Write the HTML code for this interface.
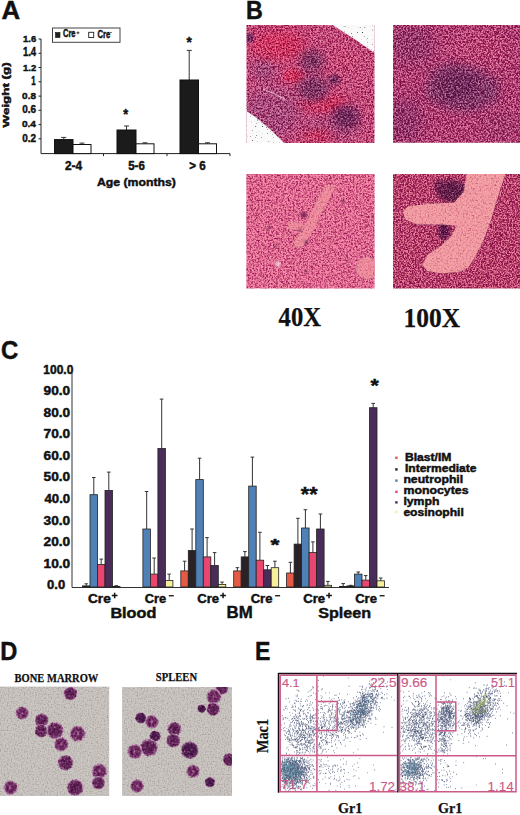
<!DOCTYPE html>
<html><head><meta charset="utf-8"><style>
html,body{margin:0;padding:0;background:#fff}
body{width:520px;height:815px;overflow:hidden;position:relative}
svg{position:absolute;left:0;top:0;display:block}

</style></head><body>
<svg width="520" height="815" viewBox="0 0 520 815" font-family="Liberation Sans">
<defs>
<filter id="b1" x="-60%" y="-60%" width="220%" height="220%"><feGaussianBlur stdDeviation="1"/></filter>
<filter id="b2" x="-60%" y="-60%" width="220%" height="220%"><feGaussianBlur stdDeviation="2"/></filter>
<filter id="b4" x="-60%" y="-60%" width="220%" height="220%"><feGaussianBlur stdDeviation="4"/></filter>
<filter id="b6" x="-60%" y="-60%" width="220%" height="220%"><feGaussianBlur stdDeviation="6"/></filter>
<filter id="tx" color-interpolation-filters="sRGB" x="0" y="0" width="1" height="1">
 <feTurbulence type="fractalNoise" baseFrequency="0.55" numOctaves="3" seed="5" result="n1"/>
 <feTurbulence type="fractalNoise" baseFrequency="0.55" numOctaves="3" seed="23" result="n2"/>
 <feBlend in="n1" in2="n2" mode="lighten" result="n"/>
 <feColorMatrix in="n" type="matrix" values="1.9 0 0 0 -0.6399999999999999  1.9 0 0 0 -0.6399999999999999  1.9 0 0 0 -0.6399999999999999  0 0 0 0 1" result="g"/>
 <feComponentTransfer in="g" result="m">
  <feFuncR type="table" tableValues="0.3 0.32 0.35 0.4 0.45 0.5 0.57 0.64 0.7 0.75 0.8"/>
  <feFuncG type="table" tableValues="0.08 0.1 0.16 0.27 0.39 0.5 0.55 0.59 0.62 0.64 0.66"/>
  <feFuncB type="table" tableValues="0.24 0.26 0.3 0.36 0.43 0.5 0.56 0.6 0.63 0.65 0.67"/>
 </feComponentTransfer>
 <feBlend in="m" in2="SourceGraphic" mode="hard-light" result="b"/>
 <feComposite in="b" in2="SourceGraphic" operator="in"/>
</filter>
<filter id="tx2" color-interpolation-filters="sRGB" x="0" y="0" width="1" height="1">
 <feTurbulence type="fractalNoise" baseFrequency="0.6" numOctaves="3" seed="7" result="n1"/>
 <feTurbulence type="fractalNoise" baseFrequency="0.6" numOctaves="3" seed="31" result="n2"/>
 <feBlend in="n1" in2="n2" mode="lighten" result="n"/>
 <feColorMatrix in="n" type="matrix" values="1.9 0 0 0 -0.6399999999999999  1.9 0 0 0 -0.6399999999999999  1.9 0 0 0 -0.6399999999999999  0 0 0 0 1" result="g"/>
 <feComponentTransfer in="g" result="m">
  <feFuncR type="table" tableValues="0.3 0.32 0.35 0.4 0.45 0.5 0.57 0.64 0.7 0.75 0.8"/>
  <feFuncG type="table" tableValues="0.08 0.1 0.16 0.27 0.39 0.5 0.55 0.59 0.62 0.64 0.66"/>
  <feFuncB type="table" tableValues="0.24 0.26 0.3 0.36 0.43 0.5 0.56 0.6 0.63 0.65 0.67"/>
 </feComponentTransfer>
 <feBlend in="m" in2="SourceGraphic" mode="hard-light" result="b"/>
 <feComposite in="b" in2="SourceGraphic" operator="in"/>
</filter>
<filter id="tx3" color-interpolation-filters="sRGB" x="0" y="0" width="1" height="1">
 <feTurbulence type="fractalNoise" baseFrequency="0.6" numOctaves="3" seed="8" result="n1"/>
 <feTurbulence type="fractalNoise" baseFrequency="0.6" numOctaves="3" seed="33" result="n2"/>
 <feBlend in="n1" in2="n2" mode="lighten" result="n"/>
 <feColorMatrix in="n" type="matrix" values="1.4 0 0 0 -0.31199999999999994  1.4 0 0 0 -0.31199999999999994  1.4 0 0 0 -0.31199999999999994  0 0 0 0 1" result="g"/>
 <feComponentTransfer in="g" result="m">
  <feFuncR type="table" tableValues="0.3 0.32 0.35 0.4 0.45 0.5 0.57 0.64 0.7 0.75 0.8"/>
  <feFuncG type="table" tableValues="0.08 0.1 0.16 0.27 0.39 0.5 0.55 0.59 0.62 0.64 0.66"/>
  <feFuncB type="table" tableValues="0.24 0.26 0.3 0.36 0.43 0.5 0.56 0.6 0.63 0.65 0.67"/>
 </feComponentTransfer>
 <feBlend in="m" in2="SourceGraphic" mode="hard-light" result="b"/>
 <feComposite in="b" in2="SourceGraphic" operator="in"/>
</filter>
<filter id="tx4" color-interpolation-filters="sRGB" x="0" y="0" width="1" height="1">
 <feTurbulence type="fractalNoise" baseFrequency="0.6" numOctaves="3" seed="9" result="n1"/>
 <feTurbulence type="fractalNoise" baseFrequency="0.6" numOctaves="3" seed="37" result="n2"/>
 <feBlend in="n1" in2="n2" mode="lighten" result="n"/>
 <feColorMatrix in="n" type="matrix" values="2.3 0 0 0 -0.8339999999999999  2.3 0 0 0 -0.8339999999999999  2.3 0 0 0 -0.8339999999999999  0 0 0 0 1" result="g"/>
 <feComponentTransfer in="g" result="m">
  <feFuncR type="table" tableValues="0.3 0.32 0.35 0.4 0.45 0.5 0.57 0.64 0.7 0.75 0.8"/>
  <feFuncG type="table" tableValues="0.08 0.1 0.16 0.27 0.39 0.5 0.55 0.59 0.62 0.64 0.66"/>
  <feFuncB type="table" tableValues="0.24 0.26 0.3 0.36 0.43 0.5 0.56 0.6 0.63 0.65 0.67"/>
 </feComponentTransfer>
 <feBlend in="m" in2="SourceGraphic" mode="hard-light" result="b"/>
 <feComposite in="b" in2="SourceGraphic" operator="in"/>
</filter>
<filter id="tx5" color-interpolation-filters="sRGB" x="0" y="0" width="1" height="1">
 <feTurbulence type="fractalNoise" baseFrequency="0.65" numOctaves="3" seed="10" result="n1"/>
 <feTurbulence type="fractalNoise" baseFrequency="0.65" numOctaves="3" seed="41" result="n2"/>
 <feBlend in="n1" in2="n2" mode="lighten" result="n"/>
 <feColorMatrix in="n" type="matrix" values="2.1 0 0 0 -0.76  2.1 0 0 0 -0.76  2.1 0 0 0 -0.76  0 0 0 0 1" result="g"/>
 <feComponentTransfer in="g" result="m">
  <feFuncR type="table" tableValues="0.3 0.32 0.35 0.4 0.45 0.5 0.57 0.64 0.7 0.75 0.8"/>
  <feFuncG type="table" tableValues="0.08 0.1 0.16 0.27 0.39 0.5 0.55 0.59 0.62 0.64 0.66"/>
  <feFuncB type="table" tableValues="0.24 0.26 0.3 0.36 0.43 0.5 0.56 0.6 0.63 0.65 0.67"/>
 </feComponentTransfer>
 <feBlend in="m" in2="SourceGraphic" mode="hard-light" result="b"/>
 <feComposite in="b" in2="SourceGraphic" operator="in"/>
</filter>
<filter id="txv" color-interpolation-filters="sRGB" x="0" y="0" width="1" height="1">
 <feTurbulence type="fractalNoise" baseFrequency="0.6" numOctaves="3" seed="12" result="n1"/>
 <feTurbulence type="fractalNoise" baseFrequency="0.6" numOctaves="3" seed="43" result="n2"/>
 <feBlend in="n1" in2="n2" mode="lighten" result="n"/>
 <feColorMatrix in="n" type="matrix" values="0.7 0 0 0 0.15000000000000002  0.7 0 0 0 0.15000000000000002  0.7 0 0 0 0.15000000000000002  0 0 0 0 1" result="g"/>
 <feComponentTransfer in="g" result="m">
  <feFuncR type="table" tableValues="0.3 0.32 0.35 0.4 0.45 0.5 0.57 0.64 0.7 0.75 0.8"/>
  <feFuncG type="table" tableValues="0.08 0.1 0.16 0.27 0.39 0.5 0.55 0.59 0.62 0.64 0.66"/>
  <feFuncB type="table" tableValues="0.24 0.26 0.3 0.36 0.43 0.5 0.56 0.6 0.63 0.65 0.67"/>
 </feComponentTransfer>
 <feBlend in="m" in2="SourceGraphic" mode="hard-light" result="b"/>
 <feComposite in="b" in2="SourceGraphic" operator="in"/>
</filter>
<filter id="tx6" color-interpolation-filters="sRGB" x="0" y="0" width="1" height="1">
 <feTurbulence type="fractalNoise" baseFrequency="0.6" numOctaves="3" seed="14" result="n1"/>
 <feTurbulence type="fractalNoise" baseFrequency="0.6" numOctaves="3" seed="47" result="n2"/>
 <feBlend in="n1" in2="n2" mode="lighten" result="n"/>
 <feColorMatrix in="n" type="matrix" values="2.1 0 0 0 -0.6760000000000002  2.1 0 0 0 -0.6760000000000002  2.1 0 0 0 -0.6760000000000002  0 0 0 0 1" result="g"/>
 <feComponentTransfer in="g" result="m">
  <feFuncR type="table" tableValues="0.3 0.32 0.35 0.4 0.45 0.5 0.57 0.64 0.7 0.75 0.8"/>
  <feFuncG type="table" tableValues="0.08 0.1 0.16 0.27 0.39 0.5 0.55 0.59 0.62 0.64 0.66"/>
  <feFuncB type="table" tableValues="0.24 0.26 0.3 0.36 0.43 0.5 0.56 0.6 0.63 0.65 0.67"/>
 </feComponentTransfer>
 <feBlend in="m" in2="SourceGraphic" mode="hard-light" result="b"/>
 <feComposite in="b" in2="SourceGraphic" operator="in"/>
</filter>
<filter id="dots" color-interpolation-filters="sRGB" x="0" y="0" width="1" height="1">
 <feTurbulence type="fractalNoise" baseFrequency="0.8" numOctaves="1" seed="9" result="n"/>
 <feColorMatrix in="n" type="matrix" values="5 0 0 0 -0.7  5 0 0 0 -0.7  5 0 0 0 -0.7  0 0 0 0 1" result="m"/>
 <feBlend in="m" in2="SourceGraphic" mode="multiply" result="b"/>
 <feComposite in="b" in2="SourceGraphic" operator="in"/>
</filter>
<clipPath id="cB1"><rect x="246.5" y="25" width="128" height="118"/></clipPath>
<clipPath id="cB2"><rect x="393" y="25" width="127" height="117.7"/></clipPath>
<clipPath id="cB3"><rect x="246.3" y="174" width="128.3" height="114.5"/></clipPath>
<clipPath id="cB4"><rect x="393" y="174" width="127" height="114.5"/></clipPath>
<filter id="cellT" color-interpolation-filters="sRGB" x="-0.1" y="-0.1" width="1.2" height="1.2">
 <feTurbulence type="fractalNoise" baseFrequency="0.45" numOctaves="2" seed="13" result="n1"/>
 <feTurbulence type="fractalNoise" baseFrequency="0.45" numOctaves="2" seed="17" result="n2"/>
 <feBlend in="n1" in2="n2" mode="lighten" result="n"/>
 <feColorMatrix in="n" type="matrix" values="1.2 0 0 0 -0.17200000000000004  1.2 0 0 0 -0.17200000000000004  1.2 0 0 0 -0.17200000000000004  0 0 0 0 1" result="g"/>
 <feComponentTransfer in="g" result="m">
  <feFuncR type="table" tableValues="0.3 0.32 0.35 0.4 0.45 0.5 0.57 0.64 0.7 0.75 0.8"/>
  <feFuncG type="table" tableValues="0.08 0.1 0.16 0.27 0.39 0.5 0.55 0.59 0.62 0.64 0.66"/>
  <feFuncB type="table" tableValues="0.24 0.26 0.3 0.36 0.43 0.5 0.56 0.6 0.63 0.65 0.67"/>
 </feComponentTransfer>
 <feBlend in="m" in2="SourceGraphic" mode="hard-light" result="b"/>
 <feComposite in="b" in2="SourceGraphic" operator="in"/>
</filter>
<filter id="gn" color-interpolation-filters="sRGB" x="0" y="0" width="1" height="1">
 <feTurbulence type="fractalNoise" baseFrequency="0.7" numOctaves="2" seed="41" result="n"/>
 <feColorMatrix in="n" type="matrix" values="1 0 0 0 0  1 0 0 0 0  1 0 0 0 0  0 0 0 0 1" result="g"/>
 <feComponentTransfer in="g" result="m"><feFuncR type="linear" slope="0.24" intercept="0.38"/><feFuncG type="linear" slope="0.24" intercept="0.38"/><feFuncB type="linear" slope="0.24" intercept="0.38"/></feComponentTransfer>
 <feBlend in="m" in2="SourceGraphic" mode="hard-light" result="b"/>
 <feComposite in="b" in2="SourceGraphic" operator="in"/>
</filter>
<radialGradient id="cellA"><stop offset="0" stop-color="#5e2458"/><stop offset="0.55" stop-color="#662a60"/><stop offset="0.74" stop-color="#74366c"/><stop offset="0.84" stop-color="#9a6a94"/><stop offset="0.93" stop-color="#c8a8c0"/><stop offset="1" stop-color="#c3bdb9" stop-opacity="0"/></radialGradient>
<radialGradient id="cellB"><stop offset="0" stop-color="#c890b4"/><stop offset="0.13" stop-color="#9a5088"/><stop offset="0.28" stop-color="#6e2e64"/><stop offset="0.64" stop-color="#72326a"/><stop offset="0.78" stop-color="#96588a"/><stop offset="0.9" stop-color="#caa8c0"/><stop offset="1" stop-color="#c3bdb9" stop-opacity="0"/></radialGradient>
<radialGradient id="cellC"><stop offset="0" stop-color="#4c1c4e"/><stop offset="0.72" stop-color="#542258"/><stop offset="0.85" stop-color="#8a6088"/><stop offset="0.94" stop-color="#c0a4bc"/><stop offset="1" stop-color="#c3bdb9" stop-opacity="0"/></radialGradient>
<clipPath id="cD1"><rect x="0" y="686.8" width="109.1" height="109"/></clipPath>
<clipPath id="cD2"><rect x="122.3" y="687" width="109.7" height="108.7"/></clipPath>
</defs>
<g stroke="#222" stroke-width="1" fill="none">
<path d="M41 39.0V153.6H230"/>
<path d="M38.5 138.8H41"/>
<path d="M38.5 124.6H41"/>
<path d="M38.5 110.3H41"/>
<path d="M38.5 96.1H41"/>
<path d="M38.5 81.8H41"/>
<path d="M38.5 67.5H41"/>
<path d="M38.5 53.3H41"/>
<path d="M38.5 39.0H41"/>
<path d="M103.5 153.6v2.5"/>
<path d="M167 153.6v2.5"/>
<path d="M230 153.6v2.5"/>
</g>
<path d="M63.8 139.6V137.4M61.2 137.4h5" stroke="#333" stroke-width="1"/>
<rect x="54.5" y="139.6" width="18.5" height="14.0" fill="#1b1b1b" stroke="#111" stroke-width="1"/>
<path d="M82.0 144.5V143.1M79.5 143.1h5" stroke="#333" stroke-width="1"/>
<rect x="73" y="144.5" width="18" height="9.1" fill="#fff" stroke="#111" stroke-width="1"/>
<path d="M126.5 130.0V126.0M124.0 126.0h5" stroke="#333" stroke-width="1"/>
<rect x="117" y="130.0" width="19" height="23.6" fill="#1b1b1b" stroke="#111" stroke-width="1"/>
<path d="M145.0 143.8V142.8M142.5 142.8h5" stroke="#333" stroke-width="1"/>
<rect x="136" y="143.8" width="18" height="9.8" fill="#fff" stroke="#111" stroke-width="1"/>
<path d="M189.2 80.0V50.4M186.8 50.4h5" stroke="#333" stroke-width="1"/>
<rect x="180" y="80.0" width="18.5" height="73.6" fill="#1b1b1b" stroke="#111" stroke-width="1"/>
<path d="M207.5 143.8V142.8M205.0 142.8h5" stroke="#333" stroke-width="1"/>
<rect x="198.5" y="143.8" width="18.0" height="9.8" fill="#fff" stroke="#111" stroke-width="1"/>
<rect x="52.5" y="28" width="67.5" height="14.3" fill="#fff" stroke="#444" stroke-width="1"/>
<rect x="55.5" y="32.5" width="4.5" height="5" fill="#222" stroke="#111" stroke-width=".6"/>
<rect x="88.7" y="32.3" width="5" height="5.2" fill="#fff" stroke="#222" stroke-width=".9"/>
<path d="M76.6 32.8h2.8M78 31.5v2.7" stroke="#222" stroke-width=".9" fill="none"/>
<rect x="110.2" y="32" width="1.4" height="1" fill="#333"/>
<g clip-path="url(#cB1)"><g filter="url(#tx6)">
<rect x="246" y="24" width="130" height="120" fill="#d65e8a"/>
<ellipse cx="272" cy="112" rx="30" ry="26" fill="#b85c8c" filter="url(#b6)"/>
<ellipse cx="264" cy="70" rx="12" ry="12" fill="#b05a8a" filter="url(#b4)"/>
<ellipse cx="330" cy="128" rx="30" ry="12" fill="#bc5c8a" filter="url(#b6)"/>
<ellipse cx="278" cy="45" rx="28" ry="15" fill="#e4406c" filter="url(#b6)"/>
<ellipse cx="324" cy="103" rx="24" ry="8" fill="#e43c68" filter="url(#b4)"/>
<ellipse cx="294" cy="76" rx="11" ry="7" fill="#e43c68" filter="url(#b2)"/>
<ellipse cx="318" cy="136" rx="16" ry="6" fill="#e0426c" filter="url(#b4)"/>
<ellipse cx="345" cy="60" rx="14" ry="12" fill="#dc5c84" filter="url(#b6)"/>
<ellipse cx="312" cy="61" rx="12" ry="11" fill="#88406f" filter="url(#b4)"/>
<ellipse cx="313" cy="89" rx="16" ry="13" fill="#8a4272" filter="url(#b4)"/>
<ellipse cx="346" cy="117" rx="14" ry="12" fill="#7a366a" filter="url(#b4)"/>
<ellipse cx="334" cy="80" rx="6" ry="5" fill="#7a3468" filter="url(#b2)"/>
<ellipse cx="250" cy="38" rx="4" ry="5" fill="#80306a" filter="url(#b1)"/>
</g>
<path d="M263 89L275 94L286 100" stroke="#f4d4e0" stroke-width="1" fill="none" opacity=".8"/>
<g filter="url(#dots)"><path d="M331 24L342 31L356 40L376 54V24Z M245 110L258 119L272 131L285 144H245Z" fill="#fafafa"/></g>
</g>
<g clip-path="url(#cB2)"><g filter="url(#tx4)">
<rect x="392" y="24" width="129" height="120" fill="#cc5c8c"/>
<ellipse cx="412" cy="45" rx="22" ry="20" fill="#b05486" filter="url(#b6)"/>
<ellipse cx="480" cy="50" rx="30" ry="20" fill="#d6648e" filter="url(#b6)"/>
<path d="M430 70L452 62L478 68L500 82L498 100L475 112L450 110L425 98Z" fill="#9a5282" filter="url(#b4)"/>
<ellipse cx="458" cy="86" rx="20" ry="14" fill="#844072" filter="url(#b4)"/>
<ellipse cx="405" cy="120" rx="18" ry="22" fill="#ac5084" filter="url(#b6)"/>
<ellipse cx="500" cy="125" rx="20" ry="14" fill="#c05a8a" filter="url(#b6)"/>
</g></g>
<g clip-path="url(#cB3)"><g filter="url(#tx3)">
<rect x="246" y="173" width="130" height="117" fill="#f282a2"/>
<circle cx="303.6" cy="215" r="3" fill="#8a3060" filter="url(#b1)"/>
<circle cx="300" cy="229.8" r="2" fill="#8a3060" filter="url(#b1)"/>
<circle cx="306" cy="242" r="2" fill="#8a3060" filter="url(#b1)"/>
<circle cx="276.5" cy="245.8" r="1.6" fill="#8a3060" filter="url(#b1)"/>
<circle cx="269" cy="227" r="1.5" fill="#8a3060" filter="url(#b1)"/>
<circle cx="306" cy="271.7" r="1.6" fill="#8a3060" filter="url(#b1)"/>
<circle cx="343" cy="201.5" r="1.5" fill="#8a3060" filter="url(#b1)"/>
</g>
<g filter="url(#txv)"><g fill="#ee8a9a" stroke="#ee8a9a" stroke-linecap="round">
<path d="M331 185L318.4 208.9L308.5 228.6L299 243" stroke-width="10" fill="none"/>
<path d="M288 225L308 229" stroke-width="7" fill="none"/>
<ellipse cx="367" cy="268" rx="11" ry="11" stroke="none"/>
</g></g>
<circle cx="303.6" cy="215" r="2.2" fill="#8a3060" filter="url(#b1)"/>
<circle cx="300" cy="229.8" r="1.6" fill="#8a3060" filter="url(#b1)"/>
<circle cx="306" cy="242" r="1.6" fill="#8a3060" filter="url(#b1)"/>
<circle cx="278" cy="264" r="2.5" fill="#f6d0dc" filter="url(#b1)"/>
</g>
<g clip-path="url(#cB4)"><g filter="url(#tx5)">
<rect x="392" y="173" width="129" height="117" fill="#dc6a8c"/>
<ellipse cx="452" cy="191" rx="15" ry="11" fill="#74305e" filter="url(#b2)"/>
<ellipse cx="440" cy="186" rx="6" ry="6" fill="#8a3a6a" filter="url(#b2)"/>
<ellipse cx="444" cy="231" rx="6" ry="9" fill="#70285e" filter="url(#b2)"/>
<ellipse cx="459" cy="259" rx="4" ry="8" fill="#70285e" filter="url(#b2)"/>
</g>
<g filter="url(#txv)">
<path d="M505.4 170L505.4 174.4L498 196.4L490.7 220.9L483.4 240.4L476 255L468.7 267.3L459 272L441.9 273.4L427.2 271L422.3 264.8L427.2 255L441.9 245.3L451.6 235.5L456.5 225.7L441.9 224.5L417.4 224.5L405.2 219.6L402.8 212.3L407.7 206.2L429.6 203.8L454 202.5L463.8 191.5L466.3 174.4L466.3 170Z" fill="#f29aa0"/>
</g>
</g>
<g stroke="#333" stroke-width="1" fill="none">
<path d="M72 372.8V587.5H389"/>
</g>
<path d="M86.2 585.9V583.8M84.5 583.8h3.6" stroke="#333" stroke-width="1"/>
<rect x="82.5" y="585.9" width="7.5" height="1.1" fill="#2a2226" stroke="#222" stroke-width=".8"/>
<path d="M93.8 494.7V477.5M92.0 477.5h3.6" stroke="#333" stroke-width="1"/>
<rect x="90.0" y="494.7" width="7.5" height="92.3" fill="#4f80b6" stroke="#222" stroke-width=".8"/>
<path d="M101.2 564.5V559.1M99.5 559.1h3.6" stroke="#333" stroke-width="1"/>
<rect x="97.5" y="564.5" width="7.5" height="22.5" fill="#e8466e" stroke="#222" stroke-width=".8"/>
<path d="M108.8 490.4V472.1M107.0 472.1h3.6" stroke="#333" stroke-width="1"/>
<rect x="105.0" y="490.4" width="7.5" height="96.6" fill="#4a2c58" stroke="#222" stroke-width=".8"/>
<path d="M116.2 586.4V585.7M114.5 585.7h3.6" stroke="#333" stroke-width="1"/>
<rect x="112.5" y="586.4" width="7.5" height="0.6" fill="#f6f09c" stroke="#222" stroke-width=".8"/>
<path d="M146.7 529.0V491.5M144.8 491.5h3.6" stroke="#333" stroke-width="1"/>
<rect x="142.9" y="529.0" width="7.5" height="58.0" fill="#4f80b6" stroke="#222" stroke-width=".8"/>
<path d="M154.2 574.1V558.0M152.3 558.0h3.6" stroke="#333" stroke-width="1"/>
<rect x="150.4" y="574.1" width="7.5" height="12.9" fill="#e8466e" stroke="#222" stroke-width=".8"/>
<path d="M161.7 448.5V399.1M159.8 399.1h3.6" stroke="#333" stroke-width="1"/>
<rect x="157.9" y="448.5" width="7.5" height="138.5" fill="#4a2c58" stroke="#222" stroke-width=".8"/>
<path d="M169.2 580.6V574.1M167.3 574.1h3.6" stroke="#333" stroke-width="1"/>
<rect x="165.4" y="580.6" width="7.5" height="6.4" fill="#f6f09c" stroke="#222" stroke-width=".8"/>
<path d="M184.6 570.9V561.2M182.8 561.2h3.6" stroke="#333" stroke-width="1"/>
<rect x="180.8" y="570.9" width="7.5" height="16.1" fill="#e45a44" stroke="#222" stroke-width=".8"/>
<path d="M192.1 550.5V529.0M190.2 529.0h3.6" stroke="#333" stroke-width="1"/>
<rect x="188.3" y="550.5" width="7.5" height="36.5" fill="#2a2226" stroke="#222" stroke-width=".8"/>
<path d="M199.6 479.6V458.2M197.8 458.2h3.6" stroke="#333" stroke-width="1"/>
<rect x="195.8" y="479.6" width="7.5" height="107.4" fill="#4f80b6" stroke="#222" stroke-width=".8"/>
<path d="M207.1 556.9V537.6M205.2 537.6h3.6" stroke="#333" stroke-width="1"/>
<rect x="203.3" y="556.9" width="7.5" height="30.1" fill="#e8466e" stroke="#222" stroke-width=".8"/>
<path d="M214.6 565.5V552.6M212.8 552.6h3.6" stroke="#333" stroke-width="1"/>
<rect x="210.8" y="565.5" width="7.5" height="21.5" fill="#4a2c58" stroke="#222" stroke-width=".8"/>
<path d="M222.1 584.4V582.1M220.2 582.1h3.6" stroke="#333" stroke-width="1"/>
<rect x="218.3" y="584.4" width="7.5" height="2.6" fill="#f6f09c" stroke="#222" stroke-width=".8"/>
<path d="M237.4 570.9V567.7M235.6 567.7h3.6" stroke="#333" stroke-width="1"/>
<rect x="233.7" y="570.9" width="7.5" height="16.1" fill="#e45a44" stroke="#222" stroke-width=".8"/>
<path d="M244.9 556.9V551.6M243.1 551.6h3.6" stroke="#333" stroke-width="1"/>
<rect x="241.2" y="556.9" width="7.5" height="30.1" fill="#2a2226" stroke="#222" stroke-width=".8"/>
<path d="M252.4 486.1V457.1M250.6 457.1h3.6" stroke="#333" stroke-width="1"/>
<rect x="248.7" y="486.1" width="7.5" height="100.9" fill="#4f80b6" stroke="#222" stroke-width=".8"/>
<path d="M259.9 560.2V532.3M258.1 532.3h3.6" stroke="#333" stroke-width="1"/>
<rect x="256.2" y="560.2" width="7.5" height="26.8" fill="#e8466e" stroke="#222" stroke-width=".8"/>
<path d="M267.4 569.8V565.5M265.6 565.5h3.6" stroke="#333" stroke-width="1"/>
<rect x="263.7" y="569.8" width="7.5" height="17.2" fill="#4a2c58" stroke="#222" stroke-width=".8"/>
<path d="M274.9 567.7V561.2M273.1 561.2h3.6" stroke="#333" stroke-width="1"/>
<rect x="271.2" y="567.7" width="7.5" height="19.3" fill="#f6f09c" stroke="#222" stroke-width=".8"/>
<path d="M290.4 573.0V562.3M288.6 562.3h3.6" stroke="#333" stroke-width="1"/>
<rect x="286.6" y="573.0" width="7.5" height="14.0" fill="#e45a44" stroke="#222" stroke-width=".8"/>
<path d="M297.9 544.1V518.3M296.1 518.3h3.6" stroke="#333" stroke-width="1"/>
<rect x="294.1" y="544.1" width="7.5" height="42.9" fill="#2a2226" stroke="#222" stroke-width=".8"/>
<path d="M305.4 528.0V509.7M303.6 509.7h3.6" stroke="#333" stroke-width="1"/>
<rect x="301.6" y="528.0" width="7.5" height="59.0" fill="#4f80b6" stroke="#222" stroke-width=".8"/>
<path d="M312.9 552.6V541.9M311.1 541.9h3.6" stroke="#333" stroke-width="1"/>
<rect x="309.1" y="552.6" width="7.5" height="34.4" fill="#e8466e" stroke="#222" stroke-width=".8"/>
<path d="M320.4 529.0V514.0M318.6 514.0h3.6" stroke="#333" stroke-width="1"/>
<rect x="316.6" y="529.0" width="7.5" height="58.0" fill="#4a2c58" stroke="#222" stroke-width=".8"/>
<path d="M327.9 585.3V581.4M326.1 581.4h3.6" stroke="#333" stroke-width="1"/>
<rect x="324.1" y="585.3" width="7.5" height="1.7" fill="#f6f09c" stroke="#222" stroke-width=".8"/>
<path d="M343.2 586.4V583.6M341.4 583.6h3.6" stroke="#333" stroke-width="1"/>
<rect x="339.5" y="586.4" width="7.5" height="0.6" fill="#e45a44" stroke="#222" stroke-width=".8"/>
<path d="M350.8 585.9V585.3M348.9 585.3h3.6" stroke="#333" stroke-width="1"/>
<rect x="347.0" y="585.9" width="7.5" height="1.1" fill="#2a2226" stroke="#222" stroke-width=".8"/>
<path d="M358.2 574.1V572.0M356.4 572.0h3.6" stroke="#333" stroke-width="1"/>
<rect x="354.5" y="574.1" width="7.5" height="12.9" fill="#4f80b6" stroke="#222" stroke-width=".8"/>
<path d="M365.8 580.1V575.6M363.9 575.6h3.6" stroke="#333" stroke-width="1"/>
<rect x="362.0" y="580.1" width="7.5" height="6.9" fill="#e8466e" stroke="#222" stroke-width=".8"/>
<path d="M373.2 407.7V403.4M371.4 403.4h3.6" stroke="#333" stroke-width="1"/>
<rect x="369.5" y="407.7" width="7.5" height="179.3" fill="#4a2c58" stroke="#222" stroke-width=".8"/>
<path d="M380.8 580.8V578.0M378.9 578.0h3.6" stroke="#333" stroke-width="1"/>
<rect x="377.0" y="580.8" width="7.5" height="6.2" fill="#f6f09c" stroke="#222" stroke-width=".8"/>
<path d="M111.8 595.5h5.7M114.65 592.7v5.6" stroke="#111" stroke-width="1.5" fill="none"/>
<rect x="168.8" y="595.1" width="5" height="1.3" fill="#111"/>
<path d="M220.2 595.5h5.7M223.05 592.7v5.6" stroke="#111" stroke-width="1.5" fill="none"/>
<rect x="275.1" y="595.1" width="5" height="1.3" fill="#111"/>
<path d="M326.2 595.5h5.7M329.05 592.7v5.6" stroke="#111" stroke-width="1.5" fill="none"/>
<rect x="379.6" y="595.1" width="5" height="1.3" fill="#111"/>
<rect x="395.2" y="456.6" width="2.4" height="2.4" fill="#e45a44"/>
<rect x="395.2" y="468.2" width="2.4" height="2.4" fill="#2a2226"/>
<rect x="395.2" y="479.4" width="2.4" height="2.4" fill="#4f80b6"/>
<rect x="395.2" y="490.6" width="2.4" height="2.4" fill="#e8466e"/>
<rect x="395.2" y="501.2" width="2.4" height="2.4" fill="#4a2c58"/>
<rect x="395.2" y="510.7" width="2.4" height="2.4" fill="#f6f09c"/>
<g filter="url(#gn)"><rect x="0" y="686.8" width="109.1" height="109" fill="#c8c2be"/><rect x="122.3" y="687" width="109.7" height="108.7" fill="#c8c2be"/></g>
<g clip-path="url(#cD1)"><g filter="url(#cellT)">
<circle cx="70.4" cy="693.5" r="7.18" fill="url(#cellA)"/>
<circle cx="22.2" cy="713.1" r="6.95" fill="url(#cellB)"/>
<circle cx="41.7" cy="720.3" r="7.18" fill="url(#cellA)"/>
<circle cx="41.3" cy="730.9" r="6.95" fill="url(#cellA)"/>
<circle cx="55" cy="730.5" r="8.89" fill="url(#cellA)"/>
<circle cx="77.6" cy="733.7" r="8.44" fill="url(#cellB)"/>
<circle cx="61.3" cy="744.2" r="7.64" fill="url(#cellB)"/>
<circle cx="65.6" cy="762.8" r="8.21" fill="url(#cellA)"/>
<circle cx="99.4" cy="771.3" r="8.21" fill="url(#cellB)"/>
<circle cx="98.4" cy="783" r="6.95" fill="url(#cellA)"/>
<circle cx="75.1" cy="787.6" r="8.89" fill="url(#cellA)"/>
<circle cx="10.6" cy="787.6" r="7.64" fill="url(#cellB)"/>
</g></g><g clip-path="url(#cD2)"><g filter="url(#cellT)">
<circle cx="222" cy="688.4" r="6.73" fill="url(#cellA)"/>
<circle cx="213.8" cy="696.7" r="7.98" fill="url(#cellB)"/>
<circle cx="213.2" cy="709.2" r="7.18" fill="url(#cellA)"/>
<circle cx="201.6" cy="708.6" r="4.56" fill="url(#cellC)"/>
<circle cx="140.8" cy="718" r="5.93" fill="url(#cellC)"/>
<circle cx="151.8" cy="721.7" r="7.18" fill="url(#cellB)"/>
<circle cx="174.4" cy="729" r="7.41" fill="url(#cellA)"/>
<circle cx="155.1" cy="736.2" r="5.93" fill="url(#cellC)"/>
<circle cx="173.3" cy="740.6" r="7.41" fill="url(#cellA)"/>
<circle cx="148.9" cy="747.6" r="9.23" fill="url(#cellA)"/>
<circle cx="134.9" cy="751.5" r="7.98" fill="url(#cellB)"/>
<circle cx="189.7" cy="750.2" r="9.23" fill="url(#cellC)"/>
<circle cx="229" cy="759.6" r="6.73" fill="url(#cellA)"/>
<circle cx="193" cy="771.3" r="7.18" fill="url(#cellB)"/>
<circle cx="209.9" cy="782.2" r="5.47" fill="url(#cellC)"/>
<circle cx="137.1" cy="786" r="7.18" fill="url(#cellB)"/>
</g></g>
<path d="M282.0 774.0h.6M302.0 766.9h.6M281.0 770.5h.6M297.3 779.8h.6M282.1 760.7h.6M299.4 774.8h.6M306.8 778.9h.6M292.1 768.8h.6M285.9 761.9h.6M293.9 772.2h.6M289.9 770.5h.6M295.5 776.5h.6M302.9 772.7h.6M286.0 772.7h.6M300.6 760.4h.6M290.4 776.3h.6M292.2 774.0h.6M293.9 763.0h.6M298.1 764.5h.6M309.8 767.0h.6M299.2 771.0h.6M301.6 766.2h.6M302.0 770.0h.6M304.4 776.0h.6M294.3 764.8h.6M299.9 774.7h.6M307.8 768.0h.6M298.0 775.1h.6M295.5 772.7h.6M294.6 766.2h.6M283.9 767.8h.6M298.3 783.1h.6M301.8 779.4h.6M300.0 776.6h.6M294.7 777.2h.6M309.0 768.4h.6M286.8 786.7h.6M295.2 778.8h.6M300.9 761.9h.6M314.9 785.2h.6M294.6 777.0h.6M294.1 763.9h.6M292.0 774.0h.6M303.0 776.7h.6M293.5 781.8h.6M286.2 777.3h.6M303.0 768.7h.6M295.1 775.2h.6M306.9 763.0h.6M293.0 776.2h.6M300.3 789.5h.6M302.0 763.7h.6M289.3 772.8h.6M294.0 783.5h.6M292.3 785.9h.6M286.8 767.2h.6M299.5 782.4h.6M298.9 773.4h.6M287.5 766.7h.6M298.3 768.3h.6M300.1 771.7h.6M290.0 771.9h.6M296.9 777.9h.6M288.7 769.1h.6M306.1 769.6h.6M288.7 761.1h.6M294.5 772.7h.6M312.6 773.0h.6M305.7 772.5h.6M303.1 775.6h.6M291.9 758.6h.6M284.8 780.8h.6M307.8 761.6h.6M300.7 763.1h.6M286.8 765.4h.6M282.3 765.6h.6M304.3 776.5h.6M311.5 770.3h.6M291.8 763.1h.6M291.9 760.5h.6M306.0 777.7h.6M305.0 773.0h.6M286.5 771.7h.6M289.6 762.1h.6M293.0 772.2h.6M288.7 782.4h.6M294.6 775.7h.6M304.0 764.4h.6M286.8 781.5h.6M296.0 779.1h.6M299.5 765.6h.6M286.2 767.5h.6M299.9 778.1h.6M302.1 757.7h.6M292.1 775.8h.6M286.1 773.0h.6M295.1 779.1h.6M285.6 764.4h.6M286.1 785.0h.6M302.8 770.0h.6M295.0 771.9h.6M294.8 769.3h.6M290.0 760.9h.6M287.2 784.2h.6M297.8 771.5h.6M291.1 771.5h.6M296.2 765.8h.6M294.8 772.9h.6M286.3 764.7h.6M284.0 762.5h.6M290.6 766.1h.6M287.4 771.8h.6M303.2 771.6h.6M291.7 766.1h.6M291.8 778.3h.6M289.5 761.8h.6M281.6 762.1h.6M296.2 769.1h.6M306.1 765.7h.6M299.8 777.4h.6M284.7 778.3h.6M304.7 761.2h.6M302.4 767.9h.6M289.5 766.6h.6M284.0 761.1h.6M297.4 787.7h.6M284.5 786.9h.6M298.1 765.2h.6M301.4 775.3h.6M290.8 771.2h.6M294.2 768.3h.6M294.7 766.3h.6M284.9 783.1h.6M296.2 774.5h.6M300.4 760.7h.6M302.9 767.9h.6M296.6 769.9h.6M295.0 780.6h.6M289.4 783.5h.6M286.0 763.5h.6M299.4 762.5h.6M289.7 778.3h.6M297.6 786.1h.6M303.8 769.1h.6M287.6 768.6h.6M282.6 768.9h.6M291.3 769.8h.6M303.6 769.2h.6M283.3 767.4h.6M291.8 768.2h.6M284.0 769.0h.6M312.7 766.1h.6M291.8 780.0h.6M299.7 777.1h.6M285.2 772.0h.6M297.5 781.4h.6M297.2 769.1h.6M293.4 769.3h.6M295.2 776.4h.6M289.9 764.5h.6M285.3 779.8h.6M304.5 778.9h.6M300.7 777.7h.6M293.0 776.3h.6M283.5 769.4h.6M286.4 776.8h.6M287.8 770.1h.6M296.6 781.8h.6M285.9 763.5h.6M300.4 762.1h.6M297.1 766.4h.6M299.4 767.0h.6M284.9 787.6h.6M296.7 768.2h.6M294.0 783.9h.6M292.8 774.6h.6M297.6 763.7h.6M294.2 767.0h.6M281.8 778.0h.6M299.0 771.6h.6M297.4 770.2h.6M294.3 773.8h.6M295.0 772.4h.6M282.7 767.9h.6M288.4 769.1h.6M295.4 776.0h.6M296.6 769.4h.6M313.5 778.5h.6M288.3 778.9h.6M283.5 770.2h.6M291.8 770.2h.6M297.1 779.0h.6M292.4 762.9h.6M294.8 775.5h.6M291.4 770.9h.6M305.7 762.1h.6M286.7 765.1h.6M284.4 765.4h.6M309.2 769.4h.6M292.0 788.6h.6M292.5 757.1h.6M296.6 763.5h.6M307.7 761.0h.6M287.8 758.2h.6M293.9 762.9h.6M292.4 768.0h.6M287.5 778.5h.6M301.4 771.5h.6M284.9 762.4h.6M295.4 790.1h.6M288.9 764.7h.6M286.7 762.2h.6M284.2 769.4h.6M305.9 771.0h.6M288.4 758.1h.6M294.9 770.8h.6M282.0 762.3h.6M292.6 779.1h.6M298.6 772.6h.6M290.1 773.6h.6M292.9 788.4h.6M282.8 768.1h.6M304.4 768.9h.6M305.8 770.6h.6M294.3 768.0h.6M312.9 776.2h.6M298.5 778.6h.6M298.1 779.2h.6M290.6 769.2h.6M301.9 768.2h.6M281.0 769.2h.6M288.1 775.9h.6M286.5 762.5h.6M290.0 783.4h.6M292.6 772.3h.6M293.1 773.4h.6M301.4 782.2h.6M293.0 768.4h.6M314.6 769.6h.6M310.5 778.7h.6M283.7 774.9h.6M299.6 770.0h.6M291.3 762.1h.6M309.4 769.0h.6M289.5 768.6h.6M285.9 764.8h.6M293.8 773.5h.6M288.4 770.3h.6M286.3 772.7h.6M284.8 766.9h.6M294.9 761.3h.6M292.3 765.1h.6M307.4 782.1h.6M295.7 760.1h.6M288.5 775.9h.6M288.4 761.5h.6M282.3 764.8h.6M293.1 765.8h.6M309.0 762.7h.6M296.1 771.7h.6M291.8 779.3h.6M290.0 768.4h.6M289.6 770.2h.6M304.6 777.2h.6M285.8 777.5h.6M295.0 778.1h.6M297.1 772.8h.6M297.6 760.6h.6M293.7 765.5h.6M286.8 773.8h.6M296.2 763.9h.6M287.8 780.0h.6M285.2 774.4h.6M308.1 780.3h.6M296.3 772.6h.6M283.5 767.4h.6M290.0 764.8h.6M293.6 767.9h.6M296.0 782.5h.6M299.7 774.3h.6M290.8 758.8h.6M292.0 775.3h.6M283.9 781.0h.6M290.0 774.0h.6M290.0 761.0h.6M311.6 761.7h.6M301.3 766.6h.6M295.5 764.6h.6M289.3 778.4h.6M310.5 764.2h.6M293.1 778.6h.6M287.3 776.7h.6M285.9 775.8h.6M296.9 780.7h.6M296.3 761.5h.6M299.0 762.2h.6M299.8 783.1h.6M298.4 766.6h.6M303.7 772.3h.6M281.8 768.2h.6M305.8 768.6h.6M294.1 768.3h.6M296.2 772.7h.6M304.0 776.8h.6M302.2 781.4h.6M289.0 766.2h.6M295.8 784.4h.6M286.6 775.5h.6M306.2 768.6h.6M281.8 771.4h.6M290.4 758.7h.6M301.0 766.8h.6M299.1 760.5h.6M302.9 759.5h.6M305.4 768.0h.6M296.0 763.1h.6M288.6 773.2h.6M289.1 774.4h.6M295.7 779.1h.6M300.2 773.5h.6M302.8 778.6h.6M293.9 766.0h.6M302.2 774.4h.6M297.2 771.9h.6M295.5 776.1h.6M294.3 783.7h.6M287.7 767.8h.6M295.9 777.0h.6M300.1 782.9h.6M288.7 780.3h.6M297.2 762.7h.6M291.8 787.7h.6M300.1 767.2h.6M286.7 771.6h.6M313.8 777.0h.6M295.8 763.5h.6M282.3 769.3h.6M289.4 766.1h.6M303.2 771.6h.6M281.9 781.3h.6M290.2 760.4h.6M295.9 774.9h.6M290.0 776.6h.6M300.4 763.9h.6M291.8 780.8h.6M302.0 782.1h.6M309.7 771.1h.6M302.5 758.8h.6M299.2 774.1h.6M292.2 767.5h.6M283.0 772.1h.6M304.5 768.1h.6M297.8 765.7h.6M295.3 762.9h.6M296.4 769.3h.6M295.8 766.1h.6M282.4 768.4h.6M302.3 783.6h.6M290.1 777.4h.6M299.8 774.1h.6M284.3 780.4h.6M300.1 775.9h.6M299.3 760.8h.6M301.7 771.6h.6M291.4 765.3h.6M283.8 767.5h.6M294.9 765.8h.6M287.4 766.6h.6M285.0 778.0h.6M290.6 777.9h.6M282.6 778.4h.6M292.8 776.3h.6M292.1 763.9h.6M303.9 767.5h.6M291.7 763.9h.6M294.8 767.9h.6M295.5 773.8h.6M286.8 759.7h.6M296.9 778.3h.6M299.3 761.8h.6M298.4 774.1h.6M295.6 774.4h.6M290.1 772.7h.6M301.3 767.0h.6M286.9 775.7h.6M291.6 771.7h.6M281.7 778.3h.6M308.8 769.4h.6M286.4 761.7h.6M301.0 771.8h.6M285.9 780.7h.6M299.9 775.8h.6M298.6 761.2h.6M301.4 782.4h.6M302.3 765.2h.6M286.6 778.5h.6M301.9 780.8h.6M303.8 770.2h.6M300.1 789.2h.6M288.8 767.2h.6M298.8 774.0h.6M283.1 787.2h.6M286.5 777.8h.6M310.3 786.2h.6M305.8 784.0h.6M281.9 768.2h.6M286.4 768.7h.6M298.0 761.1h.6M305.0 781.4h.6M288.4 787.6h.6M293.7 781.4h.6M295.8 766.5h.6M289.6 770.1h.6M298.6 772.0h.6M314.2 769.5h.6M288.8 765.2h.6M286.0 759.5h.6M284.1 778.3h.6M293.5 769.6h.6M296.2 779.5h.6M298.5 777.2h.6M288.0 768.9h.6M286.0 770.2h.6M285.6 768.0h.6M291.4 769.3h.6M290.6 767.1h.6M304.8 768.3h.6M283.9 772.5h.6M283.2 762.4h.6M293.8 757.7h.6M302.3 757.6h.6M284.9 775.6h.6M282.2 769.4h.6M291.7 773.4h.6M291.6 760.3h.6M293.1 764.2h.6M290.1 769.3h.6M300.0 777.1h.6M284.0 770.9h.6M306.1 775.0h.6M286.4 770.0h.6M289.9 778.5h.6M293.3 774.0h.6M312.9 760.0h.6M283.9 757.1h.6M295.6 784.0h.6M306.0 779.2h.6M301.0 778.0h.6M293.3 770.9h.6M293.3 777.7h.6M291.5 773.6h.6M306.1 762.0h.6M286.2 775.5h.6M290.6 769.7h.6M311.9 774.3h.6M289.2 779.8h.6M287.0 771.9h.6M287.3 788.4h.6M297.7 767.8h.6M297.4 764.6h.6M287.6 771.8h.6M296.8 781.8h.6M299.7 786.4h.6M297.1 772.2h.6M291.8 764.1h.6M307.7 761.5h.6M291.9 766.8h.6M289.6 772.1h.6M294.3 777.8h.6M291.5 765.9h.6M295.8 776.3h.6M284.9 758.8h.6M283.8 779.5h.6M302.0 763.9h.6M294.0 777.7h.6M305.0 765.7h.6M290.8 782.3h.6M314.7 783.2h.6M282.7 774.6h.6M290.3 770.5h.6M287.0 767.2h.6M292.9 785.4h.6M299.3 774.4h.6M293.2 765.0h.6M290.9 780.9h.6M300.5 786.7h.6M295.3 770.8h.6M287.3 771.0h.6M284.6 780.1h.6M295.2 761.6h.6M288.6 762.1h.6M298.3 769.5h.6M294.0 766.3h.6M287.9 767.3h.6M296.6 757.2h.6M293.9 780.2h.6M295.1 781.4h.6M290.6 771.0h.6M281.3 763.8h.6M295.2 775.2h.6M303.5 772.0h.6M284.1 774.4h.6M291.7 785.3h.6M310.6 778.7h.6M282.8 766.8h.6M294.7 765.3h.6M297.7 776.5h.6M300.5 772.8h.6M285.0 764.3h.6M291.9 781.6h.6M307.2 778.8h.6M296.3 776.4h.6M300.4 781.3h.6M300.7 758.7h.6M301.6 774.1h.6M288.9 775.2h.6M295.6 770.6h.6M298.0 770.6h.6M299.5 772.4h.6M296.8 768.2h.6M287.1 775.2h.6M289.8 772.5h.6M294.2 758.0h.6M293.9 777.1h.6M286.7 769.1h.6M287.6 776.5h.6M305.3 769.7h.6M301.9 773.0h.6M291.2 768.8h.6M285.3 781.3h.6M300.9 763.0h.6M300.6 765.2h.6M281.5 780.5h.6M294.8 778.2h.6M297.6 780.2h.6M296.1 775.6h.6M295.2 779.8h.6M289.5 779.1h.6M306.6 770.5h.6M297.0 766.9h.6M290.4 773.1h.6M289.9 763.9h.6M292.7 772.5h.6M295.9 776.7h.6M291.5 764.8h.6M289.7 774.5h.6M300.8 768.1h.6M294.4 758.2h.6M294.5 770.1h.6M289.1 778.1h.6M309.1 779.3h.6M286.0 783.2h.6M290.0 770.7h.6M287.8 774.6h.6M298.0 772.2h.6M291.1 769.9h.6M289.4 778.8h.6M288.3 769.8h.6M291.1 765.0h.6M291.0 759.3h.6M296.7 775.3h.6M290.3 783.4h.6M285.6 775.4h.6M297.3 766.7h.6M290.8 778.1h.6M293.6 773.3h.6M305.5 772.7h.6M300.5 770.0h.6M295.9 783.0h.6M297.5 766.7h.6M290.4 768.4h.6M284.9 774.5h.6M301.2 773.9h.6M288.0 779.3h.6M292.0 775.6h.6M284.6 776.2h.6M299.7 781.3h.6M293.3 774.5h.6M287.9 778.0h.6M299.9 779.6h.6M289.6 761.3h.6M292.4 769.4h.6M286.4 775.8h.6M301.5 774.1h.6M302.9 774.1h.6M284.3 766.4h.6M289.9 776.4h.6M301.2 772.1h.6M302.0 764.5h.6M292.0 782.8h.6M297.0 779.3h.6M285.3 779.0h.6M307.5 766.1h.6M284.3 763.0h.6M285.1 775.4h.6M290.2 785.8h.6M299.4 765.6h.6M295.1 769.8h.6M300.0 778.2h.6M289.9 778.1h.6M298.1 770.3h.6M295.3 776.4h.6M290.2 765.7h.6M304.3 771.1h.6M287.8 774.7h.6M301.0 769.6h.6M282.3 784.7h.6M287.5 782.7h.6M288.4 759.5h.6M309.4 767.6h.6M299.8 780.4h.6M281.4 771.6h.6M288.0 775.8h.6M292.9 761.1h.6M293.6 777.0h.6M290.4 775.5h.6M288.3 770.6h.6M296.1 772.2h.6M304.3 778.5h.6M300.5 776.7h.6M294.4 761.9h.6M302.4 784.7h.6M295.0 769.1h.6M292.7 780.5h.6M295.6 763.4h.6M291.5 765.0h.6M291.3 764.0h.6M285.4 782.7h.6M302.3 758.5h.6M284.4 767.6h.6M289.6 760.2h.6M300.9 758.4h.6M299.2 776.5h.6M289.8 765.9h.6M293.6 772.2h.6M297.7 770.2h.6M289.4 763.3h.6M286.9 765.1h.6M306.6 774.8h.6M294.9 772.6h.6M289.7 783.6h.6M297.6 770.8h.6M292.0 772.6h.6M283.0 768.6h.6M287.6 775.9h.6M291.1 778.8h.6M281.7 761.8h.6M301.9 770.1h.6M289.1 761.6h.6M294.6 766.7h.6M294.9 774.4h.6M299.3 768.5h.6M288.5 771.3h.6M292.2 772.4h.6M288.4 769.2h.6M287.9 766.5h.6M294.5 780.1h.6M288.4 775.6h.6M296.1 771.9h.6M299.0 766.7h.6M298.0 773.4h.6M298.4 786.4h.6M283.7 771.8h.6M296.2 763.5h.6M303.6 774.6h.6M286.1 761.7h.6M289.4 789.6h.6M292.1 766.1h.6M298.4 771.8h.6M295.6 773.1h.6M283.5 781.4h.6M289.0 779.9h.6M299.2 771.4h.6M294.3 770.7h.6M296.9 758.4h.6M300.2 758.9h.6M297.1 770.7h.6M301.7 768.5h.6M291.1 765.2h.6M294.7 770.1h.6M287.3 768.3h.6M286.4 776.0h.6M283.9 758.8h.6M284.5 779.6h.6M288.6 776.1h.6M299.6 767.0h.6M299.7 775.0h.6M292.7 765.5h.6M292.5 761.0h.6M290.6 766.5h.6M296.9 773.7h.6M287.4 777.9h.6M303.6 771.6h.6M286.5 775.0h.6M298.2 786.8h.6M286.5 783.1h.6M313.7 785.9h.6M294.7 779.0h.6M291.5 766.2h.6M291.0 782.9h.6M300.5 768.7h.6M296.4 777.9h.6M298.1 770.7h.6M287.2 765.2h.6M289.2 766.7h.6M300.8 762.2h.6M281.3 770.7h.6M305.9 781.0h.6M289.4 762.8h.6M288.2 763.8h.6M288.1 774.8h.6M283.5 764.8h.6M290.7 770.8h.6M286.2 764.8h.6M282.9 765.0h.6M297.7 769.1h.6M292.4 764.1h.6M312.1 788.4h.6M286.4 771.3h.6M300.0 761.2h.6M308.6 765.3h.6M296.2 761.8h.6M296.3 770.9h.6M302.7 761.8h.6M292.9 785.5h.6M282.3 773.8h.6M296.9 767.0h.6M290.6 782.3h.6M303.3 775.5h.6M295.4 762.0h.6M293.8 785.3h.6M302.5 760.2h.6M294.5 766.6h.6M290.2 773.7h.6M301.1 772.7h.6M304.3 759.6h.6M297.2 774.4h.6M296.4 781.9h.6M303.4 762.0h.6M297.4 782.2h.6M291.6 771.6h.6M288.8 776.9h.6M288.0 766.3h.6M281.9 763.6h.6M295.0 774.8h.6M289.5 762.6h.6M296.1 773.9h.6M304.5 767.0h.6M289.3 775.1h.6M306.8 770.6h.6M292.3 763.5h.6M289.6 778.6h.6M300.7 780.0h.6M284.6 775.8h.6M285.0 781.3h.6M294.1 781.5h.6M289.0 786.9h.6M289.0 786.3h.6M288.6 763.1h.6M301.2 767.8h.6M292.5 760.2h.6M289.9 771.9h.6M286.6 774.2h.6M289.3 782.9h.6M289.8 765.7h.6M288.9 773.2h.6M298.4 767.3h.6M285.8 774.5h.6M283.5 765.6h.6M308.5 781.0h.6M300.3 775.0h.6M282.8 780.1h.6M289.0 764.6h.6M310.6 759.3h.6M305.6 772.6h.6M284.6 772.5h.6M285.3 772.5h.6M287.1 761.4h.6M302.0 770.6h.6M299.2 760.8h.6M302.2 774.6h.6M282.3 777.8h.6M295.2 778.4h.6M298.6 777.3h.6M292.8 767.7h.6M299.5 781.0h.6M282.4 761.8h.6M292.6 785.6h.6M291.1 757.3h.6M300.4 777.1h.6M310.7 772.6h.6M311.0 765.2h.6M301.3 772.1h.6M282.2 768.8h.6M305.2 780.1h.6M289.6 780.0h.6M301.3 778.3h.6M295.7 773.5h.6M285.5 770.5h.6M294.2 765.1h.6M290.4 772.4h.6M295.0 779.6h.6M283.7 767.8h.6M295.5 768.0h.6M296.1 767.2h.6M303.8 769.2h.6M282.7 777.1h.6M291.9 771.6h.6M302.5 783.2h.6M291.6 758.4h.6M299.1 779.2h.6M297.3 771.7h.6M285.7 790.8h.6M282.1 758.9h.6M301.9 773.4h.6M299.2 773.9h.6M308.4 782.6h.6M288.0 779.2h.6M282.3 757.2h.6M304.0 767.6h.6M287.0 775.2h.6M292.5 764.8h.6M286.6 777.3h.6M284.6 772.1h.6M284.1 774.7h.6M309.3 775.7h.6M303.2 774.7h.6M284.3 768.6h.6M293.7 774.6h.6M287.6 776.0h.6M286.5 771.6h.6M293.0 761.8h.6M302.2 771.5h.6M294.0 770.8h.6M284.9 779.1h.6M287.8 776.0h.6M283.7 764.2h.6M288.8 779.6h.6M296.8 772.2h.6M292.9 777.3h.6M295.7 762.9h.6M298.8 764.7h.6M290.0 782.8h.6M296.9 764.8h.6M286.2 784.5h.6M296.1 759.9h.6M307.3 775.7h.6M305.0 774.3h.6M291.8 769.7h.6M306.8 765.6h.6M292.2 770.6h.6M292.2 762.7h.6M296.1 769.4h.6M294.9 762.5h.6M293.1 763.2h.6M283.9 773.8h.6M298.8 775.7h.6M292.7 767.9h.6M305.7 781.1h.6M287.3 762.3h.6M296.4 773.6h.6M284.8 789.4h.6M295.3 779.0h.6M306.1 782.4h.6M290.8 771.3h.6M285.0 774.2h.6M281.1 780.0h.6M304.7 779.1h.6M299.0 780.2h.6M295.5 778.0h.6M297.3 777.4h.6M283.8 765.7h.6M284.0 777.7h.6M297.6 764.7h.6M284.1 766.4h.6M301.0 770.1h.6M290.9 765.5h.6M292.0 783.9h.6M286.8 768.2h.6M308.5 776.9h.6M282.7 779.8h.6M281.6 775.6h.6M301.4 766.3h.6M286.5 771.5h.6M293.1 767.3h.6M286.9 785.5h.6M306.6 773.7h.6M282.6 766.8h.6M290.4 775.0h.6M307.6 766.9h.6M294.4 767.6h.6M294.3 765.5h.6M296.5 780.4h.6M289.5 768.4h.6M294.1 760.5h.6M309.5 760.3h.6M289.8 763.9h.6M306.7 767.1h.6M288.5 786.3h.6M292.0 764.8h.6M293.0 772.6h.6M286.3 769.6h.6M291.2 776.9h.6M300.0 777.8h.6M292.0 777.5h.6M291.1 780.4h.6M296.7 767.6h.6M304.2 758.9h.6M284.3 764.6h.6M291.9 761.2h.6M294.1 764.9h.6M312.9 777.3h.6M282.7 781.7h.6M294.0 779.7h.6M283.0 780.4h.6M303.0 767.7h.6M285.4 768.0h.6M295.5 790.5h.6M309.5 783.1h.6M291.1 768.4h.6M296.4 768.9h.6M288.8 769.4h.6M300.7 770.5h.6M295.2 768.9h.6M291.3 768.4h.6M304.5 772.9h.6M306.6 769.7h.6M302.7 759.9h.6M289.4 770.6h.6M287.3 770.1h.6M284.7 769.8h.6M287.0 771.0h.6M290.4 763.0h.6M289.4 771.3h.6M281.5 771.8h.6M304.4 769.2h.6M298.0 776.1h.6M285.8 781.7h.6M312.5 765.4h.6M303.4 772.2h.6M281.5 764.4h.6M283.6 763.8h.6M296.5 769.6h.6M297.3 771.8h.6M295.3 771.3h.6M299.6 760.3h.6M281.2 769.7h.6M296.4 771.0h.6M297.6 763.9h.6M288.7 777.3h.6M308.4 772.3h.6M292.1 781.6h.6M285.0 769.8h.6M288.5 763.2h.6M294.8 787.5h.6M295.3 775.1h.6M292.8 780.1h.6M294.7 764.0h.6M294.0 782.6h.6M292.3 780.7h.6M292.4 787.4h.6M295.6 776.3h.6M290.4 777.8h.6M291.0 759.2h.6M295.8 761.3h.6M306.5 777.4h.6M293.2 776.6h.6M287.2 776.5h.6M289.3 773.8h.6M296.9 757.5h.6M284.6 783.0h.6M287.6 775.5h.6M303.5 771.8h.6M290.6 773.0h.6M297.3 768.7h.6M298.1 786.8h.6M313.2 766.4h.6M281.6 786.5h.6M302.0 780.8h.6M298.5 769.2h.6M301.9 780.1h.6M303.7 762.3h.6M302.4 768.2h.6M289.8 773.9h.6M289.9 789.7h.6M298.2 773.2h.6M291.4 773.1h.6M291.0 775.8h.6M300.9 777.8h.6M281.7 768.4h.6M293.8 761.2h.6M296.5 769.9h.6M293.6 774.1h.6M287.4 783.6h.6M302.5 766.7h.6M297.3 777.1h.6M286.2 768.2h.6M281.2 773.7h.6M298.7 763.6h.6M300.9 788.9h.6M295.0 770.8h.6M293.7 762.9h.6M298.1 772.5h.6M299.8 782.6h.6M293.4 772.5h.6M296.0 785.1h.6M287.4 772.1h.6M300.6 771.6h.6M299.8 772.6h.6M286.7 765.8h.6M289.5 777.9h.6M301.8 764.0h.6M283.3 776.0h.6M285.2 772.8h.6M298.6 768.0h.6M309.2 764.9h.6M297.0 767.8h.6M291.7 775.8h.6M291.9 765.2h.6M288.4 768.6h.6M300.0 768.9h.6M304.3 778.0h.6M286.4 779.4h.6M284.3 770.3h.6M303.5 771.1h.6M291.6 781.4h.6M286.2 764.4h.6M301.9 776.0h.6M300.2 769.8h.6M289.5 772.2h.6M295.0 765.4h.6M300.7 758.4h.6M292.4 788.3h.6M283.5 770.8h.6M282.7 771.6h.6M288.6 785.8h.6M284.8 770.9h.6M295.1 776.3h.6M301.2 758.5h.6M312.9 768.6h.6M286.6 757.9h.6M294.8 766.3h.6M296.0 764.8h.6M293.8 788.9h.6M303.7 772.4h.6M284.2 782.8h.6M304.8 766.3h.6M305.3 775.7h.6M312.7 785.4h.6M298.4 766.0h.6M298.4 782.3h.6M289.7 768.1h.6M292.5 768.3h.6M303.4 760.9h.6M286.3 763.9h.6M286.7 776.0h.6M298.3 771.7h.6M294.8 765.5h.6M284.1 759.6h.6M289.3 761.9h.6M290.1 776.8h.6M298.0 781.7h.6M283.0 787.0h.6M299.3 767.5h.6M304.9 767.7h.6M308.1 767.8h.6M289.4 776.6h.6M282.7 769.7h.6M310.5 774.5h.6M283.1 769.0h.6M292.8 764.9h.6M296.7 781.0h.6M293.4 778.1h.6M295.7 772.1h.6M286.2 778.7h.6M305.2 767.4h.6M285.1 775.2h.6M293.9 780.0h.6M297.4 770.0h.6M293.9 760.8h.6M298.6 767.5h.6M287.3 770.1h.6M293.3 768.3h.6M299.7 779.2h.6M291.0 783.6h.6M291.9 764.1h.6M294.4 759.5h.6M290.3 762.5h.6M289.1 772.6h.6M295.3 769.2h.6M299.4 773.7h.6M289.7 762.9h.6M299.6 777.1h.6M282.3 777.6h.6M287.8 761.0h.6M306.6 774.6h.6M295.1 772.9h.6M291.4 771.2h.6M301.0 774.5h.6M288.8 771.7h.6M309.9 766.5h.6M281.1 771.9h.6M298.6 775.7h.6M296.3 786.8h.6M283.8 770.5h.6M292.3 785.1h.6M290.4 762.6h.6M286.6 777.4h.6M285.5 773.0h.6M286.4 765.2h.6M287.9 784.0h.6M283.2 773.5h.6M300.2 765.0h.6M308.6 768.9h.6M282.1 777.9h.6M292.6 764.3h.6M285.5 761.1h.6M295.3 784.6h.6M285.3 781.6h.6M302.3 771.9h.6M293.7 764.8h.6M288.2 767.3h.6M299.5 787.7h.6M304.1 774.9h.6M300.4 757.3h.6M283.7 777.7h.6M289.4 757.8h.6M292.8 760.5h.6M292.9 783.5h.6M282.5 767.2h.6M297.9 770.6h.6M294.5 764.0h.6M291.2 781.2h.6M282.6 769.3h.6M299.3 780.7h.6M303.4 763.7h.6M289.0 785.1h.6M288.6 773.2h.6M285.1 765.5h.6M283.9 781.8h.6M299.8 774.1h.6M288.1 759.6h.6M297.2 764.1h.6M291.7 778.5h.6M291.1 770.6h.6M283.7 779.3h.6M297.6 776.6h.6M307.6 757.6h.6M293.0 776.0h.6M295.8 773.3h.6M297.0 758.4h.6M292.1 780.2h.6M292.3 769.2h.6M296.4 783.1h.6M290.4 764.1h.6M297.6 767.1h.6M285.3 772.1h.6M281.8 766.3h.6M299.4 770.5h.6M295.1 782.0h.6M306.6 787.7h.6M287.7 778.2h.6M304.7 764.9h.6M297.0 777.6h.6M291.3 765.6h.6M306.5 760.1h.6M294.3 778.5h.6M294.9 783.6h.6M306.3 774.6h.6M308.9 776.9h.6M281.5 768.2h.6M295.2 772.4h.6M296.9 772.4h.6M306.8 772.6h.6M296.2 776.7h.6M286.1 760.3h.6M288.6 779.1h.6M290.2 781.0h.6M287.8 776.9h.6M293.1 777.7h.6M292.9 772.4h.6M288.5 781.0h.6M292.5 774.9h.6M298.7 763.6h.6M285.2 770.5h.6M304.4 762.3h.6M283.5 762.8h.6M289.2 762.2h.6M285.4 775.1h.6M282.9 770.8h.6M282.1 769.2h.6M293.3 772.7h.6M292.3 772.9h.6M296.6 760.3h.6M291.7 776.1h.6M304.6 759.8h.6M287.4 759.8h.6M292.7 762.2h.6M283.9 777.1h.6M307.8 763.4h.6M363.1 714.9h.6M369.8 710.4h.6M358.2 705.4h.6M372.3 701.3h.6M364.2 710.0h.6M362.9 709.4h.6M359.5 719.7h.6M363.0 703.9h.6M357.1 692.1h.6M349.5 711.4h.6M361.3 697.5h.6M357.8 721.6h.6M374.2 703.2h.6M355.8 721.5h.6M359.2 703.5h.6M360.2 697.7h.6M365.0 712.1h.6M364.0 701.4h.6M364.6 722.1h.6M340.6 729.0h.6M361.0 705.8h.6M363.5 700.9h.6M375.4 694.7h.6M364.5 705.3h.6M368.3 718.8h.6M360.6 716.1h.6M364.2 712.1h.6M346.5 705.7h.6M355.5 715.6h.6M367.4 703.7h.6M364.5 694.7h.6M364.2 708.6h.6M360.0 701.9h.6M368.4 702.6h.6M365.6 701.7h.6M348.1 701.5h.6M356.7 718.1h.6M373.7 705.0h.6M363.2 713.7h.6M356.7 718.3h.6M375.3 697.6h.6M370.8 711.6h.6M363.4 699.0h.6M368.7 695.7h.6M364.6 717.1h.6M351.7 715.1h.6M362.7 710.5h.6M367.6 710.9h.6M357.2 713.6h.6M361.0 689.7h.6M357.2 722.3h.6M353.3 703.6h.6M360.6 703.6h.6M354.7 727.3h.6M364.5 725.0h.6M364.3 712.5h.6M349.7 707.3h.6M363.6 692.7h.6M373.6 691.7h.6M366.9 721.2h.6M360.5 715.4h.6M362.8 710.4h.6M370.3 703.7h.6M362.2 711.6h.6M373.6 699.2h.6M364.2 708.2h.6M361.5 716.9h.6M359.8 714.6h.6M354.8 725.4h.6M359.9 715.8h.6M358.7 703.6h.6M358.7 723.0h.6M357.3 705.3h.6M360.3 708.6h.6M362.5 702.7h.6M360.8 710.1h.6M373.1 702.7h.6M351.7 714.5h.6M365.9 708.4h.6M348.8 716.9h.6M348.7 718.0h.6M364.3 708.0h.6M355.5 717.4h.6M374.1 689.7h.6M373.3 682.9h.6M357.7 720.4h.6M376.6 697.3h.6M360.3 735.8h.6M375.2 686.6h.6M350.3 717.6h.6M376.3 709.5h.6M359.3 692.3h.6M371.8 714.9h.6M369.3 681.2h.6M359.7 719.8h.6M360.9 705.2h.6M364.8 705.3h.6M363.2 700.8h.6M350.5 720.6h.6M357.0 721.5h.6M387.2 689.5h.6M355.1 719.2h.6M365.1 701.6h.6M367.7 704.3h.6M359.8 702.8h.6M362.2 709.1h.6M366.5 712.0h.6M338.6 741.0h.6M362.7 705.2h.6M366.1 700.7h.6M352.6 706.0h.6M382.0 693.4h.6M355.2 711.1h.6M354.9 712.5h.6M369.4 696.5h.6M364.5 702.5h.6M382.3 682.5h.6M354.9 724.9h.6M361.1 712.0h.6M357.0 710.9h.6M370.1 694.2h.6M372.0 679.5h.6M363.0 712.1h.6M365.8 715.2h.6M374.8 696.2h.6M356.4 696.6h.6M357.8 711.8h.6M362.5 706.6h.6M360.5 711.8h.6M360.8 713.0h.6M360.1 706.2h.6M362.2 691.8h.6M357.7 712.7h.6M367.9 690.9h.6M372.7 702.7h.6M359.9 692.6h.6M372.7 678.3h.6M348.4 726.2h.6M363.9 697.4h.6M367.2 713.5h.6M352.1 723.5h.6M356.4 704.4h.6M363.2 712.7h.6M362.5 694.8h.6M371.7 713.5h.6M353.2 719.9h.6M353.3 702.5h.6M343.4 718.6h.6M356.2 706.9h.6M356.4 707.3h.6M363.6 710.0h.6M358.7 710.6h.6M364.3 702.5h.6M359.3 720.3h.6M362.1 693.5h.6M356.0 709.7h.6M344.2 721.5h.6M361.2 710.7h.6M371.6 703.4h.6M361.1 714.6h.6M375.8 701.4h.6M364.9 719.9h.6M356.0 721.5h.6M362.1 706.0h.6M368.7 707.7h.6M358.1 727.5h.6M361.9 711.6h.6M365.0 696.8h.6M376.4 702.2h.6M360.4 712.5h.6M362.1 698.6h.6M343.8 730.1h.6M354.3 725.5h.6M365.4 726.6h.6M371.7 708.3h.6M348.5 722.8h.6M376.4 702.5h.6M365.8 715.9h.6M359.4 722.2h.6M375.9 708.2h.6M353.3 723.0h.6M356.9 714.3h.6M373.3 690.2h.6M353.1 717.1h.6M369.8 690.5h.6M358.7 708.7h.6M362.2 714.4h.6M371.9 699.3h.6M364.2 698.9h.6M356.7 712.7h.6M370.3 710.9h.6M359.7 724.8h.6M361.8 696.7h.6M372.2 694.6h.6M384.4 694.6h.6M350.4 714.0h.6M353.3 714.7h.6M349.7 717.8h.6M354.0 715.4h.6M377.4 696.0h.6M369.5 687.3h.6M350.0 715.9h.6M356.0 718.6h.6M362.1 725.3h.6M368.6 706.9h.6M357.8 711.7h.6M358.9 724.1h.6M365.5 707.1h.6M350.1 727.4h.6M349.6 732.3h.6M352.3 716.8h.6M357.8 718.5h.6M355.8 710.8h.6M363.5 706.2h.6M365.6 690.1h.6M356.5 714.4h.6M361.6 713.0h.6M372.8 695.7h.6M366.8 713.6h.6M361.9 701.1h.6M365.6 714.7h.6M339.1 727.3h.6M342.7 723.7h.6M373.1 701.2h.6M359.6 727.3h.6M362.8 720.0h.6M362.1 712.9h.6M357.3 710.9h.6M369.1 712.4h.6M382.6 698.7h.6M372.3 693.4h.6M351.3 706.8h.6M364.1 702.4h.6M358.2 703.6h.6M355.1 702.3h.6M367.8 694.2h.6M376.8 690.5h.6M362.3 713.9h.6M363.7 712.7h.6M367.7 709.2h.6M353.8 710.3h.6M360.4 703.1h.6M368.9 699.8h.6M377.4 695.8h.6M368.3 713.1h.6M362.9 727.1h.6M363.3 714.9h.6M371.9 694.9h.6M365.5 697.5h.6M359.2 705.9h.6M356.9 708.6h.6M363.8 703.6h.6M360.7 715.9h.6M357.3 701.9h.6M376.6 719.0h.6M370.3 701.3h.6M356.3 729.5h.6M365.8 710.0h.6M375.1 688.9h.6M367.0 708.1h.6M361.4 714.9h.6M348.6 733.3h.6M371.1 705.3h.6M360.7 718.4h.6M352.5 725.2h.6M372.1 689.2h.6M353.9 710.5h.6M355.9 708.1h.6M351.7 709.0h.6M366.9 698.8h.6M361.0 704.9h.6M364.9 715.1h.6M359.8 710.7h.6M363.2 717.5h.6M375.7 707.2h.6M365.2 713.5h.6M354.7 714.1h.6M359.4 722.9h.6M370.4 701.5h.6M360.2 714.3h.6M369.5 716.2h.6M352.0 727.2h.6M365.3 704.9h.6M358.1 718.9h.6M374.2 691.7h.6M353.0 719.3h.6M352.3 716.6h.6M368.2 701.4h.6M380.6 688.6h.6M362.0 686.0h.6M366.5 708.2h.6M365.6 710.7h.6M366.2 704.3h.6M353.2 719.1h.6M374.9 697.4h.6M351.0 733.5h.6M372.2 701.7h.6M364.2 714.3h.6M353.7 719.2h.6M371.7 707.8h.6M365.2 705.7h.6M351.1 727.0h.6M355.9 714.4h.6M362.7 711.3h.6M352.0 712.8h.6M351.5 714.1h.6M360.5 710.8h.6M365.4 698.8h.6M356.7 706.5h.6M359.6 712.4h.6M355.2 717.1h.6M361.8 711.4h.6M360.8 708.6h.6M370.0 704.0h.6M353.3 710.0h.6M363.8 711.2h.6M372.0 696.2h.6M357.1 706.5h.6M370.2 696.0h.6M377.2 690.4h.6M375.3 702.0h.6M366.2 696.5h.6M357.3 701.9h.6M354.7 700.0h.6M364.8 706.8h.6M371.6 693.8h.6M361.7 689.4h.6M365.1 716.3h.6M341.4 722.4h.6M357.7 723.3h.6M358.2 726.8h.6M353.0 705.1h.6M344.9 728.1h.6M365.4 711.6h.6M375.0 685.8h.6M368.1 700.7h.6M363.7 721.8h.6M364.2 705.0h.6M371.1 707.2h.6M366.0 715.2h.6M358.0 712.6h.6M381.5 697.6h.6M360.7 719.9h.6M350.7 724.6h.6M361.6 717.5h.6M353.0 712.6h.6M352.0 710.9h.6M378.8 706.5h.6M377.1 702.6h.6M357.4 717.5h.6M352.5 708.5h.6M362.3 700.4h.6M366.7 711.3h.6M363.8 711.0h.6M353.3 727.6h.6M364.5 706.8h.6M357.2 717.4h.6M378.8 687.6h.6M358.6 714.0h.6M379.1 711.2h.6M368.4 696.1h.6M373.6 690.1h.6M358.3 706.0h.6M356.2 701.8h.6M349.9 721.0h.6M355.6 737.5h.6M358.1 717.2h.6M378.2 709.9h.6M376.7 704.9h.6M377.9 695.8h.6M361.3 706.1h.6M373.9 687.5h.6M364.5 706.7h.6M365.4 720.5h.6M350.2 704.1h.6M368.0 711.8h.6M367.7 692.3h.6M366.5 698.0h.6M362.8 705.1h.6M375.1 702.7h.6M371.1 698.5h.6M356.3 721.6h.6M367.2 694.7h.6M362.0 709.8h.6M355.9 712.0h.6M357.7 717.0h.6M349.9 713.4h.6M373.9 704.5h.6M370.3 718.2h.6M362.7 693.7h.6M362.6 700.0h.6M358.7 711.9h.6M363.1 705.3h.6M371.1 684.0h.6M366.8 693.8h.6M382.9 685.8h.6M387.2 681.8h.6M360.9 708.9h.6M363.0 695.2h.6M373.8 700.3h.6M361.2 709.6h.6M373.9 697.7h.6M369.6 711.9h.6M376.7 697.1h.6M368.1 711.8h.6M370.3 704.9h.6M366.1 712.5h.6M335.3 730.8h.6M355.4 712.4h.6M364.1 703.8h.6M353.8 718.3h.6M360.3 722.5h.6M348.1 713.2h.6M338.5 730.0h.6M356.1 723.1h.6M361.0 710.9h.6M344.7 729.1h.6M352.8 720.4h.6M358.9 705.2h.6M360.7 707.0h.6M355.0 714.8h.6M376.3 693.9h.6M368.7 693.6h.6M376.0 699.0h.6M363.3 712.6h.6M375.1 687.8h.6M371.6 713.2h.6M358.1 723.2h.6M363.7 695.3h.6M357.3 736.2h.6M358.3 705.9h.6M367.8 710.8h.6M364.5 720.3h.6M357.0 716.6h.6M350.8 721.8h.6M349.6 721.8h.6M386.7 698.1h.6M380.8 698.5h.6M349.0 729.4h.6M362.8 720.3h.6M362.6 712.6h.6M365.6 708.8h.6M369.0 695.0h.6M370.9 714.8h.6M366.5 723.7h.6M371.8 698.8h.6M360.3 709.2h.6M363.4 705.8h.6M353.1 697.8h.6M364.0 703.4h.6M371.1 691.2h.6M347.4 723.0h.6M360.8 700.7h.6M358.9 705.1h.6M345.5 729.9h.6M347.3 721.2h.6M356.5 712.9h.6M374.9 717.4h.6M381.7 677.9h.6M361.8 705.9h.6M361.0 712.5h.6M362.8 695.7h.6M367.7 709.0h.6M357.5 717.0h.6M361.4 711.6h.6M356.4 706.1h.6M341.1 723.7h.6M346.4 725.7h.6M360.3 706.5h.6M367.1 716.1h.6M364.7 707.2h.6M365.7 700.7h.6M370.3 687.4h.6M366.6 700.5h.6M354.4 737.6h.6M379.8 702.6h.6M361.0 707.1h.6M343.3 722.0h.6M363.5 715.2h.6M368.4 721.3h.6M358.5 711.8h.6M356.2 713.5h.6M351.7 711.2h.6M363.3 704.1h.6M360.8 707.1h.6M348.9 710.8h.6M348.5 729.0h.6M355.3 720.1h.6M362.7 708.2h.6M358.9 700.7h.6M375.6 681.2h.6M365.4 700.9h.6M356.3 722.1h.6M352.2 721.9h.6M363.0 722.2h.6M359.5 709.9h.6M359.6 732.1h.6M379.7 694.3h.6M338.0 722.3h.6M356.2 727.0h.6M366.9 708.3h.6M364.5 710.8h.6M363.7 723.9h.6M362.3 698.4h.6M361.0 722.9h.6M361.0 714.6h.6M361.4 696.4h.6M377.2 691.3h.6M360.4 717.9h.6M359.4 721.4h.6M369.6 719.2h.6M369.5 688.4h.6M349.7 703.8h.6M378.0 694.2h.6M367.7 702.5h.6M359.1 711.5h.6M370.3 696.9h.6M366.7 710.8h.6M346.9 712.5h.6M372.6 710.6h.6M381.1 697.5h.6M351.6 723.5h.6M365.0 719.8h.6M370.2 708.8h.6M358.9 722.9h.6M364.1 717.1h.6M363.2 717.4h.6M375.7 694.7h.6M371.5 701.4h.6M359.6 709.3h.6M372.3 696.1h.6M357.5 710.9h.6M359.6 708.9h.6M361.6 713.0h.6M357.8 710.2h.6M373.6 697.7h.6M372.8 701.3h.6M359.5 717.9h.6M373.3 698.9h.6M365.4 693.9h.6M363.9 713.2h.6M347.5 712.3h.6M371.6 707.9h.6M359.8 712.3h.6M359.7 701.9h.6M367.1 707.8h.6M361.1 711.1h.6M368.8 718.3h.6M366.9 705.7h.6M367.8 714.5h.6M352.6 724.3h.6M375.2 703.9h.6M351.5 723.0h.6M348.6 725.7h.6M347.6 730.9h.6M370.4 685.1h.6M340.7 727.1h.6M361.2 702.7h.6M364.1 699.8h.6M361.8 711.7h.6M362.4 701.9h.6M362.1 724.7h.6M358.4 726.7h.6M354.8 718.9h.6M376.0 705.9h.6M385.9 686.9h.6M362.3 687.4h.6M363.5 695.8h.6M353.8 717.2h.6M360.7 703.3h.6M366.3 687.9h.6M366.2 700.8h.6M365.6 713.8h.6M347.6 712.0h.6M358.5 701.4h.6M362.3 697.2h.6M367.1 694.6h.6M360.1 704.2h.6M360.7 719.8h.6M382.2 697.4h.6M351.5 721.8h.6M357.3 704.1h.6M355.0 729.0h.6M362.6 715.0h.6M356.8 715.9h.6M360.1 713.7h.6M359.5 706.1h.6M365.0 694.7h.6M363.4 697.5h.6M362.5 701.0h.6M352.1 708.0h.6M352.9 727.6h.6M359.7 686.3h.6M363.0 696.7h.6M368.1 700.3h.6M353.0 715.1h.6M372.1 691.0h.6M351.3 737.2h.6M368.8 711.2h.6M369.4 713.0h.6M358.4 711.1h.6M367.8 714.8h.6M370.0 693.2h.6M370.3 698.1h.6M371.0 693.8h.6M364.2 696.0h.6M366.4 694.7h.6M362.9 721.9h.6M367.4 696.9h.6M369.2 710.2h.6M357.9 722.3h.6M356.9 713.0h.6M367.2 706.1h.6M365.4 702.0h.6M347.4 694.3h.6M363.3 725.9h.6M375.3 718.9h.6M370.7 705.4h.6M364.2 697.4h.6M358.9 719.4h.6M347.4 711.1h.6M361.1 721.0h.6M354.1 707.5h.6M372.8 695.7h.6M341.0 730.0h.6M361.9 701.8h.6M356.3 696.4h.6M366.2 718.0h.6M357.4 707.1h.6M359.8 717.0h.6M354.3 710.3h.6M362.0 701.8h.6M363.1 697.8h.6M376.5 691.5h.6M344.3 739.9h.6M359.4 703.4h.6M350.9 726.3h.6M350.8 711.0h.6M348.0 730.6h.6M347.2 730.6h.6M354.6 710.2h.6M360.5 699.3h.6M358.4 700.9h.6M373.5 708.4h.6M363.4 734.9h.6M363.4 710.4h.6M368.7 702.0h.6M364.3 712.2h.6M351.8 703.5h.6M364.5 711.7h.6M363.5 710.3h.6M352.3 719.3h.6M371.2 710.4h.6M373.4 699.9h.6M373.9 704.2h.6M355.7 719.8h.6M359.1 708.2h.6M370.8 706.4h.6M356.2 722.3h.6M368.6 701.6h.6M361.7 705.3h.6M357.7 716.2h.6M354.6 703.6h.6M352.7 726.4h.6M360.6 695.0h.6M366.8 711.6h.6M367.8 712.2h.6M359.1 706.6h.6M363.3 721.0h.6M362.0 711.4h.6M363.1 719.4h.6M358.2 718.0h.6M370.0 697.5h.6M358.3 725.2h.6M369.4 712.9h.6M353.1 709.9h.6M371.7 687.1h.6M367.9 701.4h.6M365.6 704.2h.6M360.3 721.1h.6M356.5 723.6h.6M343.3 733.2h.6M348.3 711.9h.6M369.8 708.2h.6M370.7 696.7h.6M357.8 711.0h.6M368.8 684.2h.6M365.9 699.0h.6M358.3 704.4h.6M347.7 716.7h.6M367.5 713.2h.6M359.4 706.7h.6M366.8 700.3h.6M355.9 711.8h.6M361.8 699.5h.6M366.5 697.0h.6M371.9 696.2h.6M361.8 719.8h.6M356.1 718.2h.6M370.0 708.4h.6M365.8 702.5h.6M362.8 703.9h.6M358.9 715.0h.6M370.6 719.6h.6M368.2 709.6h.6M369.4 715.6h.6M363.0 705.6h.6M364.8 705.0h.6M351.0 728.6h.6M367.4 701.2h.6M353.5 702.3h.6M362.2 697.8h.6M360.4 713.3h.6M356.6 722.9h.6M361.7 699.1h.6M364.4 695.6h.6M364.4 698.0h.6M372.5 699.8h.6M386.6 693.8h.6M376.6 694.8h.6M367.7 694.5h.6M358.8 714.1h.6M364.4 700.7h.6M362.8 696.9h.6M362.3 699.1h.6M356.4 718.5h.6M372.1 685.1h.6M354.7 716.5h.6M354.5 709.6h.6M364.8 691.7h.6M375.5 689.7h.6M378.1 678.6h.6M354.4 709.5h.6M364.3 699.6h.6M370.8 700.5h.6M359.1 700.7h.6M360.8 709.9h.6M353.3 720.7h.6M365.8 708.8h.6M383.8 699.0h.6M368.4 701.0h.6M370.7 718.2h.6M363.5 715.3h.6M372.9 707.2h.6M378.0 693.0h.6M357.3 722.4h.6M362.4 717.6h.6M352.3 703.7h.6M350.3 723.7h.6M360.4 717.1h.6M365.0 718.1h.6M360.7 695.7h.6M343.7 715.0h.6M369.7 694.2h.6M367.3 705.4h.6M351.9 721.4h.6M361.7 686.5h.6M363.2 705.5h.6M370.0 708.1h.6M353.2 728.4h.6M364.8 689.1h.6M360.0 704.0h.6M355.0 707.8h.6M350.7 718.1h.6M360.1 717.2h.6M361.8 711.3h.6M355.6 701.0h.6M344.5 717.0h.6M362.6 695.2h.6M345.2 730.5h.6M345.5 722.8h.6M345.5 736.4h.6M364.6 701.9h.6M365.6 702.4h.6M353.8 713.8h.6M353.9 716.5h.6M358.8 720.1h.6M362.7 724.6h.6M348.5 719.8h.6M341.4 714.3h.6M375.2 700.8h.6M380.9 692.3h.6M369.8 707.1h.6M361.8 705.7h.6M354.4 714.5h.6M362.1 707.8h.6M364.8 704.7h.6M353.1 711.7h.6M374.1 698.4h.6M358.4 724.9h.6M353.2 724.6h.6M342.2 716.5h.6M356.4 709.4h.6M341.2 731.8h.6M355.6 714.3h.6M356.8 700.8h.6M365.0 708.6h.6M348.4 722.1h.6M353.9 704.6h.6M363.7 704.0h.6M363.7 713.0h.6M356.8 714.9h.6M358.1 713.9h.6M366.7 715.0h.6M366.2 702.6h.6M362.6 723.2h.6M362.6 713.4h.6M357.4 706.9h.6M371.3 697.0h.6M358.1 704.4h.6M369.1 718.3h.6M346.4 717.6h.6M361.7 718.9h.6M360.1 705.6h.6M365.4 727.3h.6M357.1 699.1h.6M362.0 698.6h.6M356.7 725.1h.6M351.2 710.3h.6M364.6 714.0h.6M360.9 725.3h.6M357.1 707.6h.6M371.4 696.6h.6M354.1 718.9h.6M363.8 710.2h.6M370.6 723.4h.6M372.6 702.3h.6M371.0 707.7h.6M363.9 703.7h.6M351.9 710.9h.6M350.4 713.8h.6M349.5 719.8h.6M355.8 722.3h.6M352.7 711.4h.6M363.8 714.0h.6M365.4 702.1h.6M342.5 704.1h.6M362.7 693.6h.6M381.7 681.4h.6M353.6 713.8h.6M363.6 706.5h.6M357.0 708.2h.6M358.2 697.9h.6M372.2 701.4h.6M363.9 704.4h.6M369.1 683.6h.6M362.9 697.8h.6M357.3 705.0h.6M359.3 716.5h.6M371.7 697.3h.6M286.3 733.3h.6M324.0 712.8h.6M306.2 747.2h.6M321.4 727.9h.6M321.8 735.2h.6M307.0 747.7h.6M334.1 727.5h.6M312.8 748.4h.6M317.6 728.6h.6M343.9 708.4h.6M331.7 712.6h.6M335.7 720.1h.6M337.9 725.0h.6M334.6 717.3h.6M335.0 718.4h.6M304.9 745.6h.6M322.7 712.5h.6M290.4 735.2h.6M284.8 730.8h.6M335.5 734.9h.6M347.8 726.5h.6M336.6 727.0h.6M296.3 731.7h.6M300.7 740.6h.6M298.5 722.4h.6M334.6 695.4h.6M334.0 741.0h.6M335.7 732.5h.6M342.3 718.7h.6M343.9 701.7h.6M312.1 718.7h.6M342.0 724.1h.6M331.5 733.8h.6M344.2 713.0h.6M343.9 715.1h.6M329.2 728.2h.6M336.2 737.4h.6M333.6 718.9h.6M341.7 727.5h.6M325.6 744.4h.6M304.1 738.8h.6M341.4 730.4h.6M324.3 726.8h.6M341.0 722.5h.6M342.4 729.4h.6M287.3 731.5h.6M304.2 730.2h.6M342.5 720.2h.6M310.4 750.9h.6M295.6 747.1h.6M287.7 736.9h.6M319.8 720.5h.6M289.8 734.8h.6M307.7 732.8h.6M309.0 746.0h.6M319.4 743.8h.6M325.0 723.4h.6M324.4 719.4h.6M307.4 738.5h.6M323.8 720.2h.6M338.3 725.0h.6M340.1 704.1h.6M352.6 714.8h.6M302.8 729.8h.6M332.0 729.5h.6M300.2 748.8h.6M321.4 708.4h.6M348.7 732.8h.6M321.2 724.4h.6M299.3 753.1h.6M302.0 749.5h.6M289.1 742.0h.6M343.7 700.8h.6M325.9 742.8h.6M355.7 722.5h.6M333.9 729.9h.6M297.9 754.6h.6M330.1 719.3h.6M298.9 748.7h.6M340.5 721.5h.6M354.5 724.1h.6M294.0 738.9h.6M328.8 703.6h.6M329.6 724.4h.6M327.5 730.1h.6M299.7 749.7h.6M314.5 726.8h.6M339.5 723.9h.6M349.2 717.8h.6M299.0 729.7h.6M311.7 726.6h.6M318.5 744.6h.6M321.1 745.8h.6M329.0 727.9h.6M315.4 729.4h.6M320.4 747.3h.6M300.6 735.5h.6M326.3 742.8h.6M296.8 746.5h.6M293.3 731.3h.6M304.4 739.7h.6M323.7 721.5h.6M339.2 712.2h.6M310.6 739.4h.6M340.0 742.6h.6M312.3 751.7h.6M322.2 742.6h.6M352.4 718.0h.6M306.3 746.4h.6M336.8 735.6h.6M302.1 745.3h.6M313.9 752.0h.6M289.8 740.5h.6M329.7 701.1h.6M344.4 719.1h.6M332.7 734.3h.6M323.9 717.4h.6M300.9 731.1h.6M308.0 742.2h.6M327.9 728.7h.6M290.8 726.0h.6M349.5 712.5h.6M314.6 733.5h.6M312.9 733.7h.6M308.6 742.5h.6M286.9 737.1h.6M308.0 743.1h.6M352.5 723.1h.6M335.7 711.8h.6M313.4 735.6h.6M303.3 719.0h.6M334.3 717.9h.6M320.0 737.6h.6M298.0 742.5h.6M317.6 723.0h.6M330.4 702.1h.6M328.4 709.9h.6M333.1 722.2h.6M338.5 700.5h.6M323.9 720.3h.6M318.0 718.7h.6M347.3 712.2h.6M325.6 735.8h.6M308.9 733.8h.6M284.3 734.9h.6M300.4 733.5h.6M328.9 717.1h.6M326.8 742.1h.6M356.0 722.2h.6M291.7 735.0h.6M323.6 717.3h.6M305.3 701.4h.6M343.6 715.4h.6M321.3 737.8h.6M332.6 706.1h.6M355.4 717.9h.6M307.6 742.5h.6M344.7 724.5h.6M319.3 727.4h.6M344.1 713.8h.6M338.2 703.5h.6M359.8 735.4h.6M317.4 750.8h.6M329.0 726.0h.6M305.7 729.1h.6M350.3 722.0h.6M282.6 719.7h.6M328.7 723.9h.6M321.4 698.3h.6M311.6 742.6h.6M309.6 742.1h.6M324.8 725.1h.6M300.1 749.7h.6M334.3 725.2h.6M320.2 725.1h.6M346.3 705.2h.6M346.0 727.8h.6M329.2 709.8h.6M299.2 713.3h.6M296.4 747.0h.6M288.0 730.2h.6M290.2 724.7h.6M293.6 725.1h.6M328.3 731.8h.6M335.2 730.2h.6M328.3 728.9h.6M337.5 725.4h.6M312.2 738.9h.6M315.1 730.2h.6M299.4 750.3h.6M338.4 737.6h.6M344.8 711.1h.6M295.6 736.7h.6M339.2 711.5h.6M318.4 710.7h.6M341.1 699.9h.6M298.0 739.4h.6M326.5 729.4h.6M303.8 737.1h.6M287.4 739.3h.6M348.4 721.3h.6M326.4 734.6h.6M296.7 748.0h.6M290.1 728.9h.6M334.1 733.7h.6M302.6 753.0h.6M302.2 726.6h.6M333.4 728.1h.6M344.9 710.2h.6M309.1 748.0h.6M333.6 717.1h.6M306.4 745.9h.6M320.4 738.1h.6M335.6 710.0h.6M316.5 724.7h.6M314.4 729.7h.6M340.8 730.9h.6M310.3 744.1h.6M307.5 734.2h.6M329.8 732.6h.6M294.8 747.1h.6M307.3 748.8h.6M337.5 710.3h.6M289.1 725.0h.6M300.7 736.9h.6M348.3 728.3h.6M342.7 719.1h.6M292.8 745.7h.6M311.6 734.9h.6M313.3 735.8h.6M302.4 747.9h.6M308.3 731.9h.6M304.1 744.4h.6M316.1 728.4h.6M305.7 740.8h.6M353.1 752.7h.6M326.6 705.5h.6M362.2 733.8h.6M330.4 725.5h.6M326.4 731.3h.6M334.4 752.5h.6M325.6 693.0h.6M314.3 752.2h.6M293.5 745.4h.6M333.8 717.0h.6M344.9 746.1h.6M311.8 740.5h.6M331.9 709.6h.6M322.0 726.4h.6M350.0 719.7h.6M338.3 709.2h.6M299.6 736.9h.6M298.9 753.0h.6M341.3 718.9h.6M324.9 737.6h.6M340.0 723.0h.6M314.6 745.7h.6M330.0 732.8h.6M294.4 734.8h.6M341.7 729.6h.6M320.8 740.6h.6M336.8 720.6h.6M298.8 735.8h.6M343.1 722.4h.6M342.9 712.9h.6M343.4 703.2h.6M343.1 735.2h.6M322.3 721.4h.6M344.1 723.9h.6M341.0 723.2h.6M325.5 726.3h.6M334.6 723.0h.6M346.8 717.7h.6M337.7 717.9h.6M313.3 724.0h.6M348.3 731.3h.6M339.5 730.9h.6M327.4 744.1h.6M342.7 712.3h.6M299.7 734.4h.6M324.5 734.3h.6M349.7 741.5h.6M342.5 716.2h.6M349.6 711.3h.6M288.3 729.4h.6M313.8 728.9h.6M346.3 715.8h.6M314.5 734.7h.6M326.6 732.6h.6M319.8 748.6h.6M315.2 728.2h.6M331.3 730.3h.6M315.9 720.5h.6M346.2 715.0h.6M296.5 748.0h.6M320.9 753.3h.6M307.6 728.9h.6M339.5 723.9h.6M289.3 730.5h.6M309.5 730.5h.6M330.9 713.7h.6M304.4 754.7h.6M303.8 724.5h.6M316.9 726.5h.6M283.2 728.3h.6M305.5 733.6h.6M301.5 735.5h.6M295.3 739.6h.6M288.2 731.5h.6M330.0 706.5h.6M335.1 739.7h.6M300.3 725.4h.6M328.2 721.2h.6M328.4 723.1h.6M313.8 739.6h.6M300.3 730.4h.6M323.7 715.2h.6M350.5 721.6h.6M298.0 744.4h.6M319.6 743.8h.6M336.7 713.8h.6M296.8 731.1h.6M317.6 750.8h.6M329.1 710.5h.6M288.9 738.9h.6M319.1 744.1h.6M308.2 737.1h.6M344.6 699.7h.6M316.4 722.8h.6M325.9 719.7h.6M312.4 742.3h.6M304.8 738.4h.6M296.7 740.0h.6M332.3 746.2h.6M331.5 722.9h.6M338.3 724.3h.6M326.0 733.9h.6M299.8 744.6h.6M308.8 729.0h.6M297.3 746.2h.6M341.8 706.7h.6M303.7 748.9h.6M292.3 728.2h.6M335.8 695.1h.6M338.9 711.3h.6M356.6 728.3h.6M355.4 731.3h.6M337.4 716.7h.6M327.6 711.8h.6M351.2 720.3h.6M332.4 737.6h.6M345.2 718.3h.6M321.4 700.6h.6M338.8 723.2h.6M302.0 734.2h.6M281.5 729.6h.6M338.2 697.6h.6M309.9 734.3h.6M335.2 730.6h.6M332.4 707.2h.6M288.8 727.2h.6M301.0 724.1h.6M342.1 731.2h.6M356.3 720.4h.6M331.4 713.1h.6M332.6 704.4h.6M342.1 715.5h.6M342.7 719.3h.6M335.6 724.5h.6M345.0 725.5h.6M347.7 737.8h.6M306.5 749.9h.6M336.2 737.0h.6M304.9 747.7h.6M339.8 714.4h.6M355.1 724.6h.6M331.0 738.3h.6M341.4 705.9h.6M308.0 743.0h.6M337.5 708.7h.6M354.3 731.0h.6M350.1 715.6h.6M306.4 728.2h.6M292.7 740.4h.6M332.2 700.8h.6M294.5 747.4h.6M303.1 744.3h.6M289.3 740.5h.6M346.7 724.0h.6M344.1 718.1h.6M322.7 750.6h.6M336.8 718.5h.6M318.4 728.1h.6M310.4 721.1h.6M335.3 726.2h.6M305.6 716.0h.6M331.5 721.3h.6M306.5 745.9h.6M352.5 719.5h.6M325.9 751.8h.6M323.9 706.1h.6M313.9 734.4h.6M342.5 702.6h.6M316.5 720.6h.6M323.3 714.5h.6M297.2 732.5h.6M330.3 719.4h.6M339.9 722.6h.6M312.6 747.5h.6M343.5 703.1h.6M350.3 713.9h.6M343.2 726.9h.6M294.4 734.8h.6M319.3 742.8h.6M321.9 736.6h.6M327.7 742.3h.6M301.0 740.4h.6M299.8 736.7h.6M310.4 723.0h.6M314.4 718.3h.6M332.1 734.3h.6M290.6 739.1h.6M327.1 727.2h.6M320.8 733.0h.6M321.9 697.0h.6M326.3 721.1h.6M335.7 721.5h.6M298.4 731.8h.6M313.0 747.0h.6M329.2 692.7h.6M289.0 739.9h.6M316.6 725.8h.6M337.5 735.7h.6M333.1 736.2h.6M312.0 730.9h.6M332.8 714.0h.6M345.8 712.3h.6M311.8 750.3h.6M349.8 720.5h.6M346.4 722.5h.6M315.6 717.8h.6M312.6 742.7h.6M347.3 726.8h.6M335.3 744.9h.6M323.4 726.5h.6M316.7 708.9h.6M348.1 728.2h.6M309.6 753.1h.6M308.7 726.8h.6M329.0 708.4h.6M326.4 736.7h.6M340.3 742.7h.6M315.1 721.3h.6M313.4 731.0h.6M289.5 730.9h.6M321.1 727.2h.6M309.8 737.2h.6M330.5 735.3h.6M338.6 708.3h.6M331.4 710.0h.6M308.1 721.6h.6M308.0 746.5h.6M347.5 738.0h.6M290.4 736.4h.6M347.4 715.8h.6M332.0 730.7h.6M316.1 741.1h.6M331.2 740.3h.6M316.4 715.7h.6M338.1 719.1h.6M332.3 717.2h.6M310.0 714.1h.6M332.2 727.9h.6M320.7 734.2h.6M334.2 725.8h.6M306.7 705.7h.6M304.2 747.4h.6M303.5 733.0h.6M308.6 729.0h.6M305.2 752.1h.6M323.7 722.1h.6M309.2 743.3h.6M332.8 721.1h.6M291.0 737.4h.6M348.1 712.1h.6M319.1 733.4h.6M305.0 737.6h.6M350.1 710.7h.6M308.7 740.6h.6M308.3 725.8h.6M309.3 735.4h.6M316.9 725.0h.6M323.8 730.5h.6M318.3 713.4h.6M315.0 724.8h.6M307.4 744.8h.6M309.2 735.4h.6M313.7 727.5h.6M345.7 720.4h.6M302.7 724.7h.6M297.6 739.5h.6M322.6 740.4h.6M341.1 730.4h.6M345.8 721.5h.6M318.5 729.8h.6M322.4 708.1h.6M331.3 746.3h.6M349.3 725.2h.6M336.1 726.8h.6M331.1 699.2h.6M337.9 721.2h.6M315.0 730.2h.6M292.2 733.0h.6M352.6 726.7h.6M296.2 723.0h.6M345.1 730.8h.6M311.7 739.8h.6M317.0 721.0h.6M322.8 740.4h.6M335.0 716.5h.6M300.1 734.5h.6M303.5 734.9h.6M327.5 738.6h.6M342.3 727.8h.6M309.2 736.6h.6M331.1 742.7h.6M294.6 747.2h.6M322.9 718.7h.6M348.5 707.5h.6M313.4 741.2h.6M306.7 739.8h.6M335.9 720.9h.6M339.7 707.4h.6M302.8 743.8h.6M331.3 741.0h.6M335.0 712.2h.6M341.3 744.2h.6M329.9 717.4h.6M324.0 724.8h.6M353.6 722.5h.6M311.0 737.7h.6M308.4 740.7h.6M292.0 729.6h.6M335.8 725.1h.6M291.7 744.9h.6M333.3 735.1h.6M317.5 721.7h.6M305.0 714.3h.6M322.8 718.0h.6M325.3 702.0h.6M340.7 724.5h.6M321.0 727.1h.6M355.3 720.3h.6M336.6 735.3h.6M320.6 737.6h.6M325.4 722.2h.6M333.0 750.6h.6M341.0 717.0h.6M336.6 748.0h.6M312.3 707.7h.6M331.2 736.7h.6M320.0 721.9h.6M312.9 746.2h.6M318.5 731.7h.6M316.2 738.6h.6M292.3 744.9h.6M344.1 711.8h.6M310.1 735.0h.6M316.6 749.3h.6M331.2 714.9h.6M302.0 728.8h.6M326.3 717.7h.6M313.7 746.7h.6M317.9 717.7h.6M298.6 724.1h.6M315.7 710.0h.6M316.1 722.9h.6M349.0 725.5h.6M313.7 729.0h.6M344.0 702.9h.6M335.3 714.4h.6M320.0 712.5h.6M306.8 737.0h.6M323.7 749.4h.6M341.9 719.2h.6M345.5 737.1h.6M296.7 741.3h.6M313.7 740.4h.6M343.4 714.3h.6M342.1 723.2h.6M339.0 726.8h.6M338.0 735.9h.6M304.6 743.4h.6M342.6 715.6h.6M315.5 733.4h.6M328.5 711.2h.6M296.2 754.7h.6M329.4 721.8h.6M335.2 716.1h.6M305.7 737.5h.6M339.8 728.2h.6M351.8 720.9h.6M321.3 741.1h.6M319.7 746.6h.6M332.3 707.8h.6M349.5 731.6h.6M296.8 731.8h.6M297.6 740.6h.6M342.5 708.1h.6M357.6 728.0h.6M298.8 741.5h.6M325.5 713.7h.6M306.4 742.2h.6M305.4 749.7h.6M330.4 710.5h.6M330.5 711.7h.6M314.3 744.0h.6M322.3 709.4h.6M313.7 744.5h.6M316.3 736.6h.6M305.7 741.6h.6M288.1 739.2h.6M347.5 720.5h.6M297.1 750.7h.6M341.6 717.7h.6M313.7 735.5h.6M321.1 748.1h.6M341.4 732.5h.6M351.4 711.9h.6M322.3 751.8h.6M321.9 727.7h.6M352.6 724.7h.6M296.1 720.6h.6M324.8 741.2h.6M335.6 710.2h.6M334.1 720.2h.6M316.6 700.2h.6M341.4 714.7h.6M311.7 716.4h.6M345.0 734.6h.6M346.2 720.7h.6M316.0 732.4h.6M313.4 715.4h.6M335.4 715.5h.6M323.7 729.6h.6M340.4 726.3h.6M347.5 727.0h.6M296.2 753.2h.6M309.8 728.3h.6M329.8 715.9h.6M299.3 738.9h.6M323.3 702.6h.6M328.9 714.9h.6M290.1 722.9h.6M301.3 743.8h.6M322.4 727.6h.6M323.1 745.0h.6M301.6 733.4h.6M288.8 733.9h.6M321.3 733.2h.6M331.8 735.3h.6M343.8 721.5h.6M310.7 739.8h.6M351.6 719.7h.6M340.0 709.7h.6M316.9 739.5h.6M356.7 735.8h.6M335.8 704.5h.6M342.8 740.2h.6M335.4 719.8h.6M332.7 726.3h.6M310.0 743.4h.6M329.7 720.1h.6M322.6 739.6h.6M311.9 739.1h.6M340.3 723.1h.6M288.8 720.2h.6M301.2 734.6h.6M307.9 746.5h.6M344.2 732.6h.6M300.2 743.6h.6M309.2 734.0h.6M354.4 724.3h.6M320.7 695.7h.6M314.5 751.1h.6M296.9 730.6h.6M328.1 709.7h.6M321.6 728.3h.6M343.9 705.5h.6M338.6 725.0h.6M340.4 703.8h.6M326.0 740.8h.6M347.2 710.7h.6M303.8 724.5h.6M324.3 727.0h.6M344.7 721.1h.6M331.4 717.7h.6M321.2 725.2h.6M348.2 717.9h.6M350.1 710.4h.6M289.7 732.9h.6M310.1 734.5h.6M316.6 738.0h.6M312.2 731.8h.6M301.0 745.1h.6M345.2 707.3h.6M317.6 729.5h.6M310.3 729.1h.6M337.0 721.7h.6M338.0 697.9h.6M330.5 701.4h.6M315.6 714.3h.6M312.8 732.8h.6M286.6 728.7h.6M335.6 728.9h.6M295.2 747.9h.6M321.6 726.7h.6M301.4 739.5h.6M332.8 732.4h.6M339.7 730.8h.6M291.1 738.4h.6M296.8 750.9h.6M304.1 744.2h.6M316.2 748.1h.6M322.5 750.0h.6M321.5 732.0h.6M318.6 724.1h.6M281.5 725.0h.6M327.2 729.7h.6M305.7 729.7h.6M316.9 721.8h.6M327.3 720.3h.6M339.1 693.6h.6M352.9 718.7h.6M332.0 705.9h.6M307.2 746.9h.6M328.4 749.5h.6M293.1 747.1h.6M305.3 733.1h.6M351.2 721.4h.6M317.8 754.8h.6M334.3 710.5h.6M338.0 731.6h.6M337.3 725.9h.6M307.3 740.1h.6M313.6 727.7h.6M295.8 738.8h.6M311.9 732.1h.6M344.4 702.3h.6M296.2 750.6h.6M314.0 748.9h.6M306.1 750.6h.6M308.4 751.3h.6M338.4 736.7h.6M307.7 734.5h.6M329.0 735.3h.6M328.4 731.2h.6M332.0 729.5h.6M307.0 735.0h.6M294.9 739.4h.6M300.6 752.8h.6M287.7 738.2h.6M310.7 730.7h.6M339.0 713.2h.6M285.0 735.6h.6M302.1 739.2h.6M348.4 707.7h.6M336.4 719.4h.6M289.2 739.6h.6M320.5 708.7h.6M347.0 724.5h.6M317.5 753.9h.6M293.9 736.6h.6M350.1 724.5h.6M305.0 741.2h.6M302.9 737.5h.6M349.9 713.2h.6M302.4 736.8h.6M342.2 707.0h.6M316.1 711.9h.6M326.0 728.2h.6M323.7 739.6h.6M338.7 740.4h.6M326.1 741.8h.6M336.0 720.5h.6M296.7 733.7h.6M313.7 749.0h.6M359.9 725.7h.6M334.7 721.3h.6M309.8 740.8h.6M308.4 712.9h.6M323.5 723.6h.6M291.2 740.5h.6M295.0 728.2h.6M342.1 715.1h.6M311.0 743.2h.6M306.9 750.7h.6M299.0 724.4h.6M298.9 745.2h.6M295.7 730.5h.6M304.6 731.9h.6M317.8 686.6h.6M289.8 742.2h.6M297.2 737.5h.6M309.7 720.4h.6M311.6 742.4h.6M310.4 715.3h.6M294.0 727.7h.6M339.2 700.1h.6M296.0 722.9h.6M330.7 718.5h.6M288.0 734.3h.6M310.3 732.2h.6M303.3 723.4h.6M296.3 725.8h.6M312.5 730.8h.6M300.5 706.0h.6M309.4 740.5h.6M306.4 733.9h.6M306.5 699.5h.6M338.8 710.3h.6M305.8 715.9h.6M310.9 728.9h.6M310.9 717.0h.6M291.6 722.5h.6M305.3 725.0h.6M292.2 718.2h.6M325.1 740.6h.6M299.1 747.9h.6M311.6 722.2h.6M299.8 715.3h.6M324.1 712.8h.6M303.1 732.3h.6M301.2 731.8h.6M318.7 745.4h.6M300.4 725.0h.6M302.3 726.9h.6M319.3 729.2h.6M300.5 711.0h.6M286.3 753.8h.6M306.8 716.4h.6M312.7 726.9h.6M287.5 718.4h.6M299.1 715.9h.6M297.3 733.6h.6M283.5 709.2h.6M288.1 749.9h.6M298.7 719.0h.6M306.2 726.1h.6M304.8 730.8h.6M302.9 713.0h.6M310.5 718.3h.6M301.9 729.7h.6M319.5 730.6h.6M313.5 708.9h.6M302.0 724.2h.6M293.7 730.3h.6M282.7 717.9h.6M298.5 741.6h.6M317.0 732.7h.6M299.7 709.3h.6M284.5 727.5h.6M297.2 723.5h.6M306.1 717.1h.6M291.4 719.1h.6M295.2 714.3h.6M294.7 703.4h.6M308.0 731.3h.6M299.6 723.0h.6M298.2 732.3h.6M318.6 746.9h.6M313.5 730.1h.6M296.6 716.2h.6M285.3 739.4h.6M300.0 701.2h.6M320.2 718.5h.6M328.4 712.0h.6M311.3 734.9h.6M284.7 730.8h.6M318.1 737.1h.6M301.1 701.5h.6M295.8 719.2h.6M290.3 715.2h.6M307.1 712.6h.6M294.4 723.0h.6M298.5 722.5h.6M294.9 740.9h.6M285.6 717.8h.6M306.3 724.5h.6M309.9 748.9h.6M299.1 724.0h.6M302.2 706.6h.6M297.2 694.8h.6M294.6 726.2h.6M296.5 738.3h.6M299.4 713.6h.6M303.3 722.7h.6M309.7 718.4h.6M316.8 721.4h.6M311.5 726.4h.6M304.9 735.7h.6M295.2 714.4h.6M303.9 724.4h.6M301.8 723.0h.6M298.5 717.9h.6M315.4 699.5h.6M307.2 700.9h.6M294.0 733.4h.6M306.1 719.4h.6M315.6 715.7h.6M304.8 725.7h.6M305.1 742.4h.6M307.9 741.6h.6M298.4 728.7h.6M317.6 709.8h.6M302.3 725.9h.6M293.2 720.4h.6M305.4 723.7h.6M329.1 698.0h.6M304.5 710.2h.6M302.6 711.1h.6M313.3 715.5h.6M315.5 736.7h.6M303.9 734.8h.6M311.1 689.6h.6M297.0 744.1h.6M283.8 710.2h.6M305.4 726.3h.6M297.1 718.1h.6M304.9 731.5h.6M283.7 730.6h.6M298.6 734.0h.6M286.1 706.4h.6M298.4 727.8h.6M289.2 754.2h.6M292.9 709.5h.6M313.0 692.8h.6M313.1 731.2h.6M292.4 713.2h.6M309.7 710.6h.6M286.8 708.8h.6M292.0 721.2h.6M300.8 699.1h.6M304.5 718.5h.6M329.1 742.5h.6M298.8 726.3h.6M294.8 726.0h.6M309.8 691.0h.6M296.7 701.5h.6M324.6 724.2h.6M309.8 695.9h.6M302.0 730.2h.6M294.2 752.0h.6M304.3 735.8h.6M296.9 720.8h.6M300.4 741.1h.6M295.9 744.7h.6M299.4 716.0h.6M307.8 692.1h.6M299.8 703.8h.6M298.8 723.6h.6M308.6 722.9h.6M312.2 686.8h.6M307.0 720.5h.6M310.6 720.0h.6M312.1 717.4h.6M304.2 737.9h.6M310.4 722.3h.6M310.7 727.9h.6M289.1 701.8h.6M295.1 720.4h.6M300.9 721.8h.6M299.3 730.4h.6M308.3 727.9h.6M307.0 724.9h.6M323.8 726.0h.6M288.2 698.3h.6M295.9 716.9h.6M299.4 712.2h.6M308.0 726.3h.6M312.0 702.8h.6M293.3 716.9h.6M313.3 687.4h.6M302.2 752.0h.6M309.7 690.7h.6M292.6 705.2h.6M313.1 732.5h.6M303.2 714.0h.6M298.2 701.3h.6M295.4 711.5h.6M298.4 736.6h.6M301.0 737.6h.6M303.9 713.2h.6M306.2 716.8h.6M304.0 739.0h.6M296.7 717.7h.6M316.7 709.5h.6M295.5 728.0h.6M289.7 744.6h.6M292.5 718.9h.6M295.3 710.1h.6M298.7 721.8h.6M302.7 706.1h.6M285.7 698.6h.6M296.9 696.3h.6M295.8 731.4h.6M313.2 718.1h.6M298.7 691.2h.6M291.8 742.8h.6M312.2 715.9h.6M298.4 708.1h.6M294.2 703.1h.6M308.0 707.9h.6M320.3 706.7h.6M298.3 698.5h.6M300.2 736.2h.6M283.1 719.1h.6M293.3 729.6h.6M302.0 737.4h.6M309.2 737.0h.6M308.3 722.6h.6M289.1 731.9h.6M293.9 710.3h.6M302.9 735.4h.6M313.5 728.0h.6M306.8 716.0h.6M320.8 732.4h.6M300.9 724.3h.6M333.7 698.6h.6M291.6 744.0h.6M301.9 722.7h.6M336.0 722.9h.6M301.4 743.2h.6M298.5 723.9h.6M315.5 713.8h.6M321.6 716.9h.6M305.0 732.3h.6M295.1 732.7h.6M318.5 736.0h.6M313.9 714.8h.6M304.1 744.1h.6M296.8 752.2h.6M310.8 704.9h.6M284.4 723.3h.6M294.7 718.4h.6M308.8 735.6h.6M294.1 740.0h.6M299.9 710.7h.6M305.5 729.6h.6M301.5 732.7h.6M323.8 731.8h.6M303.3 711.2h.6M300.4 719.5h.6M303.8 719.1h.6M297.9 720.3h.6M307.4 718.5h.6M294.1 718.3h.6M301.0 709.4h.6M297.6 730.2h.6M297.7 713.3h.6M325.2 738.2h.6M307.2 709.6h.6M302.9 730.7h.6M314.3 724.0h.6M302.3 718.7h.6M313.4 720.8h.6M320.9 704.3h.6M310.3 702.0h.6M291.9 739.5h.6M295.6 715.4h.6M287.6 747.2h.6M312.5 717.8h.6M301.4 721.2h.6M287.9 736.7h.6M297.9 690.6h.6M306.6 745.2h.6M293.0 707.0h.6M306.4 719.2h.6M306.9 704.4h.6M296.3 724.7h.6M311.5 720.6h.6M336.5 732.4h.6M303.4 730.0h.6M323.1 715.9h.6M292.9 739.6h.6M313.1 721.5h.6M284.8 717.6h.6M286.2 748.2h.6M306.0 728.3h.6M296.7 690.1h.6M325.1 749.3h.6M298.7 726.8h.6M296.1 741.7h.6M286.2 732.2h.6M327.2 735.0h.6M298.8 735.2h.6M321.0 728.4h.6M311.8 728.9h.6M309.3 705.5h.6M294.0 722.6h.6M309.7 703.7h.6M289.7 726.3h.6M321.5 706.5h.6M292.4 706.8h.6M300.0 740.6h.6M303.4 705.5h.6M299.1 737.8h.6M322.1 688.9h.6M317.9 728.1h.6M300.2 726.5h.6M303.2 714.1h.6M289.5 712.5h.6M294.5 716.4h.6M299.0 728.6h.6M320.8 723.0h.6M307.8 696.6h.6M292.2 721.6h.6M300.5 733.0h.6M315.2 694.0h.6M297.4 742.6h.6M305.2 744.6h.6M310.8 736.7h.6M309.4 728.0h.6M281.9 715.6h.6M318.3 705.1h.6M298.4 708.6h.6M294.7 703.6h.6M316.1 697.4h.6M292.4 735.7h.6M311.1 695.5h.6M302.4 730.4h.6M297.7 752.2h.6M303.6 735.5h.6M300.4 710.1h.6M295.0 706.1h.6M313.4 710.5h.6M312.7 688.7h.6M299.1 725.6h.6M301.4 723.0h.6M296.2 700.9h.6M302.3 739.4h.6M309.5 717.0h.6M291.6 707.4h.6M299.1 728.6h.6M309.5 741.9h.6M295.8 695.8h.6M296.5 735.0h.6M284.8 706.8h.6M310.7 719.6h.6M305.9 727.5h.6M346.3 761.9h.6M354.6 775.6h.6M334.0 775.7h.6M320.5 773.1h.6M327.8 760.9h.6M330.5 776.7h.6M374.1 769.8h.6M324.6 764.6h.6M322.7 767.2h.6M348.4 772.5h.6M339.7 778.8h.6M328.4 768.4h.6M334.0 778.4h.6M335.6 790.4h.6M343.0 769.5h.6M340.4 786.8h.6M337.3 771.5h.6M348.8 779.8h.6M320.8 766.6h.6M325.5 783.7h.6M352.9 776.2h.6M340.6 767.1h.6M344.4 769.9h.6M344.3 769.9h.6M330.3 783.3h.6M343.0 758.7h.6M333.1 765.9h.6M319.6 773.9h.6M340.3 770.2h.6M332.4 769.3h.6M359.6 758.5h.6M340.5 767.0h.6M343.4 776.3h.6M323.0 764.1h.6M341.4 769.8h.6M332.6 768.0h.6M319.0 782.3h.6M320.7 761.4h.6M325.8 773.2h.6M322.6 779.1h.6M327.2 757.3h.6M334.6 764.9h.6M344.5 789.0h.6M336.9 786.0h.6M344.2 781.1h.6M319.6 766.8h.6M326.1 769.5h.6M341.6 782.5h.6M338.4 768.9h.6M353.5 769.7h.6M330.3 784.5h.6M339.0 777.0h.6M352.1 766.2h.6M330.1 773.6h.6M328.8 766.4h.6M328.5 770.7h.6M328.5 778.0h.6M319.1 766.5h.6M324.8 777.1h.6M326.3 764.5h.6M320.0 764.8h.6M336.2 779.8h.6M327.6 765.9h.6M329.2 772.4h.6M323.5 773.5h.6M319.5 770.3h.6M353.8 764.2h.6M336.9 769.7h.6M318.6 771.2h.6M325.1 773.5h.6M340.2 759.9h.6M320.7 770.7h.6M319.8 760.0h.6M321.4 759.2h.6M335.5 766.1h.6M346.8 779.3h.6M329.0 778.3h.6M324.8 766.3h.6M333.7 779.5h.6M318.4 779.6h.6M318.6 759.6h.6M357.5 762.9h.6M337.9 780.9h.6M332.0 772.4h.6M340.6 771.3h.6M337.1 765.3h.6M330.5 769.8h.6M348.7 785.5h.6M343.0 764.1h.6M332.7 771.4h.6M323.2 676.1h.6M301.5 783.8h.6M337.8 726.0h.6M348.8 686.3h.6M298.4 775.2h.6M353.6 712.7h.6M380.2 709.5h.6M332.3 766.3h.6M379.0 708.3h.6M393.9 700.2h.6M311.6 735.1h.6M345.6 738.1h.6M334.8 765.6h.6M309.9 726.0h.6M358.7 778.4h.6M310.3 716.8h.6M335.0 706.8h.6M339.9 784.1h.6M307.9 771.6h.6M383.2 732.2h.6M321.4 689.6h.6M344.2 773.1h.6M324.9 705.3h.6M376.3 694.1h.6M345.8 764.1h.6M339.7 709.7h.6M349.8 714.7h.6M357.9 767.5h.6M373.2 765.0h.6M295.3 707.0h.6M357.8 749.2h.6M383.7 726.6h.6M287.9 684.5h.6M286.6 737.9h.6M318.2 680.3h.6M385.5 683.5h.6M321.0 765.1h.6M359.7 701.1h.6M391.7 727.4h.6M375.6 724.5h.6M355.4 785.9h.6M287.8 741.3h.6M348.9 787.2h.6M350.2 706.1h.6M296.9 739.7h.6M300.0 716.3h.6M391.3 697.0h.6M304.6 753.0h.6M338.9 780.5h.6M318.7 763.2h.6M328.7 790.3h.6M386.7 698.3h.6M323.7 730.5h.6M335.1 744.0h.6M360.4 693.2h.6M355.7 770.7h.6M328.3 707.0h.6M310.0 745.9h.6M294.8 700.3h.6M315.6 755.2h.6M366.4 738.5h.6M298.1 716.7h.6M288.0 790.6h.6M334.0 772.4h.6M309.3 707.7h.6M297.5 720.6h.6M359.8 739.4h.6M318.1 690.8h.6M312.3 764.5h.6M301.3 790.0h.6M377.3 695.4h.6M281.3 770.8h.6M285.9 753.0h.6M338.8 723.4h.6M347.9 678.0h.6M367.3 772.7h.6M285.3 708.4h.6M377.6 698.6h.6M297.6 768.5h.6M394.8 789.6h.6" stroke="#38446a" stroke-width="1.15" opacity="0.85" fill="none"/>
<path d="M283.2 771.1h.6M292.0 773.0h.6M289.2 762.8h.6M302.4 770.1h.6M285.2 764.0h.6M293.6 771.1h.6M290.7 771.8h.6M293.7 785.8h.6M292.8 776.7h.6M287.9 763.0h.6M292.1 773.1h.6M283.7 783.2h.6M281.8 768.7h.6M296.8 774.9h.6M287.6 777.1h.6M288.6 768.7h.6M286.6 763.1h.6M294.4 774.4h.6M304.3 763.8h.6M293.7 770.9h.6M283.9 767.1h.6M283.8 765.8h.6M295.7 763.6h.6M291.2 760.8h.6M284.9 772.6h.6M292.2 775.1h.6M294.2 773.8h.6M302.3 771.8h.6M295.3 770.5h.6M284.1 773.8h.6M291.1 768.4h.6M283.7 773.3h.6M287.8 767.7h.6M295.6 767.5h.6M293.3 775.7h.6M293.3 770.0h.6M283.2 778.3h.6M288.2 766.3h.6M293.4 769.5h.6M291.6 762.7h.6M290.3 770.7h.6M286.7 782.9h.6M291.5 763.8h.6M296.4 773.5h.6M285.6 774.6h.6M298.4 767.7h.6M295.7 777.9h.6M289.0 766.2h.6M290.5 774.8h.6M301.8 774.2h.6M285.9 767.8h.6M294.0 766.7h.6M293.9 771.1h.6M288.7 765.1h.6M294.7 765.9h.6M285.5 768.9h.6M282.8 777.7h.6M299.7 772.5h.6M298.0 773.3h.6M287.4 770.4h.6M300.0 774.7h.6M294.5 777.3h.6M288.0 774.3h.6M284.7 765.9h.6M283.5 767.6h.6M297.5 772.7h.6M295.8 785.9h.6M290.5 767.3h.6M285.4 765.8h.6M285.9 760.1h.6M285.3 780.7h.6M282.7 766.6h.6M288.7 782.3h.6M291.6 781.1h.6M287.2 773.2h.6M296.8 771.8h.6M294.0 773.5h.6M289.8 767.7h.6M293.5 769.9h.6M285.0 773.3h.6M295.0 772.3h.6M293.1 772.3h.6M292.5 775.0h.6M292.7 768.3h.6M291.8 772.7h.6M294.5 774.5h.6M291.2 779.5h.6M291.7 774.9h.6M293.7 775.9h.6M295.9 779.2h.6M287.5 773.4h.6M291.0 776.3h.6M299.8 778.8h.6M294.1 771.4h.6M291.8 764.8h.6M296.0 760.7h.6M290.0 759.3h.6M293.4 766.1h.6M286.2 766.2h.6M291.1 771.6h.6M288.1 764.8h.6M292.7 767.8h.6M287.3 768.5h.6M286.2 769.1h.6M294.1 789.7h.6M298.9 782.0h.6M293.8 764.6h.6M284.8 762.9h.6M291.5 768.2h.6M292.3 760.8h.6M283.6 783.0h.6M287.1 766.8h.6M286.5 766.7h.6M287.7 776.4h.6M281.2 766.2h.6M292.7 774.9h.6M284.9 777.9h.6M293.2 767.4h.6M290.4 772.5h.6M285.8 772.7h.6M295.9 770.0h.6M293.2 764.6h.6M285.6 776.7h.6M288.3 773.5h.6M285.6 779.7h.6M284.5 770.5h.6M296.4 771.7h.6M293.1 767.7h.6M286.7 778.3h.6M289.4 760.2h.6M289.9 779.7h.6M298.1 771.2h.6M285.8 761.0h.6M290.6 765.0h.6M284.3 766.0h.6M288.0 773.3h.6M290.3 766.7h.6M288.8 773.7h.6M285.7 778.6h.6M289.7 764.9h.6M293.4 763.8h.6M284.4 766.3h.6M290.7 766.0h.6M284.6 764.4h.6M290.4 773.6h.6M296.2 769.2h.6M283.5 775.7h.6M295.0 764.6h.6M283.7 776.8h.6M286.1 765.9h.6M288.6 767.5h.6M294.1 769.5h.6M293.8 771.1h.6M291.6 764.0h.6M286.8 773.2h.6M283.3 776.8h.6M294.6 772.2h.6M287.9 770.8h.6M289.9 776.3h.6M302.1 772.4h.6M286.7 772.9h.6M289.1 773.5h.6M285.0 764.9h.6M286.6 762.5h.6M293.1 772.0h.6M288.2 761.7h.6M293.6 771.9h.6M290.4 771.0h.6M296.6 776.3h.6M284.1 765.2h.6M285.6 770.0h.6M290.4 765.5h.6M288.1 772.0h.6M287.7 758.0h.6M295.5 764.6h.6M286.4 771.5h.6M294.6 769.9h.6M292.6 760.0h.6M287.9 767.1h.6M285.6 765.6h.6M285.3 767.6h.6M291.5 774.4h.6M286.3 769.4h.6M282.4 776.3h.6M302.5 771.0h.6M282.1 766.2h.6M287.4 770.2h.6M291.0 764.3h.6M292.9 765.5h.6M291.0 770.2h.6M284.5 769.6h.6M295.1 776.0h.6M281.7 772.5h.6M291.2 778.5h.6M291.8 767.9h.6M286.0 767.6h.6M300.5 779.3h.6M292.0 774.1h.6M281.3 765.9h.6M297.9 776.8h.6M285.4 764.1h.6M283.4 784.6h.6M282.0 766.4h.6M283.0 774.9h.6M293.9 762.0h.6M293.2 765.6h.6M289.4 773.1h.6M298.5 760.7h.6M284.6 772.3h.6M295.1 772.8h.6M291.5 767.2h.6M292.9 772.7h.6M288.2 767.4h.6M288.8 772.1h.6M287.2 773.2h.6M284.9 768.3h.6M291.1 768.4h.6M287.3 766.4h.6M282.6 768.6h.6M297.6 769.4h.6M286.9 780.5h.6M282.6 774.1h.6M291.6 757.8h.6M294.6 768.8h.6M286.4 770.0h.6M291.1 774.4h.6M284.4 771.9h.6M281.4 772.6h.6M292.1 765.3h.6M286.1 770.0h.6M296.3 766.5h.6M291.3 764.3h.6M294.8 773.6h.6M289.6 764.4h.6M288.1 768.9h.6M286.0 782.2h.6M294.1 770.0h.6M286.6 773.9h.6M294.2 767.3h.6M282.9 767.6h.6M289.0 774.2h.6M287.6 761.7h.6M296.0 775.4h.6M287.1 759.1h.6M292.5 767.0h.6M289.2 771.1h.6M294.3 772.2h.6M289.0 778.9h.6M282.0 772.4h.6M284.5 761.8h.6M300.5 776.1h.6M291.1 763.5h.6M296.5 762.4h.6M287.3 777.0h.6M285.0 771.9h.6M295.9 768.5h.6M302.1 770.9h.6M286.4 764.9h.6M282.0 770.4h.6M285.7 767.5h.6M287.6 764.9h.6M291.5 766.2h.6M293.8 767.1h.6M288.7 767.7h.6M288.6 769.5h.6M287.5 769.5h.6M289.1 772.8h.6M282.4 760.2h.6M291.3 775.0h.6M291.6 766.3h.6M289.5 764.6h.6M290.5 775.1h.6M295.1 767.1h.6M290.2 765.8h.6M288.1 765.2h.6M286.8 768.4h.6M281.1 775.4h.6M289.1 770.3h.6M283.6 771.5h.6M284.5 763.9h.6M292.1 774.3h.6M291.6 769.2h.6M299.7 771.8h.6M282.7 766.4h.6M284.7 777.3h.6M289.6 775.0h.6M284.1 774.9h.6M285.6 769.9h.6M292.5 765.3h.6M291.2 774.0h.6M292.3 780.0h.6M286.0 766.1h.6M291.1 764.6h.6M289.1 766.4h.6M285.7 762.6h.6M281.9 769.2h.6M293.2 762.9h.6M285.8 778.1h.6M281.6 763.2h.6M290.7 771.8h.6" stroke="#4f8a9c" stroke-width="1.1" opacity="0.75" fill="none"/>
<path d="M354.7 710.1h.6M359.6 717.0h.6M364.2 711.9h.6M353.2 711.6h.6M356.8 719.0h.6M362.5 708.4h.6M360.0 706.1h.6M355.0 716.9h.6M366.8 713.9h.6M360.2 721.6h.6M364.0 699.7h.6M365.0 705.4h.6M362.0 710.5h.6M357.6 706.2h.6M357.9 706.0h.6M359.6 717.6h.6M369.8 703.6h.6M358.0 714.4h.6M363.4 704.7h.6M364.5 708.3h.6M368.9 702.5h.6M369.7 695.2h.6M366.6 703.3h.6M376.0 693.9h.6M369.5 694.7h.6M359.3 702.4h.6M361.6 712.4h.6M365.4 716.0h.6M363.0 710.6h.6M362.2 705.4h.6M357.0 708.8h.6M368.2 716.0h.6M356.5 712.7h.6M356.0 724.7h.6M367.4 707.5h.6M360.0 717.0h.6M365.4 705.6h.6M362.9 705.1h.6M354.0 712.1h.6M352.0 708.7h.6M362.8 700.8h.6M369.9 704.2h.6M364.0 709.4h.6M359.1 716.9h.6M354.7 726.2h.6M357.3 704.4h.6M362.6 712.2h.6M361.1 711.2h.6M361.1 703.2h.6M364.5 707.7h.6M359.0 708.1h.6M357.9 714.1h.6M365.1 699.5h.6M362.7 710.0h.6M374.8 704.3h.6M357.2 714.6h.6M357.3 707.6h.6M361.4 705.7h.6M367.5 704.1h.6M359.5 711.6h.6M363.9 701.8h.6M367.0 705.0h.6M374.4 699.0h.6M367.1 700.4h.6M365.0 714.7h.6M350.1 720.5h.6M358.2 707.5h.6M364.1 714.0h.6M357.8 710.8h.6M358.1 709.5h.6M350.9 719.2h.6M360.1 705.7h.6M366.4 701.8h.6M361.7 701.8h.6M373.8 705.3h.6M363.0 711.0h.6M369.8 707.7h.6M358.4 712.8h.6M356.6 714.5h.6M372.8 699.8h.6M369.8 702.1h.6M365.6 706.5h.6M354.2 705.5h.6M365.8 705.0h.6M361.2 709.9h.6M360.1 704.4h.6M363.7 707.8h.6M365.5 709.5h.6M365.7 707.3h.6M363.7 717.1h.6M365.3 708.9h.6M358.4 712.4h.6M356.8 704.8h.6M355.4 721.1h.6M359.4 718.9h.6M368.5 700.2h.6M363.9 699.4h.6M370.1 697.6h.6M360.6 713.1h.6M368.0 702.0h.6M365.4 702.9h.6M356.9 711.2h.6M360.8 708.8h.6M360.9 709.0h.6M361.6 705.4h.6M363.6 713.2h.6M368.5 695.4h.6M368.4 697.0h.6M354.8 720.5h.6M362.0 708.0h.6M371.7 699.1h.6M352.1 720.0h.6M360.1 709.3h.6M359.5 701.9h.6M354.5 705.1h.6M359.4 707.8h.6M361.8 715.9h.6M360.0 709.8h.6M361.6 702.8h.6M349.9 712.7h.6M363.8 704.4h.6M359.1 710.0h.6M354.2 716.3h.6M371.5 703.5h.6M358.0 713.2h.6M372.5 707.2h.6M359.5 698.1h.6M366.3 706.6h.6M356.2 717.0h.6M367.7 700.2h.6M366.5 712.0h.6M359.8 700.4h.6M366.3 698.5h.6M359.7 706.1h.6M360.0 719.6h.6M366.9 705.0h.6M364.9 705.6h.6M356.0 704.5h.6M371.4 693.8h.6M351.3 715.8h.6M370.4 701.7h.6M354.5 712.7h.6M352.4 724.0h.6M357.5 720.1h.6M367.7 698.0h.6M350.4 719.3h.6M372.6 707.1h.6M362.6 712.2h.6M359.6 712.1h.6M367.8 696.5h.6" stroke="#4f7a90" stroke-width="1.1" opacity="0.7" fill="none"/>
<path d="M412.7 768.1h.6M403.4 764.2h.6M421.5 759.5h.6M406.6 767.4h.6M412.1 769.3h.6M421.5 775.5h.6M403.7 767.8h.6M424.5 763.7h.6M416.0 770.1h.6M407.5 776.2h.6M400.7 775.0h.6M404.2 768.0h.6M411.3 768.3h.6M417.5 777.0h.6M417.3 776.6h.6M417.0 771.5h.6M417.8 775.5h.6M403.8 772.2h.6M421.5 771.1h.6M410.8 765.2h.6M417.6 769.7h.6M418.1 768.3h.6M404.9 775.1h.6M412.3 767.3h.6M404.7 769.3h.6M409.9 774.3h.6M412.3 768.6h.6M405.1 777.7h.6M414.2 777.6h.6M424.2 769.5h.6M415.8 760.0h.6M410.1 762.0h.6M401.9 783.4h.6M419.1 773.1h.6M413.3 773.0h.6M430.9 768.1h.6M422.0 771.9h.6M427.1 774.7h.6M419.9 769.2h.6M404.5 770.3h.6M423.7 773.2h.6M426.5 771.0h.6M406.9 775.4h.6M415.7 782.6h.6M414.2 778.0h.6M409.5 759.8h.6M411.3 763.4h.6M421.6 758.8h.6M401.5 767.9h.6M417.9 766.9h.6M414.0 765.8h.6M423.0 774.7h.6M403.5 781.2h.6M411.7 783.4h.6M411.2 766.9h.6M418.0 765.3h.6M422.2 761.1h.6M413.2 772.7h.6M408.5 771.9h.6M407.1 776.8h.6M409.5 772.0h.6M423.7 769.5h.6M421.8 783.9h.6M408.0 771.2h.6M417.7 770.6h.6M401.5 786.8h.6M414.3 770.2h.6M416.5 778.8h.6M401.9 776.4h.6M420.0 790.8h.6M402.5 780.2h.6M403.6 775.5h.6M409.5 765.6h.6M402.0 775.3h.6M400.2 782.5h.6M403.8 772.1h.6M408.9 764.6h.6M421.9 774.7h.6M413.2 782.2h.6M413.6 775.6h.6M420.2 774.5h.6M409.8 761.8h.6M415.7 768.0h.6M407.5 766.3h.6M418.5 773.8h.6M415.6 774.7h.6M415.5 763.3h.6M412.4 759.5h.6M400.1 765.0h.6M419.1 775.4h.6M405.4 771.3h.6M411.5 780.2h.6M411.9 772.9h.6M415.1 773.7h.6M420.3 775.5h.6M402.6 781.9h.6M404.9 770.3h.6M416.4 773.1h.6M408.8 781.5h.6M423.0 771.1h.6M423.4 776.0h.6M421.8 773.6h.6M420.4 788.1h.6M416.8 764.2h.6M407.6 770.9h.6M428.6 760.0h.6M413.7 775.4h.6M416.6 769.6h.6M415.7 764.2h.6M411.5 772.3h.6M414.0 761.7h.6M414.2 768.0h.6M427.0 774.6h.6M415.3 763.8h.6M413.2 775.2h.6M419.0 763.9h.6M417.1 772.0h.6M406.2 783.3h.6M422.1 768.1h.6M416.5 758.6h.6M420.4 760.3h.6M424.7 778.7h.6M407.9 775.9h.6M404.9 778.1h.6M419.9 768.6h.6M429.4 775.3h.6M406.9 768.4h.6M410.3 759.8h.6M407.0 771.3h.6M411.3 772.9h.6M427.4 763.2h.6M406.6 771.6h.6M412.4 771.3h.6M409.8 769.5h.6M426.2 780.3h.6M417.9 764.5h.6M428.0 764.7h.6M408.9 773.0h.6M409.1 766.6h.6M414.2 763.6h.6M409.7 768.6h.6M416.6 759.3h.6M420.3 769.6h.6M412.3 773.1h.6M406.9 778.5h.6M408.0 771.6h.6M403.4 771.7h.6M412.2 761.2h.6M400.9 774.8h.6M425.5 759.9h.6M404.6 767.1h.6M413.6 768.7h.6M425.0 772.5h.6M419.6 765.7h.6M415.7 767.5h.6M422.6 778.5h.6M405.5 774.6h.6M418.4 769.0h.6M413.0 766.1h.6M414.5 766.7h.6M420.5 767.6h.6M409.9 774.6h.6M425.4 778.1h.6M416.0 764.6h.6M418.9 763.6h.6M417.5 773.3h.6M407.2 770.9h.6M409.4 767.4h.6M413.4 769.5h.6M420.1 762.8h.6M405.3 775.8h.6M416.1 764.0h.6M423.4 771.2h.6M410.7 761.5h.6M410.5 765.5h.6M416.8 765.7h.6M414.4 766.3h.6M406.3 772.6h.6M408.2 770.1h.6M418.6 767.1h.6M405.0 764.7h.6M406.6 765.7h.6M412.0 774.1h.6M406.2 765.8h.6M413.5 764.4h.6M412.5 771.7h.6M412.6 767.3h.6M415.9 771.5h.6M423.1 778.0h.6M418.3 759.3h.6M404.0 763.6h.6M423.7 763.4h.6M424.7 773.4h.6M412.6 763.8h.6M415.9 760.7h.6M412.2 759.9h.6M403.2 762.6h.6M427.1 767.8h.6M406.4 769.9h.6M422.8 777.9h.6M410.8 757.4h.6M413.5 779.9h.6M415.0 760.0h.6M411.8 771.0h.6M411.4 769.3h.6M425.5 767.0h.6M428.2 766.5h.6M409.2 773.2h.6M419.4 757.2h.6M418.5 777.3h.6M409.0 775.5h.6M418.3 771.7h.6M411.8 763.9h.6M415.5 766.1h.6M408.1 773.3h.6M414.6 761.8h.6M411.5 771.7h.6M407.8 759.7h.6M414.7 770.8h.6M421.6 768.4h.6M428.1 768.1h.6M420.2 766.7h.6M409.5 772.0h.6M420.2 762.3h.6M403.1 766.7h.6M416.2 776.5h.6M415.4 784.8h.6M406.3 767.3h.6M406.8 765.5h.6M417.3 757.9h.6M418.8 777.3h.6M415.1 771.1h.6M425.2 771.9h.6M428.7 774.8h.6M413.7 775.4h.6M423.9 759.5h.6M414.3 772.1h.6M414.5 769.0h.6M408.4 762.9h.6M407.5 773.2h.6M413.8 763.8h.6M419.9 783.5h.6M426.4 761.1h.6M412.9 772.7h.6M421.0 766.3h.6M417.6 764.8h.6M419.4 767.3h.6M410.3 782.5h.6M412.2 776.7h.6M413.6 768.8h.6M410.4 783.2h.6M416.3 774.6h.6M411.5 768.0h.6M413.3 762.7h.6M427.7 778.2h.6M419.4 778.5h.6M416.2 782.0h.6M411.6 766.8h.6M404.7 762.8h.6M407.9 768.1h.6M408.7 760.8h.6M409.5 773.9h.6M408.2 760.4h.6M421.4 762.5h.6M406.6 764.9h.6M409.1 775.3h.6M418.2 757.9h.6M410.3 763.9h.6M417.9 783.8h.6M407.9 772.5h.6M430.1 767.8h.6M415.5 771.5h.6M402.5 775.8h.6M409.0 775.8h.6M415.3 767.3h.6M406.8 766.3h.6M407.6 768.5h.6M411.8 767.8h.6M428.4 771.2h.6M415.2 781.6h.6M409.8 761.2h.6M408.5 759.3h.6M416.2 770.5h.6M408.6 763.8h.6M421.3 770.8h.6M405.8 758.2h.6M402.1 772.2h.6M415.3 768.9h.6M404.4 766.8h.6M408.4 765.7h.6M403.1 771.8h.6M416.0 769.0h.6M407.6 770.7h.6M418.5 764.1h.6M411.8 777.3h.6M413.3 760.3h.6M419.9 766.3h.6M412.8 766.1h.6M414.5 781.3h.6M421.2 783.6h.6M400.5 768.0h.6M400.7 760.5h.6M412.7 763.1h.6M417.5 765.6h.6M418.2 761.9h.6M402.3 764.1h.6M413.5 777.5h.6M419.4 778.0h.6M426.0 758.1h.6M416.6 767.0h.6M432.5 770.2h.6M418.8 764.0h.6M433.3 760.0h.6M404.1 757.6h.6M408.6 767.6h.6M421.6 767.7h.6M410.3 767.9h.6M418.8 771.4h.6M419.1 777.8h.6M414.8 758.9h.6M420.1 778.2h.6M410.0 760.8h.6M410.7 773.8h.6M405.8 763.8h.6M414.7 768.8h.6M406.2 766.0h.6M421.9 781.9h.6M414.7 772.7h.6M413.0 778.6h.6M403.6 773.9h.6M413.9 767.8h.6M413.9 769.6h.6M421.2 771.3h.6M412.6 767.5h.6M407.1 768.2h.6M412.0 769.3h.6M422.2 772.8h.6M407.0 768.3h.6M413.1 770.0h.6M415.8 766.0h.6M418.7 771.3h.6M414.4 770.0h.6M415.9 777.8h.6M426.0 766.3h.6M414.7 771.9h.6M408.9 769.3h.6M415.7 773.0h.6M404.6 761.7h.6M407.8 778.1h.6M402.5 767.4h.6M407.1 774.5h.6M404.8 775.2h.6M414.3 774.5h.6M410.6 783.9h.6M430.9 760.8h.6M418.1 765.5h.6M418.3 761.9h.6M431.8 758.0h.6M414.0 765.0h.6M408.6 782.0h.6M401.8 770.4h.6M415.2 768.4h.6M407.9 774.4h.6M405.3 763.4h.6M412.3 763.3h.6M410.4 777.6h.6M414.1 776.2h.6M416.7 773.6h.6M414.9 768.0h.6M414.4 779.6h.6M421.6 759.0h.6M415.4 775.2h.6M431.1 774.6h.6M409.1 771.1h.6M420.9 767.5h.6M421.6 764.2h.6M405.7 773.4h.6M401.3 772.8h.6M415.7 769.3h.6M417.3 768.4h.6M426.4 768.7h.6M403.2 759.4h.6M409.3 766.0h.6M404.3 763.5h.6M421.3 765.7h.6M410.6 761.0h.6M415.7 769.4h.6M405.6 779.8h.6M409.3 763.1h.6M405.6 772.0h.6M420.2 766.1h.6M422.5 770.3h.6M413.8 769.9h.6M413.0 766.8h.6M421.7 775.4h.6M412.3 767.1h.6M423.1 759.1h.6M409.7 781.5h.6M401.7 779.3h.6M423.1 780.5h.6M404.1 774.4h.6M409.8 761.0h.6M401.2 773.7h.6M402.4 776.7h.6M427.6 766.2h.6M415.3 774.8h.6M408.5 773.0h.6M422.6 759.0h.6M423.1 766.1h.6M421.9 769.5h.6M408.6 771.1h.6M401.9 764.4h.6M400.8 769.6h.6M431.9 764.2h.6M407.2 772.7h.6M416.8 774.7h.6M414.6 770.1h.6M414.7 772.1h.6M414.4 769.6h.6M416.9 767.8h.6M417.0 774.1h.6M422.9 761.5h.6M422.6 770.2h.6M426.0 767.6h.6M422.3 768.9h.6M416.9 774.4h.6M412.9 778.7h.6M413.2 772.1h.6M414.4 769.7h.6M419.0 764.6h.6M418.8 764.6h.6M427.6 758.0h.6M426.1 764.7h.6M419.5 773.0h.6M402.8 786.6h.6M431.0 765.5h.6M413.7 763.3h.6M411.4 763.7h.6M430.7 776.4h.6M406.1 763.2h.6M401.9 757.6h.6M415.3 772.5h.6M419.3 781.6h.6M421.0 760.4h.6M416.2 774.6h.6M411.2 775.4h.6M416.9 769.1h.6M417.7 768.8h.6M401.7 769.0h.6M428.1 765.6h.6M417.0 779.9h.6M419.8 774.3h.6M400.6 786.5h.6M407.1 772.8h.6M413.2 760.6h.6M412.8 766.0h.6M418.0 767.1h.6M413.4 768.3h.6M419.3 757.5h.6M412.8 767.3h.6M432.5 772.7h.6M417.5 765.7h.6M416.7 773.1h.6M418.7 778.5h.6M413.6 765.3h.6M411.5 768.6h.6M407.5 765.6h.6M413.0 767.0h.6M417.5 772.9h.6M408.7 775.9h.6M417.3 762.7h.6M426.5 773.9h.6M413.9 767.7h.6M411.4 777.2h.6M407.4 778.9h.6M413.9 774.1h.6M410.2 779.0h.6M420.7 765.3h.6M419.2 758.9h.6M409.5 768.1h.6M412.1 774.3h.6M401.7 776.1h.6M403.2 765.9h.6M407.0 759.7h.6M430.2 762.9h.6M431.2 768.5h.6M422.9 778.8h.6M410.1 768.0h.6M412.8 766.1h.6M403.0 768.0h.6M433.7 772.8h.6M410.5 777.3h.6M403.7 770.9h.6M417.3 758.3h.6M401.1 765.2h.6M427.6 766.7h.6M409.4 767.4h.6M405.9 772.7h.6M421.7 782.9h.6M417.0 788.7h.6M418.8 783.7h.6M415.4 764.9h.6M413.9 764.0h.6M414.0 762.3h.6M428.5 775.9h.6M412.3 783.1h.6M414.6 768.4h.6M410.5 762.3h.6M413.0 778.1h.6M412.3 775.6h.6M409.0 764.1h.6M422.1 775.0h.6M417.9 767.3h.6M418.2 773.8h.6M403.0 767.2h.6M401.0 769.9h.6M420.2 772.9h.6M424.6 767.7h.6M417.5 770.6h.6M408.7 775.2h.6M411.8 759.7h.6M431.5 764.7h.6M422.7 760.6h.6M416.2 764.2h.6M422.5 774.9h.6M405.4 761.3h.6M414.9 772.9h.6M424.2 768.5h.6M421.7 774.2h.6M409.8 763.9h.6M424.4 758.2h.6M402.4 772.8h.6M418.0 770.7h.6M417.4 759.6h.6M422.5 771.3h.6M407.8 767.9h.6M407.4 765.5h.6M414.4 770.0h.6M429.5 767.4h.6M402.7 771.6h.6M410.2 766.0h.6M425.9 774.2h.6M420.1 765.1h.6M415.5 768.1h.6M419.9 762.9h.6M410.8 763.3h.6M409.6 766.4h.6M401.6 766.1h.6M413.8 772.7h.6M409.4 779.3h.6M419.7 775.9h.6M419.0 766.9h.6M414.3 765.7h.6M414.3 764.8h.6M418.6 761.6h.6M420.6 774.0h.6M411.7 768.0h.6M412.2 771.1h.6M411.5 763.0h.6M416.8 763.9h.6M411.0 772.6h.6M423.0 776.4h.6M416.5 767.5h.6M417.1 777.8h.6M401.4 778.9h.6M428.1 759.6h.6M413.2 761.1h.6M402.0 770.5h.6M421.2 759.6h.6M409.1 768.1h.6M406.7 772.5h.6M424.1 786.1h.6M406.8 783.5h.6M410.7 769.6h.6M410.2 772.9h.6M416.8 772.5h.6M409.8 775.3h.6M415.5 765.5h.6M419.2 772.0h.6M422.2 770.0h.6M415.8 769.6h.6M411.0 764.8h.6M410.5 777.0h.6M427.8 789.2h.6M413.2 765.4h.6M420.4 781.1h.6M418.6 776.5h.6M415.8 783.8h.6M427.7 771.8h.6M410.3 757.7h.6M432.2 763.1h.6M407.9 762.9h.6M406.6 770.7h.6M404.0 774.9h.6M414.4 760.8h.6M419.0 773.3h.6M403.2 783.9h.6M424.4 774.0h.6M428.0 771.5h.6M415.7 765.4h.6M473.0 708.7h.6M475.2 712.1h.6M484.3 705.3h.6M476.1 716.4h.6M481.9 716.5h.6M474.9 696.2h.6M482.5 711.1h.6M494.6 705.1h.6M481.3 719.4h.6M482.2 710.8h.6M468.3 724.9h.6M475.8 701.5h.6M484.5 704.2h.6M486.9 706.0h.6M482.0 715.3h.6M477.1 715.9h.6M478.0 714.3h.6M481.9 717.0h.6M489.1 700.6h.6M477.6 704.9h.6M491.8 709.2h.6M472.5 717.8h.6M468.6 713.6h.6M478.2 721.5h.6M475.1 718.4h.6M477.3 705.1h.6M492.0 691.4h.6M476.5 722.0h.6M457.0 734.7h.6M467.9 723.0h.6M485.2 714.7h.6M491.1 708.2h.6M472.8 720.0h.6M488.8 727.2h.6M470.6 713.4h.6M480.5 691.9h.6M482.5 719.7h.6M469.3 715.1h.6M473.5 712.5h.6M488.5 719.7h.6M479.4 701.8h.6M478.0 710.2h.6M461.6 729.5h.6M488.6 695.6h.6M496.9 703.4h.6M479.9 713.2h.6M472.4 718.1h.6M490.1 694.6h.6M476.1 709.7h.6M480.3 712.3h.6M474.5 716.4h.6M496.0 711.9h.6M478.0 715.7h.6M484.0 713.9h.6M489.5 702.8h.6M473.5 721.3h.6M475.8 712.7h.6M481.3 707.7h.6M487.1 684.9h.6M472.9 703.0h.6M496.7 691.5h.6M479.1 724.8h.6M474.9 706.7h.6M479.0 700.3h.6M489.7 696.7h.6M486.2 688.1h.6M474.3 708.4h.6M492.0 711.4h.6M474.3 694.8h.6M485.8 697.3h.6M489.4 707.1h.6M499.9 709.7h.6M468.9 687.6h.6M479.4 716.0h.6M453.5 716.6h.6M479.4 723.2h.6M479.1 705.6h.6M484.3 706.5h.6M477.2 701.9h.6M480.5 713.3h.6M474.4 713.9h.6M482.7 701.9h.6M478.1 714.5h.6M478.7 711.9h.6M479.5 710.8h.6M497.7 693.1h.6M488.6 687.6h.6M489.4 693.6h.6M483.9 714.6h.6M483.2 715.0h.6M503.9 685.4h.6M479.6 710.8h.6M475.9 702.9h.6M499.6 698.6h.6M466.0 705.9h.6M475.7 712.6h.6M480.0 705.6h.6M482.5 713.8h.6M482.4 716.3h.6M486.1 712.4h.6M483.2 717.7h.6M475.5 714.5h.6M476.8 717.1h.6M489.1 723.7h.6M471.4 709.1h.6M474.8 715.9h.6M475.7 716.5h.6M477.6 692.3h.6M496.0 706.0h.6M481.2 715.8h.6M475.9 695.6h.6M473.6 713.8h.6M462.8 743.3h.6M466.9 718.4h.6M465.1 717.1h.6M471.4 722.1h.6M484.1 701.4h.6M482.5 692.7h.6M483.2 697.7h.6M472.8 719.3h.6M489.7 691.3h.6M470.9 702.2h.6M478.4 716.6h.6M478.2 711.5h.6M470.4 735.3h.6M489.7 698.4h.6M470.2 715.8h.6M493.4 687.2h.6M475.4 729.1h.6M476.7 702.1h.6M486.8 722.7h.6M481.3 707.4h.6M464.5 729.8h.6M490.9 713.7h.6M478.5 715.6h.6M472.7 713.7h.6M475.8 705.5h.6M486.9 719.7h.6M490.4 722.6h.6M469.4 725.5h.6M489.7 716.3h.6M484.0 711.2h.6M485.8 702.3h.6M468.5 718.2h.6M479.8 690.6h.6M472.3 718.4h.6M469.4 720.1h.6M472.7 713.7h.6M478.8 713.4h.6M458.6 703.8h.6M477.2 713.4h.6M464.9 708.6h.6M490.7 702.3h.6M482.6 696.4h.6M469.2 732.1h.6M479.8 700.0h.6M494.9 718.3h.6M495.9 695.6h.6M468.3 733.6h.6M480.3 715.8h.6M483.7 690.7h.6M479.7 716.1h.6M464.9 715.4h.6M483.5 707.2h.6M481.1 718.8h.6M470.3 718.0h.6M479.6 706.0h.6M469.7 706.5h.6M469.7 704.5h.6M498.4 698.8h.6M487.2 720.2h.6M479.4 712.8h.6M474.5 718.6h.6M488.5 703.7h.6M472.3 712.3h.6M470.8 724.0h.6M482.3 708.3h.6M492.9 704.0h.6M492.8 709.5h.6M477.7 713.6h.6M484.9 688.9h.6M465.6 712.6h.6M484.5 706.8h.6M476.3 721.6h.6M481.0 710.0h.6M455.3 711.8h.6M469.8 705.3h.6M496.3 689.0h.6M463.9 715.2h.6M488.5 699.2h.6M482.5 719.6h.6M470.0 704.4h.6M481.6 704.2h.6M469.7 701.9h.6M473.1 721.2h.6M460.4 715.6h.6M483.1 705.7h.6M500.4 696.4h.6M477.6 713.4h.6M479.0 703.3h.6M469.1 720.1h.6M496.9 695.8h.6M473.7 729.8h.6M477.9 701.4h.6M479.9 709.7h.6M491.9 693.0h.6M461.6 733.6h.6M463.4 738.7h.6M481.2 707.3h.6M475.8 722.7h.6M491.8 686.0h.6M479.7 713.9h.6M480.4 707.6h.6M483.3 699.5h.6M475.7 709.8h.6M478.1 693.3h.6M476.5 696.3h.6M473.9 720.4h.6M481.3 711.4h.6M482.0 702.9h.6M506.7 705.6h.6M490.5 715.9h.6M476.1 706.7h.6M490.3 714.2h.6M485.5 691.9h.6M484.8 700.4h.6M483.8 684.8h.6M491.8 706.0h.6M464.9 719.2h.6M479.7 705.9h.6M465.2 729.2h.6M489.7 703.1h.6M476.4 712.7h.6M487.8 703.3h.6M485.0 709.6h.6M475.3 710.3h.6M475.8 725.3h.6M474.0 723.5h.6M472.7 698.4h.6M468.5 719.2h.6M473.5 709.8h.6M472.6 712.7h.6M471.6 722.7h.6M494.1 691.0h.6M483.3 701.9h.6M459.4 727.8h.6M481.9 708.2h.6M491.2 693.3h.6M462.4 718.7h.6M481.9 712.0h.6M479.1 709.8h.6M489.3 700.9h.6M483.6 705.8h.6M486.1 716.5h.6M481.9 703.9h.6M488.1 702.4h.6M479.7 707.4h.6M467.5 715.3h.6M487.8 713.8h.6M483.0 715.5h.6M469.5 712.7h.6M476.9 722.3h.6M479.3 719.2h.6M475.6 715.5h.6M486.4 685.7h.6M478.6 718.0h.6M482.9 710.4h.6M489.2 714.3h.6M481.0 709.1h.6M475.4 718.5h.6M477.5 719.9h.6M482.8 698.8h.6M488.4 689.1h.6M477.6 712.3h.6M480.7 713.3h.6M485.0 711.9h.6M479.7 716.8h.6M492.1 705.9h.6M482.1 717.9h.6M479.1 719.2h.6M489.2 715.4h.6M477.2 722.0h.6M485.4 711.3h.6M494.3 705.2h.6M499.0 691.1h.6M476.9 708.9h.6M486.1 722.0h.6M485.8 713.6h.6M480.5 705.7h.6M477.7 722.7h.6M480.9 723.0h.6M478.7 718.1h.6M490.9 709.5h.6M479.4 690.6h.6M471.9 717.6h.6M470.5 715.5h.6M489.8 691.5h.6M478.4 722.9h.6M483.8 709.8h.6M465.4 714.6h.6M476.4 715.5h.6M476.4 703.0h.6M482.6 712.5h.6M477.1 709.3h.6M487.6 688.5h.6M476.4 716.1h.6M468.6 706.4h.6M475.5 720.6h.6M475.6 704.3h.6M494.2 699.4h.6M485.1 715.5h.6M473.3 706.0h.6M470.1 702.3h.6M484.8 709.1h.6M479.7 708.6h.6M486.4 689.1h.6M484.2 714.6h.6M480.9 713.0h.6M470.7 720.7h.6M464.1 723.7h.6M482.6 711.1h.6M481.5 717.0h.6M486.4 696.8h.6M498.2 704.3h.6M458.6 740.6h.6M492.3 700.2h.6M468.0 708.6h.6M482.3 709.4h.6M473.2 737.9h.6M478.2 720.1h.6M483.2 696.9h.6M487.4 707.8h.6M480.6 704.7h.6M475.4 717.5h.6M473.5 717.3h.6M480.7 697.0h.6M474.6 717.4h.6M470.9 712.7h.6M478.2 720.3h.6M482.1 710.4h.6M503.5 703.3h.6M475.2 720.1h.6M476.9 714.3h.6M465.2 714.6h.6M474.8 713.2h.6M484.7 697.0h.6M491.8 688.1h.6M473.9 725.0h.6M471.2 715.9h.6M487.8 693.9h.6M499.3 707.1h.6M488.0 727.4h.6M490.4 697.6h.6M466.5 711.0h.6M475.1 716.5h.6M484.5 703.2h.6M470.9 720.6h.6M472.7 730.3h.6M480.7 730.9h.6M456.9 723.1h.6M469.5 711.6h.6M473.0 712.2h.6M472.7 719.3h.6M489.0 696.0h.6M484.8 709.1h.6M488.9 698.7h.6M484.7 711.4h.6M487.9 695.7h.6M480.1 717.1h.6M480.2 717.6h.6M469.6 702.2h.6M479.7 713.4h.6M488.1 716.3h.6M479.7 702.7h.6M490.1 704.3h.6M472.7 719.6h.6M495.2 689.9h.6M463.3 725.5h.6M483.1 704.4h.6M480.7 711.7h.6M476.5 712.3h.6M489.1 707.6h.6M479.0 727.4h.6M478.9 712.7h.6M479.0 711.5h.6M476.6 718.5h.6M463.1 740.3h.6M478.8 709.6h.6M486.5 707.7h.6M481.4 711.1h.6M478.3 698.1h.6M474.4 708.4h.6M478.2 717.2h.6M485.3 710.6h.6M483.5 703.8h.6M487.0 702.6h.6M469.6 698.6h.6M488.1 698.8h.6M483.5 696.9h.6M479.9 716.1h.6M483.1 697.0h.6M476.1 728.4h.6M479.7 716.0h.6M478.8 718.5h.6M480.1 690.1h.6M479.2 719.2h.6M500.3 693.4h.6M468.9 714.4h.6M473.8 706.9h.6M479.2 716.7h.6M479.5 707.7h.6M470.5 736.5h.6M487.7 705.7h.6M478.9 689.2h.6M468.5 730.0h.6M474.6 717.5h.6M476.7 702.8h.6M477.6 705.3h.6M482.7 715.7h.6M458.6 710.3h.6M492.5 715.6h.6M475.0 710.2h.6M467.8 716.8h.6M468.6 727.3h.6M484.2 717.5h.6M475.7 722.7h.6M486.8 704.8h.6M482.6 704.5h.6M464.2 705.9h.6M480.2 715.7h.6M490.1 705.4h.6M495.2 691.2h.6M478.3 702.8h.6M486.4 697.0h.6M484.2 702.4h.6M483.5 703.6h.6M500.0 686.9h.6M476.7 695.6h.6M477.3 716.1h.6M480.0 711.0h.6M490.3 708.3h.6M466.3 719.7h.6M473.5 688.3h.6M492.0 708.5h.6M473.4 717.0h.6M486.7 709.0h.6M480.0 698.7h.6M465.3 714.0h.6M488.4 699.5h.6M464.7 714.8h.6M492.4 702.7h.6M508.4 692.7h.6M472.6 710.9h.6M475.0 702.4h.6M483.1 712.2h.6M468.6 730.2h.6M480.5 706.6h.6M468.7 719.5h.6M480.4 703.5h.6M474.8 710.5h.6M484.4 700.7h.6M473.6 724.1h.6M483.8 698.5h.6M478.0 707.7h.6M467.7 724.0h.6M477.8 693.6h.6M489.2 698.2h.6M474.3 714.9h.6M473.1 699.9h.6M478.3 717.4h.6M477.7 709.3h.6M472.6 705.2h.6M477.3 721.0h.6M487.4 709.7h.6M481.7 704.8h.6M465.3 727.9h.6M475.0 708.9h.6M490.1 710.6h.6M492.4 693.5h.6M474.1 696.9h.6M475.8 688.4h.6M471.1 708.6h.6M473.0 721.5h.6M482.5 719.8h.6M490.0 690.0h.6M485.2 708.1h.6M462.9 722.5h.6M467.1 720.1h.6M490.5 698.6h.6M489.5 693.0h.6M475.1 708.4h.6M470.2 717.4h.6M474.8 708.5h.6M480.3 700.4h.6M466.6 736.7h.6M480.0 707.9h.6M478.7 700.9h.6M477.5 716.1h.6M471.5 705.7h.6M467.2 715.3h.6M480.8 708.7h.6M486.8 709.9h.6M482.2 714.9h.6M482.5 702.6h.6M487.8 709.7h.6M486.6 714.9h.6M476.0 703.7h.6M486.2 690.8h.6M476.3 722.6h.6M494.8 696.2h.6M477.6 712.1h.6M500.1 696.3h.6M467.0 720.9h.6M477.6 697.5h.6M474.8 713.6h.6M476.6 702.9h.6M480.5 717.2h.6M470.4 718.4h.6M471.8 707.3h.6M470.4 706.2h.6M488.6 693.7h.6M482.3 703.7h.6M485.0 725.5h.6M477.6 720.2h.6M484.3 716.4h.6M470.4 715.9h.6M469.0 715.8h.6M474.5 705.9h.6M480.1 698.7h.6M477.2 718.7h.6M476.9 709.1h.6M458.6 721.8h.6M476.2 705.2h.6M465.0 728.9h.6M479.3 703.3h.6M465.7 720.1h.6M476.3 717.1h.6M473.9 714.1h.6M472.6 726.4h.6M462.2 718.8h.6M483.9 697.2h.6M483.1 696.6h.6M475.3 712.8h.6M473.5 713.5h.6M470.6 710.5h.6M467.4 703.6h.6M480.2 712.0h.6M481.6 704.5h.6M486.0 697.2h.6M476.0 723.8h.6M483.1 689.6h.6M493.4 703.1h.6M472.6 703.4h.6M472.9 717.2h.6M485.6 690.6h.6M469.8 719.0h.6M486.1 696.3h.6M480.4 706.1h.6M478.5 714.7h.6M474.5 710.0h.6M480.1 710.4h.6M475.6 701.9h.6M477.4 697.9h.6M464.6 711.7h.6M479.6 709.3h.6M470.5 733.3h.6M487.3 707.5h.6M477.9 726.2h.6M483.7 711.0h.6M471.7 717.8h.6M482.0 712.3h.6M477.3 706.1h.6M495.5 686.4h.6M472.1 714.3h.6M487.2 710.0h.6M472.8 720.8h.6M490.6 704.2h.6M484.3 713.1h.6M478.9 720.4h.6M474.0 733.8h.6M474.2 704.1h.6M463.9 736.9h.6M485.7 695.4h.6M494.2 699.3h.6M469.5 701.3h.6M478.5 707.2h.6M473.4 718.8h.6M465.6 712.9h.6M481.2 715.1h.6M476.1 704.0h.6M480.2 707.5h.6M465.6 728.5h.6M493.6 679.6h.6M477.4 721.3h.6M499.9 715.6h.6M461.2 725.5h.6M475.5 707.3h.6M462.8 724.2h.6M493.1 700.7h.6M484.4 699.8h.6M485.3 713.0h.6M497.5 703.0h.6M481.0 693.3h.6M483.4 711.8h.6M481.5 709.2h.6M482.0 717.1h.6M486.7 711.1h.6M472.1 721.3h.6M482.0 706.9h.6M475.7 711.5h.6M486.5 708.8h.6M475.3 716.1h.6M475.8 710.1h.6M466.3 711.0h.6M480.9 694.0h.6M475.8 718.4h.6M481.7 727.7h.6M494.5 695.2h.6M490.4 700.6h.6M483.2 708.8h.6M462.4 725.3h.6M474.9 715.3h.6M485.7 716.1h.6M470.4 729.8h.6M473.5 708.0h.6M473.8 725.7h.6M486.8 696.0h.6M478.0 715.2h.6M479.7 722.9h.6M480.5 705.7h.6M490.3 709.3h.6M477.4 695.8h.6M467.1 718.4h.6M468.1 707.6h.6M475.4 719.9h.6M493.7 715.2h.6M489.4 717.5h.6M483.5 711.6h.6M478.1 714.2h.6M471.1 705.7h.6M494.7 699.1h.6M475.8 696.1h.6M466.6 716.6h.6M476.1 724.2h.6M471.3 702.7h.6M476.8 717.9h.6M497.2 709.1h.6M469.5 697.6h.6M485.2 693.8h.6M491.5 685.8h.6M475.8 708.2h.6M479.6 720.4h.6M485.4 693.3h.6M484.2 711.0h.6M499.0 700.4h.6M474.6 701.5h.6M467.8 718.5h.6M470.5 717.7h.6M477.5 714.4h.6M468.9 720.4h.6M485.1 705.4h.6M462.9 717.0h.6M478.4 721.4h.6M472.8 714.5h.6M481.2 704.3h.6M481.0 716.5h.6M466.2 713.6h.6M476.2 735.6h.6M491.7 694.7h.6M492.0 687.2h.6M475.5 714.8h.6M475.2 714.7h.6M466.8 713.4h.6M477.8 714.3h.6M480.3 711.7h.6M482.5 709.1h.6M493.9 700.0h.6M496.7 690.6h.6M470.7 718.3h.6M476.6 719.4h.6M471.4 719.7h.6M489.7 702.3h.6M470.3 715.5h.6M495.0 709.1h.6M465.7 716.3h.6M488.4 712.2h.6M469.6 700.4h.6M477.5 717.2h.6M470.1 707.0h.6M488.1 713.4h.6M474.8 722.8h.6M476.5 704.6h.6M463.9 725.3h.6M494.3 691.9h.6M477.9 697.5h.6M488.2 722.5h.6M483.7 714.0h.6M467.2 709.5h.6M487.1 711.3h.6M475.7 710.0h.6M469.8 699.4h.6M472.9 724.8h.6M478.8 713.4h.6M495.9 705.6h.6M494.3 700.8h.6M480.9 708.9h.6M479.4 715.8h.6M483.3 716.0h.6M478.3 732.8h.6M478.4 707.1h.6M480.2 704.9h.6M474.0 715.0h.6M477.1 722.2h.6M466.4 717.2h.6M485.3 705.6h.6M454.7 730.6h.6M469.6 709.3h.6M465.1 727.9h.6M476.5 709.9h.6M478.9 709.6h.6M471.6 711.1h.6M486.1 696.6h.6M497.4 682.7h.6M478.4 716.2h.6M477.9 723.6h.6M459.9 723.1h.6M475.4 721.7h.6M482.4 724.6h.6M478.4 704.5h.6M475.2 720.9h.6M473.9 697.3h.6M469.0 698.6h.6M479.9 712.5h.6M479.3 695.4h.6M494.9 703.0h.6M479.0 708.2h.6M476.3 707.0h.6M472.9 714.8h.6M487.0 705.0h.6M476.5 704.4h.6M474.1 711.3h.6M477.3 696.7h.6M485.9 696.6h.6M475.1 745.6h.6M491.6 712.7h.6M481.6 713.9h.6M468.4 713.9h.6M485.3 708.5h.6M488.9 705.6h.6M482.0 716.4h.6M463.9 732.2h.6M479.7 699.9h.6M482.6 710.4h.6M489.2 699.6h.6M481.9 722.2h.6M481.8 703.2h.6M485.6 701.6h.6M485.8 694.1h.6M481.1 712.7h.6M469.2 720.1h.6M467.7 703.0h.6M466.6 709.4h.6M498.4 708.0h.6M472.8 709.6h.6M489.3 711.4h.6M482.5 729.7h.6M476.6 703.6h.6M470.2 698.7h.6M477.0 707.1h.6M472.5 711.4h.6M462.4 725.5h.6M476.0 709.3h.6M465.2 704.5h.6M482.1 728.9h.6M467.4 709.2h.6M467.4 707.0h.6M466.8 715.3h.6M476.7 710.5h.6M468.2 706.0h.6M473.7 723.8h.6M477.1 703.0h.6M498.3 701.0h.6M493.6 689.7h.6M480.1 714.4h.6M475.3 710.7h.6M466.5 713.8h.6M477.4 715.8h.6M469.9 712.0h.6M481.8 717.5h.6M480.6 711.1h.6M491.4 693.3h.6M481.2 712.7h.6M458.1 721.9h.6M466.7 692.4h.6M487.7 710.5h.6M479.2 703.3h.6M472.1 709.6h.6M476.5 723.0h.6M484.9 699.7h.6M473.1 704.1h.6M481.2 713.5h.6M490.1 693.5h.6M497.4 700.3h.6M487.5 696.5h.6M470.2 720.4h.6M487.2 713.6h.6M484.6 719.9h.6M478.0 710.7h.6M470.9 718.2h.6M480.9 719.1h.6M467.5 711.3h.6M487.8 717.9h.6M478.1 723.6h.6M477.1 709.7h.6M481.3 716.1h.6M490.8 716.9h.6M469.1 727.1h.6M487.6 701.5h.6M472.6 711.7h.6M468.6 742.4h.6M468.1 701.6h.6M493.0 707.6h.6M483.9 712.5h.6M479.9 714.2h.6M470.5 714.1h.6M479.5 709.4h.6M485.9 705.5h.6M484.0 697.8h.6M479.4 718.1h.6M480.8 704.2h.6M492.4 700.1h.6M467.0 724.0h.6M468.8 729.6h.6M493.2 706.3h.6M487.4 700.7h.6M490.5 700.2h.6M481.9 706.5h.6M486.0 713.6h.6M471.5 707.8h.6M477.6 692.7h.6M482.1 713.7h.6M472.5 709.0h.6M470.3 699.6h.6M481.1 708.9h.6M479.1 726.1h.6M477.1 701.3h.6M482.0 691.5h.6M476.0 725.7h.6M461.1 710.6h.6M478.8 698.5h.6M480.3 701.6h.6M464.6 714.8h.6M483.9 700.9h.6M486.4 708.9h.6M481.2 706.5h.6M481.2 695.8h.6M458.0 726.0h.6M473.4 730.8h.6M473.7 702.3h.6M487.0 715.3h.6M465.7 724.7h.6M479.2 727.4h.6M474.0 694.0h.6M488.8 687.6h.6M474.0 702.0h.6M480.5 713.3h.6M480.1 706.9h.6M468.2 715.9h.6M464.8 711.2h.6M484.9 710.0h.6M474.5 715.2h.6M478.5 699.7h.6M474.8 723.8h.6M475.3 734.5h.6M465.6 722.6h.6M480.5 722.0h.6M481.3 712.9h.6M469.4 707.4h.6M494.2 692.4h.6M479.7 698.1h.6M477.7 709.1h.6M495.5 703.1h.6M485.4 695.6h.6M479.1 708.5h.6M480.8 697.1h.6M493.0 698.7h.6M487.8 701.5h.6M504.1 681.8h.6M476.3 715.2h.6M480.5 717.8h.6M461.3 716.0h.6M479.9 709.7h.6M475.9 712.2h.6M463.7 723.8h.6M478.6 689.4h.6M485.9 697.5h.6M471.4 709.2h.6M500.9 700.4h.6M485.4 712.0h.6M468.4 713.7h.6M476.1 704.8h.6M478.1 712.8h.6M490.3 697.7h.6M450.8 739.6h.6M481.8 706.1h.6M484.4 699.3h.6M483.0 705.3h.6M479.0 736.9h.6M469.6 722.2h.6M473.7 709.3h.6M473.5 720.4h.6M480.2 719.6h.6M469.9 706.1h.6M479.5 721.2h.6M482.6 706.9h.6M471.9 715.9h.6M482.1 711.5h.6M483.9 700.8h.6M477.1 714.6h.6M483.7 706.4h.6M485.1 692.2h.6M481.7 714.0h.6M487.5 707.5h.6M489.3 724.6h.6M466.3 716.6h.6M495.5 699.3h.6M473.0 702.0h.6M467.6 713.6h.6M480.7 710.9h.6M484.2 718.7h.6M460.1 711.4h.6M489.8 697.5h.6M473.5 706.0h.6M466.7 720.4h.6M494.9 704.8h.6M469.9 731.2h.6M487.0 702.6h.6M476.1 728.6h.6M484.1 711.2h.6M497.6 690.6h.6M489.7 716.1h.6M467.1 726.3h.6M489.2 702.6h.6M464.6 731.6h.6M470.3 708.2h.6M487.5 697.3h.6M487.6 716.7h.6M464.1 723.0h.6M459.0 720.2h.6M474.0 711.6h.6M446.5 721.6h.6M442.9 707.4h.6M452.6 709.1h.6M443.5 708.6h.6M449.1 719.3h.6M445.4 706.5h.6M447.5 723.1h.6M440.6 717.3h.6M440.8 713.3h.6M449.7 719.3h.6M445.4 716.0h.6M444.5 715.4h.6M449.7 727.1h.6M444.1 692.8h.6M444.7 725.5h.6M451.3 706.2h.6M443.2 713.7h.6M450.9 716.7h.6M446.9 706.6h.6M450.6 706.2h.6M439.7 716.7h.6M450.7 695.1h.6M451.1 722.7h.6M454.0 716.2h.6M442.2 708.6h.6M442.9 721.4h.6M448.3 725.0h.6M449.7 715.8h.6M444.1 701.8h.6M452.0 701.2h.6M439.8 725.3h.6M447.8 720.2h.6M445.1 715.7h.6M441.8 716.3h.6M440.9 702.6h.6M445.1 698.2h.6M444.7 710.3h.6M447.0 706.4h.6M450.5 706.9h.6M450.7 717.6h.6M446.1 719.5h.6M441.2 718.8h.6M452.2 718.3h.6M446.4 708.5h.6M447.5 714.2h.6M448.0 708.2h.6M446.8 712.1h.6M443.6 710.5h.6M446.2 709.9h.6M452.3 718.8h.6M446.8 722.3h.6M446.0 716.4h.6M445.8 715.0h.6M448.9 714.8h.6M442.6 728.1h.6M453.3 715.3h.6M440.6 707.4h.6M453.2 732.0h.6M446.5 726.9h.6M444.8 711.7h.6M443.1 723.9h.6M441.4 736.2h.6M445.8 718.6h.6M450.8 728.2h.6M446.3 723.5h.6M447.9 724.4h.6M449.5 715.9h.6M448.5 712.1h.6M448.0 712.5h.6M442.8 716.4h.6M444.4 719.9h.6M450.3 733.5h.6M441.6 722.9h.6M449.7 713.6h.6M440.0 699.5h.6M453.2 725.8h.6M448.0 733.2h.6M447.8 728.9h.6M441.7 708.9h.6M447.7 705.4h.6M445.9 708.8h.6M448.7 717.0h.6M443.1 713.7h.6M449.8 707.3h.6M448.3 709.0h.6M442.4 725.5h.6M444.2 714.7h.6M440.1 714.9h.6M450.3 704.8h.6M448.6 709.0h.6M456.6 717.9h.6M451.8 708.1h.6M441.1 717.3h.6M439.0 715.0h.6M446.7 721.6h.6M442.8 708.9h.6M444.8 731.6h.6M444.6 722.1h.6M450.3 720.8h.6M449.2 701.1h.6M451.5 721.1h.6M445.5 718.7h.6M449.0 713.7h.6M446.5 709.2h.6M448.8 703.9h.6M445.8 710.3h.6M450.0 725.0h.6M447.8 717.7h.6M449.1 703.6h.6M447.0 705.2h.6M446.8 710.8h.6M443.9 721.0h.6M452.7 708.1h.6M443.5 714.1h.6M443.3 714.0h.6M446.4 707.1h.6M451.7 701.1h.6M446.1 725.2h.6M447.6 707.1h.6M443.9 711.0h.6M443.3 703.4h.6M440.8 717.8h.6M446.4 713.5h.6M451.8 723.7h.6M441.7 719.4h.6M442.1 710.2h.6M443.2 710.9h.6M448.5 722.3h.6M439.7 720.9h.6M451.6 713.3h.6M437.8 724.5h.6M438.6 722.1h.6M441.3 709.8h.6M439.9 717.8h.6M449.7 717.1h.6M441.6 713.3h.6M450.4 718.4h.6M441.7 725.5h.6M447.7 709.1h.6M438.6 712.8h.6M444.6 722.1h.6M449.7 731.3h.6M445.4 710.0h.6M444.5 715.6h.6M438.7 717.1h.6M446.1 712.9h.6M441.8 718.2h.6M448.2 696.6h.6M449.9 707.8h.6M451.4 718.4h.6M447.7 707.0h.6M447.3 711.0h.6M453.0 716.5h.6M449.5 706.3h.6M451.4 711.9h.6M448.0 725.4h.6M445.6 710.6h.6M449.8 725.7h.6M446.1 728.1h.6M449.1 711.4h.6M442.2 714.2h.6M441.8 703.3h.6M447.0 718.9h.6M450.9 702.6h.6M442.6 721.9h.6M445.6 714.0h.6M443.8 706.6h.6M447.4 709.1h.6M450.8 713.6h.6M448.8 708.9h.6M442.6 726.4h.6M437.0 719.1h.6M443.2 710.9h.6M448.9 712.2h.6M449.2 715.2h.6M447.8 727.7h.6M445.6 715.0h.6M455.1 705.1h.6M448.0 707.3h.6M438.3 726.3h.6M451.1 713.4h.6M446.8 703.2h.6M449.2 708.1h.6M452.4 725.8h.6M450.3 714.0h.6M445.2 716.3h.6M448.0 721.4h.6M440.7 713.9h.6M443.8 724.7h.6M454.8 720.0h.6M446.4 707.8h.6M442.2 704.0h.6M444.2 717.4h.6M441.4 711.1h.6M444.9 727.9h.6M439.7 720.9h.6M447.5 723.0h.6M449.5 723.0h.6M450.3 712.3h.6M447.6 720.2h.6M446.1 711.7h.6M444.7 710.1h.6M449.6 693.3h.6M445.0 724.2h.6M442.1 718.6h.6M445.8 705.5h.6M439.1 734.3h.6M447.3 706.9h.6M449.0 712.9h.6M443.4 708.8h.6M443.9 718.0h.6M448.7 718.4h.6M444.1 721.7h.6M448.8 716.9h.6M452.0 713.5h.6M442.2 714.3h.6M451.3 712.5h.6M452.2 699.9h.6M449.6 716.9h.6M439.2 731.3h.6M443.1 712.6h.6M455.8 726.3h.6M441.1 717.2h.6M445.2 725.8h.6M443.2 720.1h.6M453.6 723.1h.6M441.7 726.5h.6M443.6 701.9h.6M441.1 729.7h.6M444.1 703.3h.6M443.7 715.1h.6M449.2 720.9h.6M449.1 717.2h.6M438.8 717.2h.6M442.1 708.4h.6M455.4 727.4h.6M453.3 718.1h.6M442.0 723.4h.6M441.9 727.8h.6M455.3 726.0h.6M447.8 715.4h.6M438.0 715.4h.6M452.8 716.8h.6M449.8 715.3h.6M454.7 707.0h.6M443.4 707.0h.6M451.0 711.4h.6M444.6 729.2h.6M441.6 708.8h.6M440.7 721.2h.6M440.5 712.1h.6M441.3 726.1h.6M455.3 727.0h.6M443.2 714.5h.6M443.9 717.0h.6M450.1 723.9h.6M447.9 728.3h.6M441.8 696.6h.6M447.4 710.9h.6M444.4 703.2h.6M451.7 711.3h.6M444.0 718.1h.6M453.3 709.3h.6M445.4 716.0h.6M448.5 724.4h.6M439.4 719.6h.6M438.5 717.9h.6M446.8 712.3h.6M439.1 721.5h.6M438.4 705.0h.6M449.1 717.3h.6M445.5 707.9h.6M441.8 703.3h.6M446.0 711.3h.6M447.5 713.5h.6M447.2 720.6h.6M440.7 719.9h.6M442.6 708.5h.6M450.2 710.7h.6M446.7 723.9h.6M450.0 717.3h.6M451.9 710.5h.6M450.3 703.7h.6M454.7 718.9h.6M446.6 719.5h.6M446.2 708.7h.6M442.7 719.6h.6M444.5 703.1h.6M455.2 707.3h.6M446.2 697.1h.6M440.6 719.0h.6M441.4 726.2h.6M449.8 721.6h.6M443.0 721.2h.6M448.0 714.0h.6M442.6 711.6h.6M445.1 704.1h.6M448.8 724.3h.6M449.0 715.8h.6M451.3 714.5h.6M445.3 705.5h.6M448.1 724.7h.6M445.4 727.1h.6M438.9 721.6h.6M441.6 718.9h.6M449.2 717.6h.6M447.0 703.2h.6M448.9 711.2h.6M437.7 716.3h.6M448.6 724.3h.6M447.2 711.5h.6M454.0 715.3h.6M441.6 714.4h.6M451.9 725.7h.6M437.9 713.8h.6M438.2 714.1h.6M445.0 714.6h.6M445.2 720.8h.6M446.4 711.0h.6M454.1 713.3h.6M442.6 716.7h.6M445.8 700.3h.6M444.4 723.6h.6M450.7 713.4h.6M452.2 728.0h.6M447.3 707.7h.6M443.3 717.3h.6M448.2 709.3h.6M449.4 711.5h.6M449.1 708.3h.6M447.1 711.3h.6M441.6 719.5h.6M446.4 723.1h.6M446.2 708.3h.6M446.9 702.9h.6M443.1 704.7h.6M447.6 715.5h.6M445.8 714.8h.6M448.3 700.9h.6M442.9 704.0h.6M440.9 699.5h.6M452.9 709.0h.6M437.1 718.4h.6M448.7 713.5h.6M442.6 712.9h.6M439.8 723.9h.6M445.1 707.8h.6M445.3 719.0h.6M443.9 730.8h.6M453.2 721.9h.6M445.0 719.1h.6M450.3 716.1h.6M451.5 709.8h.6M441.7 707.9h.6M444.1 712.5h.6M441.2 713.5h.6M451.2 703.3h.6M445.6 722.6h.6M446.0 710.3h.6M445.0 717.1h.6M437.5 709.1h.6M446.2 720.7h.6M449.6 716.0h.6M455.9 698.8h.6M450.9 720.2h.6M440.7 725.7h.6M450.5 695.2h.6M440.4 712.2h.6M446.6 721.1h.6M449.6 715.1h.6M446.2 719.6h.6M441.5 706.0h.6M441.1 711.6h.6M449.6 712.6h.6M447.5 720.8h.6M448.5 707.2h.6M453.6 723.7h.6M454.1 715.3h.6M446.9 709.3h.6M444.2 716.9h.6M452.6 715.6h.6M449.1 717.3h.6M437.1 719.3h.6M443.2 708.2h.6M449.5 713.6h.6M450.0 711.0h.6M446.0 707.1h.6M445.5 722.7h.6M445.6 725.4h.6M446.8 703.0h.6M438.7 711.5h.6M443.3 712.3h.6M449.7 713.1h.6M439.8 702.3h.6M450.2 715.1h.6M440.9 717.6h.6M448.8 710.0h.6M449.2 715.5h.6M447.4 707.0h.6M443.7 695.9h.6M441.9 722.4h.6M444.2 707.8h.6M452.5 713.1h.6M449.4 710.6h.6M443.9 701.8h.6M445.1 714.9h.6M446.3 711.7h.6M447.2 713.7h.6M444.4 725.8h.6M450.5 726.1h.6M443.8 721.3h.6M447.8 710.7h.6M453.2 706.1h.6M453.9 712.5h.6M445.3 711.7h.6M448.2 715.7h.6M444.3 713.0h.6M442.4 718.2h.6M444.3 726.3h.6M448.2 717.3h.6M448.2 722.0h.6M437.2 720.2h.6M437.3 714.7h.6M441.1 719.4h.6M443.7 726.2h.6M438.3 721.7h.6M443.7 724.4h.6M443.8 711.7h.6M448.4 702.2h.6M440.8 712.6h.6M443.9 734.3h.6M446.4 713.5h.6M443.6 718.0h.6M437.9 719.4h.6M446.5 724.9h.6M442.0 720.1h.6M443.7 721.3h.6M452.9 713.4h.6M441.2 708.7h.6M448.8 705.9h.6M447.7 721.0h.6M445.6 719.2h.6M447.8 717.1h.6M446.1 712.3h.6M442.3 707.8h.6M438.2 720.3h.6M445.9 718.1h.6M442.9 709.7h.6M444.4 721.2h.6M449.3 725.8h.6M445.0 742.7h.6M440.4 738.7h.6M442.8 722.8h.6M445.6 732.6h.6M442.2 737.9h.6M449.8 745.9h.6M440.9 748.3h.6M443.1 746.3h.6M444.1 735.6h.6M439.0 739.1h.6M440.8 750.6h.6M441.0 749.1h.6M438.8 741.2h.6M444.8 733.1h.6M443.8 735.4h.6M440.9 744.9h.6M439.0 740.7h.6M444.8 743.1h.6M441.7 731.8h.6M445.1 729.9h.6M438.7 752.0h.6M442.1 739.0h.6M442.3 739.3h.6M445.6 736.9h.6M438.5 750.1h.6M442.6 730.7h.6M447.5 753.8h.6M441.0 733.7h.6M443.6 749.7h.6M444.2 750.0h.6M445.8 745.0h.6M437.8 732.5h.6M449.2 736.3h.6M438.0 722.9h.6M438.9 741.1h.6M440.0 718.8h.6M441.1 716.2h.6M440.5 747.4h.6M446.5 742.8h.6M444.3 740.6h.6M450.7 743.9h.6M445.1 743.7h.6M439.8 724.8h.6M452.2 736.5h.6M446.6 745.9h.6M437.4 726.7h.6M443.7 733.8h.6M446.2 750.5h.6M446.6 734.9h.6M445.6 740.7h.6M451.2 735.1h.6M443.3 740.8h.6M449.5 745.3h.6M438.6 729.8h.6M441.6 732.7h.6M442.6 750.3h.6M452.9 724.9h.6M446.9 747.2h.6M443.2 752.2h.6M446.1 730.7h.6M443.5 746.3h.6M444.5 750.9h.6M444.1 744.2h.6M443.9 741.2h.6M446.1 715.2h.6M438.2 741.6h.6M443.4 755.0h.6M444.0 733.2h.6M443.6 737.3h.6M443.8 744.6h.6M440.7 727.9h.6M446.1 743.6h.6M444.1 744.1h.6M437.3 752.1h.6M446.1 746.7h.6M441.0 732.8h.6M442.2 748.8h.6M445.8 729.6h.6M443.7 741.0h.6M440.9 743.6h.6M448.3 737.6h.6M444.5 752.3h.6M439.9 732.6h.6M443.4 746.4h.6M445.2 740.5h.6M448.1 721.1h.6M442.1 744.8h.6M438.9 721.1h.6M444.1 753.0h.6M441.6 735.7h.6M442.2 741.2h.6M452.3 736.7h.6M440.6 739.8h.6M441.9 750.6h.6M445.4 748.3h.6M441.0 745.4h.6M443.7 743.1h.6M446.8 719.2h.6M450.4 734.4h.6M443.7 742.4h.6M443.4 738.4h.6M447.0 750.9h.6M444.5 734.3h.6M443.3 739.3h.6M444.7 723.0h.6M444.0 740.9h.6M447.2 749.0h.6M444.1 741.0h.6M440.5 740.5h.6M443.7 738.7h.6M443.0 751.1h.6M448.7 749.5h.6M439.1 712.2h.6M443.7 743.2h.6M447.9 711.9h.6M447.2 730.6h.6M443.2 739.8h.6M442.5 721.5h.6M438.7 749.0h.6M442.6 730.2h.6M444.6 733.4h.6M444.9 739.7h.6M444.6 746.6h.6M448.8 737.4h.6M444.8 741.2h.6M449.8 748.1h.6M444.1 732.0h.6M444.5 738.6h.6M444.4 739.2h.6M440.5 751.2h.6M446.9 740.9h.6M443.0 735.6h.6M441.6 725.9h.6M440.5 731.2h.6M449.4 733.0h.6M443.5 735.2h.6M448.6 740.9h.6M445.4 718.7h.6M445.7 745.8h.6M447.8 721.7h.6M443.4 742.9h.6M441.1 741.6h.6M445.0 745.5h.6M444.7 739.2h.6M438.6 735.1h.6M452.0 732.7h.6M441.1 740.0h.6M441.1 739.0h.6M445.7 737.1h.6M438.8 738.7h.6M444.4 732.8h.6M446.5 729.7h.6M449.7 732.4h.6M446.7 741.0h.6M445.1 736.1h.6M449.9 750.3h.6M440.3 734.4h.6M438.0 725.6h.6M447.0 736.4h.6M441.7 729.4h.6M439.7 734.6h.6M445.6 748.7h.6M439.2 710.8h.6M438.0 728.9h.6M442.3 736.0h.6M440.5 733.1h.6M438.7 735.4h.6M441.6 731.1h.6M445.1 743.9h.6M451.6 743.5h.6M448.5 743.4h.6M441.8 751.9h.6M441.2 722.9h.6M442.2 732.4h.6M439.0 738.3h.6M449.2 739.0h.6M450.5 738.7h.6M440.0 728.4h.6M448.1 733.0h.6M446.0 728.9h.6M434.7 732.8h.6M417.7 714.0h.6M414.1 729.6h.6M428.0 749.2h.6M414.2 732.6h.6M419.7 743.8h.6M421.5 731.0h.6M419.4 730.1h.6M429.7 725.9h.6M420.9 709.9h.6M427.4 725.8h.6M423.6 705.5h.6M434.8 728.2h.6M417.8 743.4h.6M414.8 724.2h.6M434.0 712.5h.6M418.2 725.7h.6M415.0 712.3h.6M434.1 715.5h.6M426.9 722.7h.6M406.6 710.9h.6M413.0 733.6h.6M423.6 723.1h.6M422.0 720.4h.6M418.8 727.4h.6M423.5 724.8h.6M421.8 715.6h.6M434.5 721.5h.6M419.5 705.9h.6M402.7 731.8h.6M421.7 738.4h.6M429.9 740.2h.6M432.8 718.4h.6M432.4 719.1h.6M413.2 728.9h.6M418.1 723.8h.6M416.3 725.1h.6M414.5 729.7h.6M424.4 734.2h.6M407.9 707.5h.6M419.5 727.9h.6M410.0 724.8h.6M426.9 700.5h.6M418.7 733.9h.6M427.2 721.6h.6M413.4 737.0h.6M421.7 734.4h.6M426.4 722.0h.6M419.5 718.0h.6M409.9 729.0h.6M416.8 742.2h.6M422.5 748.7h.6M410.2 736.4h.6M419.5 730.2h.6M419.4 724.0h.6M401.3 728.3h.6M424.0 733.1h.6M402.8 704.2h.6M424.7 734.6h.6M415.9 735.1h.6M424.4 706.9h.6M414.4 741.0h.6M423.2 724.6h.6M416.6 714.6h.6M421.5 720.5h.6M415.6 727.7h.6M405.5 723.2h.6M412.4 703.9h.6M424.7 740.9h.6M428.3 733.3h.6M428.2 692.5h.6M415.3 752.8h.6M425.6 726.1h.6M418.9 714.4h.6M405.7 732.3h.6M402.7 726.8h.6M410.9 735.3h.6M413.9 731.6h.6M420.8 735.3h.6M408.3 708.5h.6M415.9 715.5h.6M418.2 702.7h.6M409.1 727.4h.6M427.4 740.0h.6M429.4 728.8h.6M427.2 754.9h.6M417.2 713.6h.6M422.4 728.3h.6M430.4 729.7h.6M420.0 752.2h.6M429.2 712.1h.6M414.3 727.2h.6M432.6 724.0h.6M430.4 716.8h.6M414.4 726.2h.6M435.6 734.4h.6M409.5 719.5h.6M435.3 707.7h.6M422.9 707.9h.6M412.7 731.8h.6M415.1 723.5h.6M425.0 729.9h.6M416.9 715.5h.6M405.0 718.0h.6M421.8 713.0h.6M415.2 718.2h.6M414.8 744.1h.6M431.0 742.3h.6M412.8 696.0h.6M403.0 720.7h.6M417.2 728.2h.6M403.7 731.7h.6M415.6 729.9h.6M429.3 714.2h.6M420.8 733.6h.6M420.0 746.1h.6M414.5 712.8h.6M413.1 693.6h.6M409.8 732.8h.6M428.2 710.4h.6M429.2 723.8h.6M416.3 720.5h.6M435.3 744.8h.6M424.1 746.4h.6M418.5 742.5h.6M427.6 718.8h.6M420.0 737.7h.6M420.0 735.5h.6M422.3 738.1h.6M413.3 736.7h.6M419.5 728.2h.6M431.3 741.5h.6M427.4 729.5h.6M421.5 737.1h.6M412.9 719.0h.6M401.7 711.4h.6M424.1 722.8h.6M411.4 731.7h.6M435.9 734.9h.6M412.9 731.7h.6M429.1 706.2h.6M408.9 719.0h.6M423.5 723.5h.6M424.9 737.2h.6M429.5 716.0h.6M402.7 717.8h.6M401.3 740.7h.6M420.4 713.6h.6M434.4 721.7h.6M419.4 719.8h.6M416.2 723.1h.6M412.0 714.3h.6M409.0 746.2h.6M413.4 736.7h.6M405.2 717.3h.6M427.8 729.5h.6M431.8 740.7h.6M429.2 696.1h.6M425.5 738.0h.6M427.7 729.6h.6M420.7 743.6h.6M421.2 739.7h.6M418.9 722.3h.6M430.7 739.1h.6M429.5 724.7h.6M418.0 704.6h.6M413.7 748.9h.6M423.1 725.0h.6M410.9 731.0h.6M418.4 726.4h.6M416.6 717.8h.6M411.5 745.9h.6M407.9 723.2h.6M431.1 725.8h.6M410.8 716.5h.6M430.3 712.0h.6M420.7 711.4h.6M416.1 736.3h.6M407.2 717.3h.6M428.9 735.0h.6M408.4 745.8h.6M420.3 717.9h.6M420.7 731.8h.6M422.1 720.0h.6M419.2 740.6h.6M421.4 706.7h.6M418.1 704.4h.6M404.5 741.5h.6M414.7 735.1h.6M422.8 716.9h.6M425.0 746.8h.6M419.1 714.4h.6M428.6 722.6h.6M423.0 717.4h.6M413.1 728.2h.6M427.2 722.5h.6M406.5 725.8h.6M416.8 710.5h.6M419.7 714.0h.6M412.1 750.3h.6M415.4 726.2h.6M432.4 718.4h.6M431.2 713.2h.6M425.5 729.5h.6M419.7 722.4h.6M420.9 737.7h.6M402.2 723.2h.6M435.1 734.7h.6M419.3 741.3h.6M407.5 730.3h.6M433.2 711.7h.6M416.9 705.7h.6M425.8 712.9h.6M408.8 738.4h.6M423.3 719.4h.6M431.6 734.6h.6M426.6 727.3h.6M412.1 703.9h.6M404.6 718.0h.6M428.6 749.0h.6M425.3 724.8h.6M434.1 707.9h.6M422.2 696.4h.6M425.2 712.5h.6M433.7 709.5h.6M418.9 748.8h.6M416.1 727.3h.6M415.9 730.1h.6M422.1 730.2h.6M417.4 723.0h.6M421.0 727.8h.6M416.3 722.9h.6M415.5 701.3h.6M400.9 734.0h.6M408.4 743.9h.6M417.4 745.3h.6M414.9 709.8h.6M411.6 740.0h.6M411.4 719.7h.6M407.5 721.7h.6M430.7 730.2h.6M419.7 724.8h.6M412.4 720.9h.6M406.6 700.8h.6M432.2 732.9h.6M419.7 727.8h.6M430.7 729.3h.6M423.7 713.8h.6M422.8 737.3h.6M412.9 734.7h.6M426.9 705.1h.6M418.0 701.3h.6M428.6 724.8h.6M410.4 730.8h.6M412.6 726.0h.6M412.8 715.6h.6M426.2 713.9h.6M412.8 723.8h.6M429.4 728.4h.6M414.5 735.1h.6M402.9 726.3h.6M402.9 732.5h.6M435.9 714.5h.6M426.6 728.6h.6M425.5 723.7h.6M418.3 732.9h.6M418.7 694.9h.6M433.3 738.2h.6M432.1 734.8h.6M427.7 727.2h.6M413.1 722.3h.6M419.8 735.1h.6M418.8 720.4h.6M431.4 709.0h.6M404.2 728.4h.6M421.4 719.2h.6M412.6 712.8h.6M435.0 722.1h.6M414.1 717.1h.6M409.9 730.8h.6M427.4 729.4h.6M421.0 717.9h.6M421.2 712.4h.6M419.0 739.3h.6M429.9 712.0h.6M432.3 743.5h.6M432.1 725.6h.6M414.5 709.7h.6M406.8 713.5h.6M416.2 740.5h.6M408.7 696.4h.6M426.4 746.5h.6M418.3 712.0h.6M404.8 747.1h.6M408.0 711.0h.6M414.5 714.9h.6M411.0 714.6h.6M425.2 733.8h.6M408.4 712.1h.6M418.6 733.2h.6M406.6 739.0h.6M400.1 746.8h.6M428.5 738.0h.6M427.5 728.2h.6M423.1 747.4h.6M403.2 726.0h.6M433.6 721.1h.6M429.5 731.0h.6M411.9 726.2h.6M410.4 712.6h.6M416.6 741.5h.6M415.1 707.0h.6M421.5 699.1h.6M417.1 723.8h.6M407.7 727.5h.6M423.3 734.5h.6M416.9 735.7h.6M410.9 730.4h.6M412.6 710.4h.6M428.9 718.9h.6M429.6 745.7h.6M407.6 730.1h.6M418.6 704.3h.6M416.7 731.5h.6M432.3 739.5h.6M419.7 708.8h.6M434.8 736.3h.6M415.7 720.1h.6M424.0 716.2h.6M403.4 700.6h.6M426.5 722.3h.6M416.3 722.1h.6M423.7 720.3h.6M421.8 738.9h.6M434.9 729.7h.6M408.3 737.6h.6M412.2 721.4h.6M434.2 730.2h.6M415.0 731.5h.6M419.8 723.4h.6M427.6 742.0h.6M414.9 701.9h.6M420.3 736.7h.6M419.3 703.6h.6M419.9 720.1h.6M402.5 737.0h.6M426.8 731.6h.6M421.7 693.0h.6M430.4 737.4h.6M419.3 710.5h.6M425.6 725.9h.6M427.8 740.4h.6M423.4 746.2h.6M416.3 713.1h.6M417.5 731.5h.6M421.0 737.4h.6M420.0 731.0h.6M421.8 726.5h.6M400.3 736.0h.6M419.6 741.7h.6M418.1 713.3h.6M415.1 729.4h.6M403.3 734.8h.6M425.8 723.5h.6M408.5 730.2h.6M416.4 733.3h.6M413.2 705.0h.6M425.2 712.4h.6M400.4 732.1h.6M432.5 738.1h.6M423.1 716.3h.6M404.3 710.4h.6M414.0 723.9h.6M418.7 751.7h.6M423.3 716.7h.6M422.0 710.4h.6M427.5 715.0h.6M401.6 745.8h.6M423.8 715.4h.6M426.8 740.6h.6M408.5 724.6h.6M406.4 722.2h.6M408.2 716.0h.6M418.6 727.5h.6M420.9 722.7h.6M432.7 753.2h.6M432.9 716.1h.6M414.7 728.9h.6M412.2 709.7h.6M402.2 736.2h.6M403.1 692.1h.6M404.0 731.2h.6M421.2 721.7h.6M429.4 706.5h.6M412.8 730.9h.6M417.3 697.3h.6M425.9 718.3h.6M420.7 718.8h.6M423.2 738.6h.6M420.4 735.3h.6M428.9 740.9h.6M413.7 725.2h.6M408.2 728.0h.6M434.1 713.9h.6M418.1 730.9h.6M409.2 723.9h.6M415.9 713.6h.6M423.4 730.6h.6M430.5 715.8h.6M411.4 745.8h.6M412.8 729.3h.6M428.1 730.6h.6M411.6 736.1h.6M414.6 740.2h.6M428.2 707.5h.6M407.5 737.6h.6M432.2 721.6h.6M413.4 713.6h.6M419.4 735.1h.6M414.5 706.8h.6M405.7 725.1h.6M409.1 740.6h.6M407.4 725.7h.6M421.4 747.3h.6M400.2 753.0h.6M402.0 709.4h.6M417.6 743.4h.6M402.6 740.0h.6M417.4 739.4h.6M412.4 729.9h.6M419.0 732.5h.6M416.2 740.3h.6M422.4 714.4h.6M434.5 730.5h.6M418.1 737.7h.6M414.0 745.2h.6M413.2 720.3h.6M415.1 727.5h.6M407.1 730.7h.6M425.3 728.2h.6M433.7 733.6h.6M424.9 730.4h.6M405.3 719.1h.6M415.0 732.8h.6M411.9 729.9h.6M421.3 705.8h.6M416.5 697.5h.6M425.0 713.9h.6M407.6 725.7h.6M426.3 708.9h.6M414.7 723.9h.6M411.7 716.8h.6M421.9 716.3h.6M404.2 724.0h.6M427.0 727.1h.6M420.3 749.2h.6M414.6 699.5h.6M427.6 753.7h.6M414.2 731.8h.6M434.3 750.4h.6M418.4 701.9h.6M401.0 726.5h.6M424.0 728.2h.6M430.0 703.5h.6M405.4 718.8h.6M401.6 714.0h.6M408.7 732.5h.6M434.5 730.6h.6M426.7 717.2h.6M418.2 706.3h.6M422.5 726.1h.6M420.3 732.8h.6M425.1 703.9h.6M408.3 733.5h.6M428.6 745.4h.6M402.6 722.9h.6M402.5 751.0h.6M418.0 731.4h.6M433.2 737.0h.6M418.0 741.3h.6M403.8 722.2h.6M414.9 747.4h.6M420.4 731.7h.6M406.3 735.5h.6M416.0 730.3h.6M403.3 719.8h.6M409.1 721.8h.6M431.1 715.6h.6M405.4 719.5h.6M425.5 714.6h.6M432.1 733.3h.6M424.7 735.3h.6M411.9 720.6h.6M422.8 717.3h.6M418.8 743.6h.6M424.1 706.0h.6M422.0 717.4h.6M425.4 746.4h.6M403.2 749.0h.6M418.6 742.9h.6M406.3 727.7h.6M429.9 732.9h.6M430.4 742.1h.6M419.2 696.7h.6M418.8 715.2h.6M424.9 712.4h.6M421.3 722.5h.6M420.2 737.5h.6M423.7 716.3h.6M421.3 746.3h.6M420.9 733.4h.6M419.4 716.9h.6M423.9 708.8h.6M415.7 730.0h.6M414.3 719.5h.6M421.5 716.2h.6M414.9 713.0h.6M408.1 720.4h.6M410.9 712.2h.6M429.1 727.0h.6M404.8 743.2h.6M421.5 701.0h.6M407.0 717.7h.6M421.0 698.3h.6M426.1 713.6h.6M426.4 735.3h.6M418.1 732.2h.6M423.0 714.6h.6M405.1 740.9h.6M408.6 728.8h.6M419.3 738.4h.6M424.9 731.8h.6M427.7 730.9h.6M428.8 693.6h.6M421.2 701.1h.6M415.5 731.9h.6M418.6 714.5h.6M409.7 719.4h.6M409.1 735.9h.6M424.5 735.3h.6M410.5 717.6h.6M420.8 737.8h.6M413.7 727.5h.6M426.0 706.6h.6M435.9 731.7h.6M415.7 722.4h.6M410.8 728.0h.6M411.3 733.2h.6M415.6 727.7h.6M425.4 708.2h.6M404.5 696.3h.6M435.8 698.8h.6M431.2 736.8h.6M433.2 708.1h.6M433.1 729.6h.6M423.6 724.5h.6M416.5 723.3h.6M400.9 728.6h.6M415.4 721.1h.6M434.2 740.9h.6M415.6 714.2h.6M419.2 740.8h.6M405.8 710.1h.6M418.1 721.2h.6M428.9 726.3h.6M421.9 736.8h.6M423.5 737.7h.6M430.6 734.4h.6M430.7 723.3h.6M426.5 702.0h.6M424.0 724.5h.6M431.2 721.3h.6M432.1 729.4h.6M427.3 716.9h.6M428.1 727.1h.6M408.0 730.4h.6M412.7 715.6h.6M412.5 738.8h.6M432.0 718.8h.6M432.3 724.4h.6M409.9 697.8h.6M405.2 729.9h.6M417.5 716.1h.6M404.3 741.1h.6M431.1 695.7h.6M413.7 734.8h.6M415.8 731.3h.6M422.3 734.3h.6M411.2 725.9h.6M426.3 732.2h.6M412.6 724.7h.6M430.9 707.5h.6M424.7 704.8h.6M413.7 709.6h.6M421.1 708.7h.6M421.7 748.9h.6M427.2 709.4h.6M418.0 725.6h.6M420.0 709.2h.6M425.3 728.5h.6M418.0 730.4h.6M423.7 726.1h.6M412.2 737.6h.6M416.2 724.7h.6M422.5 716.8h.6M408.8 720.9h.6M413.4 717.1h.6M421.3 730.4h.6M426.9 731.9h.6M412.1 736.9h.6M425.3 707.9h.6M431.4 722.9h.6M404.9 707.4h.6M416.9 716.2h.6M422.4 739.1h.6M421.9 723.8h.6M416.7 701.2h.6M424.0 722.0h.6M418.9 735.9h.6M432.5 718.4h.6M410.3 718.3h.6M424.1 740.4h.6M426.3 725.6h.6M412.1 722.3h.6M417.5 730.8h.6M419.6 703.1h.6M415.8 715.1h.6M422.9 722.3h.6M416.7 736.0h.6M431.1 736.0h.6M408.6 691.3h.6M423.6 709.2h.6M417.2 709.7h.6M422.9 738.7h.6M405.1 749.4h.6M419.2 733.2h.6M410.1 729.1h.6M406.4 738.6h.6M420.5 697.3h.6M401.3 705.8h.6M421.5 731.9h.6M413.8 739.1h.6M424.9 715.0h.6M414.4 738.7h.6M430.2 694.9h.6M409.6 733.1h.6M421.9 722.0h.6M421.9 712.0h.6M405.4 738.8h.6M415.5 730.6h.6M433.2 723.6h.6M417.8 736.9h.6M423.7 716.6h.6M425.8 711.2h.6M406.3 726.2h.6M425.8 706.8h.6M414.4 729.9h.6M411.1 716.9h.6M435.9 736.6h.6M424.2 712.3h.6M410.0 735.2h.6M410.1 720.5h.6M423.8 750.9h.6M431.2 712.4h.6M416.3 719.8h.6M424.4 709.1h.6M414.0 720.7h.6M409.2 748.8h.6M429.8 705.5h.6M420.5 727.8h.6M408.8 749.3h.6M412.1 735.5h.6M408.7 719.7h.6M425.1 738.4h.6M434.2 726.3h.6M414.7 721.9h.6M403.3 729.1h.6M413.3 735.7h.6M430.5 713.6h.6M413.4 740.6h.6M415.3 716.6h.6M427.6 712.2h.6M416.0 735.0h.6M428.7 717.9h.6M423.3 709.2h.6M420.2 735.9h.6M408.8 730.6h.6M421.1 747.4h.6M404.8 722.4h.6M425.1 698.7h.6M401.4 706.4h.6M411.8 736.4h.6M424.5 695.8h.6M417.0 731.4h.6M406.6 736.3h.6M428.7 720.5h.6M435.2 713.8h.6M425.4 724.2h.6M418.6 698.7h.6M416.9 730.9h.6M424.0 718.8h.6M403.0 697.6h.6M432.1 728.5h.6M413.1 716.0h.6M409.6 722.5h.6M413.5 698.4h.6M402.1 727.8h.6M414.2 724.5h.6M423.6 718.0h.6M418.6 742.9h.6M414.8 731.3h.6M429.8 692.7h.6M401.4 722.6h.6M423.0 725.6h.6M414.5 716.6h.6M417.0 716.6h.6M411.5 702.7h.6M427.1 733.3h.6M429.1 746.9h.6M426.2 724.4h.6M424.4 747.0h.6M422.2 710.0h.6M429.2 720.5h.6M421.8 709.7h.6M415.8 724.5h.6M429.9 747.9h.6M432.3 730.4h.6M407.3 713.8h.6M419.2 712.3h.6M434.8 730.5h.6M416.0 738.2h.6M419.7 721.8h.6M402.5 716.2h.6M412.3 729.5h.6M415.6 733.9h.6M421.5 729.2h.6M423.4 710.8h.6M417.1 732.9h.6M424.1 724.0h.6M402.9 730.6h.6M407.5 735.1h.6M435.7 708.9h.6M406.5 729.4h.6M424.2 691.6h.6M427.1 710.7h.6M435.9 721.9h.6M411.4 727.3h.6M430.8 749.4h.6M411.9 736.6h.6M431.9 723.9h.6M414.9 715.2h.6M417.9 726.8h.6M409.1 696.3h.6M420.8 731.1h.6M429.3 736.1h.6M418.1 716.0h.6M404.3 732.4h.6M420.9 734.8h.6M407.9 709.4h.6M423.5 736.8h.6M416.2 695.7h.6M413.0 709.0h.6M426.1 737.5h.6M420.1 715.5h.6M416.0 744.1h.6M417.1 743.7h.6M407.2 730.3h.6M435.7 751.6h.6M416.8 706.6h.6M410.3 713.1h.6M423.5 736.6h.6M408.9 725.1h.6M420.3 731.3h.6M425.2 723.5h.6M410.9 723.4h.6M423.0 703.5h.6M413.6 722.8h.6M427.5 737.3h.6M419.8 710.4h.6M415.3 736.5h.6M404.7 740.2h.6M418.7 711.0h.6M421.1 712.3h.6M427.7 718.4h.6M431.7 746.2h.6M418.0 738.9h.6M421.4 716.0h.6M414.0 709.5h.6M419.9 719.9h.6M419.3 717.7h.6M421.1 732.6h.6M415.9 740.6h.6M418.5 695.8h.6M426.2 732.6h.6M411.2 730.2h.6M414.4 732.9h.6M404.9 746.3h.6M429.1 735.5h.6M415.0 732.3h.6M414.0 705.8h.6M444.4 781.8h.6M439.4 772.6h.6M447.4 780.3h.6M442.0 779.8h.6M446.5 779.4h.6M437.4 776.5h.6M438.9 779.7h.6M447.5 774.2h.6M452.1 776.7h.6M446.8 764.8h.6M438.5 782.8h.6M447.4 766.6h.6M456.1 774.4h.6M439.1 776.4h.6M443.0 767.5h.6M447.9 766.4h.6M444.8 775.7h.6M440.5 763.9h.6M443.8 784.8h.6M440.2 759.9h.6M437.3 779.6h.6M438.5 772.7h.6M455.7 765.4h.6M442.5 775.3h.6M447.9 787.3h.6M444.8 762.7h.6M447.2 774.9h.6M444.4 760.5h.6M447.9 765.9h.6M440.9 770.2h.6M446.3 784.5h.6M450.3 774.0h.6M450.5 778.7h.6M441.1 779.9h.6M448.5 766.5h.6M446.4 787.2h.6M442.4 780.5h.6M438.4 786.9h.6M437.0 769.9h.6M446.0 771.5h.6M449.0 771.1h.6M449.0 777.0h.6M441.0 779.7h.6M446.8 773.0h.6M450.1 781.3h.6M453.1 772.4h.6M443.6 781.5h.6M440.6 761.4h.6M438.7 760.3h.6M446.2 781.1h.6M485.4 758.4h.6M402.6 735.9h.6M463.5 762.6h.6M450.5 679.7h.6M450.0 786.6h.6M448.6 700.5h.6M475.9 785.0h.6M415.6 710.8h.6M434.0 766.9h.6M422.3 716.3h.6M439.3 733.7h.6M432.8 766.2h.6M499.9 786.5h.6M453.8 715.9h.6M452.0 711.4h.6M400.7 690.8h.6M455.0 696.5h.6M421.4 744.2h.6M461.6 788.1h.6M444.7 713.9h.6M474.9 682.6h.6M474.3 704.6h.6M476.4 756.7h.6M443.7 770.1h.6M408.3 771.9h.6M434.2 790.6h.6M488.6 692.0h.6M455.2 788.6h.6M513.6 713.2h.6M418.8 685.6h.6M434.7 698.3h.6M473.9 687.9h.6M486.8 736.4h.6M506.3 745.1h.6M444.8 708.5h.6M502.2 769.3h.6M463.4 698.6h.6M442.9 676.0h.6M482.9 758.6h.6M441.6 759.4h.6M402.5 744.5h.6M483.6 685.2h.6M507.3 718.8h.6M502.1 772.8h.6M492.8 707.6h.6M407.5 738.0h.6M510.2 712.2h.6M454.2 724.1h.6M419.1 769.7h.6M467.2 725.5h.6M480.2 693.1h.6M455.7 761.0h.6M430.3 718.5h.6M512.3 732.9h.6M495.0 763.8h.6M491.2 708.9h.6M415.2 773.3h.6M437.5 740.5h.6M426.8 789.4h.6M403.0 739.7h.6" stroke="#38446a" stroke-width="1.15" opacity="0.85" fill="none"/>
<path d="M413.6 774.6h.6M410.0 766.6h.6M419.1 762.4h.6M412.0 769.5h.6M407.4 767.6h.6M411.9 765.1h.6M407.7 759.1h.6M411.6 768.7h.6M409.3 775.0h.6M406.3 773.5h.6M415.4 757.8h.6M408.7 767.5h.6M418.8 767.4h.6M407.8 766.0h.6M409.7 766.9h.6M409.8 767.3h.6M413.0 759.3h.6M410.3 765.7h.6M408.7 769.1h.6M410.4 773.4h.6M406.4 764.5h.6M408.3 777.8h.6M402.9 765.8h.6M414.0 765.0h.6M408.7 772.5h.6M413.4 769.7h.6M411.8 776.4h.6M405.7 771.4h.6M417.3 762.6h.6M402.4 758.2h.6M407.2 770.5h.6M411.7 765.5h.6M408.8 768.9h.6M418.3 767.7h.6M406.5 767.5h.6M409.9 758.1h.6M414.1 769.0h.6M408.9 765.2h.6M408.9 775.3h.6M418.9 769.2h.6M408.9 762.3h.6M406.1 774.0h.6M410.0 766.5h.6M411.9 764.3h.6M411.5 763.0h.6M407.4 778.1h.6M415.3 766.5h.6M406.9 767.0h.6M411.9 767.4h.6M405.2 771.5h.6M407.1 763.4h.6M410.2 771.6h.6M412.8 771.6h.6M408.4 769.0h.6M407.6 762.3h.6M412.9 768.2h.6M408.5 765.2h.6M412.3 770.1h.6M400.4 774.1h.6M415.0 767.0h.6M412.7 772.3h.6M415.2 771.9h.6M410.8 783.1h.6M413.4 765.2h.6M416.7 764.1h.6M416.3 774.8h.6M416.6 768.5h.6M414.0 766.6h.6M402.5 764.3h.6M404.9 769.6h.6M413.5 769.0h.6M412.1 768.6h.6M414.7 770.8h.6M404.0 769.2h.6M413.6 774.3h.6M415.6 758.7h.6M405.4 765.5h.6M404.6 765.5h.6M411.5 774.9h.6M410.2 763.9h.6M415.1 767.4h.6M412.9 767.0h.6M412.2 763.1h.6M406.1 773.0h.6M407.8 762.9h.6M410.4 766.2h.6M406.6 762.6h.6M413.8 760.7h.6M419.8 760.7h.6M416.7 766.9h.6M407.9 770.3h.6M416.0 765.9h.6M405.6 767.6h.6M415.7 770.8h.6M413.6 769.5h.6M408.9 763.4h.6M412.5 773.2h.6M412.7 765.8h.6M404.1 771.5h.6M408.7 768.7h.6M407.5 767.5h.6M409.5 774.3h.6M411.2 770.6h.6M415.4 778.2h.6M405.4 770.0h.6M407.5 767.5h.6M405.5 774.8h.6M419.0 764.4h.6M412.6 765.9h.6M414.4 776.1h.6M406.0 770.2h.6M413.7 767.1h.6M411.4 770.9h.6M420.6 763.0h.6M410.8 772.7h.6M416.7 771.2h.6M409.6 762.1h.6M415.2 768.4h.6M408.8 766.0h.6M408.2 776.0h.6M413.7 768.5h.6M414.5 771.4h.6M415.7 770.2h.6M423.2 771.8h.6M417.4 774.1h.6M419.7 762.0h.6M406.4 775.1h.6M403.4 771.0h.6M410.4 770.9h.6M411.1 769.6h.6M402.5 771.3h.6M413.3 766.1h.6M404.4 778.2h.6M408.1 773.0h.6M407.5 768.1h.6M412.7 763.2h.6M408.9 774.6h.6M419.6 775.9h.6M415.6 770.7h.6M413.0 779.1h.6M411.2 765.4h.6M412.5 773.2h.6M410.7 771.0h.6M413.3 769.8h.6M413.7 773.6h.6M413.4 773.5h.6M414.6 770.1h.6M408.5 771.8h.6M407.8 766.7h.6M415.5 775.3h.6" stroke="#4f8a9c" stroke-width="1.05" opacity="0.75" fill="none"/>
<path d="M479.9 701.7h.6M482.6 701.5h.6M474.8 710.4h.6M485.8 700.4h.6M475.8 708.8h.6M480.6 699.9h.6M484.2 704.4h.6M475.9 711.7h.6M476.4 711.6h.6M482.8 701.6h.6M487.1 709.9h.6M481.0 699.6h.6M487.0 697.8h.6M476.9 702.2h.6M483.1 702.9h.6M488.7 692.5h.6M479.5 701.8h.6M481.2 702.4h.6M477.8 699.9h.6M480.1 704.2h.6M483.6 707.2h.6M479.0 703.2h.6M477.3 711.3h.6M478.0 708.6h.6M482.2 711.8h.6M479.2 704.2h.6M479.4 705.9h.6M477.1 715.0h.6M480.4 712.7h.6M485.1 698.6h.6M477.9 721.3h.6M478.0 707.3h.6M478.5 707.0h.6M483.4 704.9h.6M488.6 702.0h.6M484.5 695.3h.6M483.3 705.4h.6M484.4 700.0h.6M480.3 705.0h.6M478.8 712.7h.6M477.2 703.4h.6M479.4 709.1h.6M484.9 706.7h.6M479.9 704.9h.6M483.5 701.5h.6M477.8 704.1h.6M478.8 700.5h.6M473.6 711.9h.6M480.8 708.8h.6M481.2 701.1h.6M471.9 710.0h.6M482.6 703.5h.6M485.7 697.8h.6M484.4 693.8h.6M479.3 708.2h.6M481.1 712.7h.6M483.2 711.0h.6M479.1 704.1h.6M477.6 705.0h.6M480.4 704.8h.6M482.3 700.0h.6M477.1 707.9h.6M483.5 704.9h.6M483.9 709.5h.6M479.2 712.7h.6M476.4 704.2h.6M481.5 711.3h.6M484.9 709.3h.6M483.8 700.7h.6M483.0 701.3h.6M476.6 712.6h.6M482.0 703.0h.6M477.2 706.0h.6M477.2 705.3h.6M477.0 711.9h.6M479.6 707.5h.6M479.9 705.6h.6M474.0 705.8h.6M476.0 714.4h.6M482.9 698.3h.6M478.2 709.5h.6M482.8 697.3h.6M483.5 698.0h.6M488.6 703.7h.6M480.7 701.7h.6M477.2 706.6h.6M479.0 706.3h.6M484.2 695.5h.6M481.1 703.5h.6M476.8 703.1h.6M481.9 707.5h.6M483.3 705.9h.6M477.9 707.1h.6M484.3 711.6h.6M480.6 702.0h.6M474.4 704.0h.6M473.9 708.8h.6M484.1 701.6h.6M481.1 704.9h.6M483.0 695.3h.6M483.2 705.3h.6M475.1 702.7h.6M488.0 698.0h.6M483.8 703.3h.6M479.1 707.8h.6M477.8 706.0h.6M483.1 703.2h.6M482.5 705.5h.6M484.8 706.9h.6M476.0 708.2h.6M470.4 709.3h.6M483.9 702.0h.6M473.9 713.8h.6M472.1 709.4h.6M480.2 711.6h.6M479.7 706.1h.6M481.6 704.1h.6M477.2 707.6h.6M485.8 700.3h.6M478.2 712.0h.6" stroke="#a0b458" stroke-width="1.3" opacity="0.85" fill="none"/>
<g fill="none" stroke="#cc5a88" stroke-width="1.5">
<path d="M280.2 675.2H396.8M280.2 675.2V791.8H396.8"/>
<path d="M399.5 675.2H516V791.8H399.5V675.2"/>
<path d="M316.9 675V791.8M280.2 755.6H396.8M436 675V791.8M399.5 755.8H516"/>
<path d="M317.5 701.5H337.2V730.6H317.5M437 702H455.8V730.7H437"/>
</g>
<path d="M278.3 673.6H517M278.5 673V792.8M397.7 673V792.5" stroke="#1a0a14" stroke-width="1.5" fill="none"/>
<path d="M397.7 676V791" stroke="#7a2a50" stroke-width="1.6" fill="none"/>
<text id="lA" x="1.40" y="19.00" font-family="Liberation Sans" font-weight="bold" stroke="#111" stroke-width="0.45" font-size="25.05" text-anchor="start" fill="#111" textLength="18.65" lengthAdjust="spacingAndGlyphs">A</text>
<text id="ya1_6" x="36.20" y="42.20" font-family="Liberation Sans" font-weight="bold" stroke="#111" stroke-width="0.45" font-size="9.78" text-anchor="end" fill="#111" textLength="13.19" lengthAdjust="spacingAndGlyphs">1.6</text>
<text id="ya1_4" x="36.20" y="56.40" font-family="Liberation Sans" font-weight="bold" stroke="#111" stroke-width="0.45" font-size="12.13" text-anchor="end" fill="#111" textLength="13.28" lengthAdjust="spacingAndGlyphs">1.4</text>
<text id="ya1_2" x="36.20" y="70.60" font-family="Liberation Sans" font-weight="bold" stroke="#111" stroke-width="0.45" font-size="9.91" text-anchor="end" fill="#111" textLength="13.19" lengthAdjust="spacingAndGlyphs">1.2</text>
<text id="ya1" x="35.60" y="85.00" font-family="Liberation Sans" font-weight="bold" stroke="#111" stroke-width="0.45" font-size="12.13" text-anchor="end" fill="#111" textLength="4.41" lengthAdjust="spacingAndGlyphs">1</text>
<text id="ya0_8" x="36.00" y="99.40" font-family="Liberation Sans" font-weight="bold" stroke="#111" stroke-width="0.45" font-size="9.91" text-anchor="end" fill="#111" textLength="13.87" lengthAdjust="spacingAndGlyphs">0.8</text>
<text id="ya0_6" x="36.00" y="113.20" font-family="Liberation Sans" font-weight="bold" stroke="#111" stroke-width="0.45" font-size="11.76" text-anchor="end" fill="#111" textLength="13.87" lengthAdjust="spacingAndGlyphs">0.6</text>
<text id="ya0_4" x="36.00" y="127.40" font-family="Liberation Sans" font-weight="bold" stroke="#111" stroke-width="0.45" font-size="9.91" text-anchor="end" fill="#111" textLength="14.10" lengthAdjust="spacingAndGlyphs">0.4</text>
<text id="ya0_2" x="36.00" y="141.80" font-family="Liberation Sans" font-weight="bold" stroke="#111" stroke-width="0.45" font-size="11.33" text-anchor="end" fill="#111" textLength="13.87" lengthAdjust="spacingAndGlyphs">0.2</text>
<text id="wlab" transform="translate(9.20,94.90) rotate(-90)" font-family="Liberation Sans" font-weight="bold" stroke="#111" stroke-width="0.45" font-size="9.43" text-anchor="middle" fill="#111" textLength="65.02" lengthAdjust="spacingAndGlyphs">Weight (g)</text>
<text id="sa1" x="123.20" y="119.30" font-family="Liberation Sans" font-weight="bold" stroke="#111" stroke-width="0.45" font-size="14.05" text-anchor="start" fill="#111" textLength="4.90" lengthAdjust="spacingAndGlyphs">*</text>
<text id="sa2" x="186.60" y="46.90" font-family="Liberation Sans" font-weight="bold" stroke="#111" stroke-width="0.45" font-size="14.61" text-anchor="start" fill="#111" textLength="5.31" lengthAdjust="spacingAndGlyphs">*</text>
<text id="c24" x="65.00" y="169.80" font-family="Liberation Sans" font-weight="bold" stroke="#111" stroke-width="0.45" font-size="11.89" text-anchor="start" fill="#111" textLength="17.15" lengthAdjust="spacingAndGlyphs">2-4</text>
<text id="c56" x="128.20" y="169.80" font-family="Liberation Sans" font-weight="bold" stroke="#111" stroke-width="0.45" font-size="11.89" text-anchor="start" fill="#111" textLength="16.64" lengthAdjust="spacingAndGlyphs">5-6</text>
<text id="c6" x="189.20" y="169.80" font-family="Liberation Sans" font-weight="bold" stroke="#111" stroke-width="0.45" font-size="11.89" text-anchor="start" fill="#111" textLength="16.43" lengthAdjust="spacingAndGlyphs">&gt; 6</text>
<text id="age" x="97.00" y="186.40" font-family="Liberation Sans" font-weight="bold" stroke="#111" stroke-width="0.45" font-size="10.98" text-anchor="start" fill="#111" textLength="78.92" lengthAdjust="spacingAndGlyphs">Age (months)</text>
<text id="lc1" x="63.00" y="37.40" font-family="Liberation Sans" font-weight="bold" stroke="#111" stroke-width="0.45" font-size="10.12" text-anchor="start" fill="#111" textLength="12.53" lengthAdjust="spacingAndGlyphs">Cre</text>
<text id="lc2" x="97.40" y="37.60" font-family="Liberation Sans" font-weight="bold" stroke="#111" stroke-width="0.45" font-size="10.17" text-anchor="start" fill="#111" textLength="12.77" lengthAdjust="spacingAndGlyphs">Cre</text>
<text id="lB" x="246.00" y="19.00" font-family="Liberation Sans" font-weight="bold" stroke="#111" stroke-width="0.45" font-size="25.05" text-anchor="start" fill="#111" textLength="16.82" lengthAdjust="spacingAndGlyphs">B</text>
<text id="x40" x="278.60" y="326.00" font-family="Liberation Serif" font-weight="bold" stroke="#111" stroke-width="0.25" font-size="26.84" text-anchor="start" fill="#111" textLength="42.42" lengthAdjust="spacingAndGlyphs">40X</text>
<text id="x100" x="403.60" y="326.80" font-family="Liberation Serif" font-weight="bold" stroke="#111" stroke-width="0.25" font-size="26.42" text-anchor="start" fill="#111" textLength="56.65" lengthAdjust="spacingAndGlyphs">100X</text>
<text id="lC" x="1.00" y="359.10" font-family="Liberation Sans" font-weight="bold" stroke="#111" stroke-width="0.45" font-size="26.17" text-anchor="start" fill="#111" textLength="17.26" lengthAdjust="spacingAndGlyphs">C</text>
<text id="yc100" x="73.40" y="373.70" font-family="Liberation Sans" font-weight="bold" stroke="#111" stroke-width="0.45" font-size="11.99" text-anchor="end" fill="#111" textLength="30.10" lengthAdjust="spacingAndGlyphs">100.0</text>
<text id="yc90" x="70.20" y="395.16" font-family="Liberation Sans" font-weight="bold" stroke="#111" stroke-width="0.45" font-size="11.99" text-anchor="end" fill="#111" textLength="26.62" lengthAdjust="spacingAndGlyphs">90.0</text>
<text id="yc80" x="70.20" y="416.62" font-family="Liberation Sans" font-weight="bold" stroke="#111" stroke-width="0.45" font-size="11.99" text-anchor="end" fill="#111" textLength="26.62" lengthAdjust="spacingAndGlyphs">80.0</text>
<text id="yc70" x="70.20" y="438.08" font-family="Liberation Sans" font-weight="bold" stroke="#111" stroke-width="0.45" font-size="11.99" text-anchor="end" fill="#111" textLength="26.62" lengthAdjust="spacingAndGlyphs">70.0</text>
<text id="yc60" x="70.20" y="459.54" font-family="Liberation Sans" font-weight="bold" stroke="#111" stroke-width="0.45" font-size="11.99" text-anchor="end" fill="#111" textLength="26.62" lengthAdjust="spacingAndGlyphs">60.0</text>
<text id="yc50" x="70.20" y="481.00" font-family="Liberation Sans" font-weight="bold" stroke="#111" stroke-width="0.45" font-size="11.99" text-anchor="end" fill="#111" textLength="26.62" lengthAdjust="spacingAndGlyphs">50.0</text>
<text id="yc40" x="70.20" y="503.46" font-family="Liberation Sans" font-weight="bold" stroke="#111" stroke-width="0.45" font-size="11.99" text-anchor="end" fill="#111" textLength="25.72" lengthAdjust="spacingAndGlyphs">40.0</text>
<text id="yc30" x="70.20" y="524.92" font-family="Liberation Sans" font-weight="bold" stroke="#111" stroke-width="0.45" font-size="11.99" text-anchor="end" fill="#111" textLength="26.62" lengthAdjust="spacingAndGlyphs">30.0</text>
<text id="yc20" x="70.20" y="546.38" font-family="Liberation Sans" font-weight="bold" stroke="#111" stroke-width="0.45" font-size="11.99" text-anchor="end" fill="#111" textLength="26.62" lengthAdjust="spacingAndGlyphs">20.0</text>
<text id="yc10" x="70.20" y="567.84" font-family="Liberation Sans" font-weight="bold" stroke="#111" stroke-width="0.45" font-size="11.99" text-anchor="end" fill="#111" textLength="26.66" lengthAdjust="spacingAndGlyphs">10.0</text>
<text id="yc0" x="65.20" y="589.30" font-family="Liberation Sans" font-weight="bold" stroke="#111" stroke-width="0.45" font-size="11.99" text-anchor="end" fill="#111" textLength="18.14" lengthAdjust="spacingAndGlyphs">0.0</text>
<text id="cre0" x="88.00" y="602.60" font-family="Liberation Sans" font-weight="bold" stroke="#111" stroke-width="0.45" font-size="11.90" text-anchor="start" fill="#111" textLength="22.79" lengthAdjust="spacingAndGlyphs">Cre</text>
<text id="cre1" x="144.80" y="602.60" font-family="Liberation Sans" font-weight="bold" stroke="#111" stroke-width="0.45" font-size="11.90" text-anchor="start" fill="#111" textLength="21.37" lengthAdjust="spacingAndGlyphs">Cre</text>
<text id="cre2" x="197.20" y="602.60" font-family="Liberation Sans" font-weight="bold" stroke="#111" stroke-width="0.45" font-size="12.50" text-anchor="start" fill="#111" textLength="21.92" lengthAdjust="spacingAndGlyphs">Cre</text>
<text id="cre3" x="250.70" y="602.60" font-family="Liberation Sans" font-weight="bold" stroke="#111" stroke-width="0.45" font-size="12.50" text-anchor="start" fill="#111" textLength="21.72" lengthAdjust="spacingAndGlyphs">Cre</text>
<text id="cre4" x="303.20" y="602.60" font-family="Liberation Sans" font-weight="bold" stroke="#111" stroke-width="0.45" font-size="11.90" text-anchor="start" fill="#111" textLength="21.94" lengthAdjust="spacingAndGlyphs">Cre</text>
<text id="cre5" x="355.20" y="602.60" font-family="Liberation Sans" font-weight="bold" stroke="#111" stroke-width="0.45" font-size="12.50" text-anchor="start" fill="#111" textLength="21.77" lengthAdjust="spacingAndGlyphs">Cre</text>
<text id="gBlood" x="110.40" y="617.60" font-family="Liberation Sans" font-weight="bold" stroke="#111" stroke-width="0.45" font-size="14.36" text-anchor="start" fill="#111" textLength="45.99" lengthAdjust="spacingAndGlyphs">Blood</text>
<text id="gBM" x="226.60" y="618.00" font-family="Liberation Sans" font-weight="bold" stroke="#111" stroke-width="0.45" font-size="17.02" text-anchor="start" fill="#111" textLength="26.15" lengthAdjust="spacingAndGlyphs">BM</text>
<text id="gSpleen" x="318.20" y="617.80" font-family="Liberation Sans" font-weight="bold" stroke="#111" stroke-width="0.45" font-size="15.05" text-anchor="start" fill="#111" textLength="52.92" lengthAdjust="spacingAndGlyphs">Spleen</text>
<text id="sc1" x="270.40" y="551.30" font-family="Liberation Sans" font-weight="bold" stroke="#111" stroke-width="0.45" font-size="16.24" text-anchor="start" fill="#111" textLength="8.94" lengthAdjust="spacingAndGlyphs">*</text>
<text id="sc2" x="300.80" y="500.90" font-family="Liberation Sans" font-weight="bold" stroke="#111" stroke-width="0.45" font-size="19.50" text-anchor="start" fill="#111" textLength="16.70" lengthAdjust="spacingAndGlyphs">**</text>
<text id="sc3" x="370.40" y="391.60" font-family="Liberation Sans" font-weight="bold" stroke="#111" stroke-width="0.45" font-size="18.95" text-anchor="start" fill="#111" textLength="8.30" lengthAdjust="spacingAndGlyphs">*</text>
<text id="lg0" x="405.00" y="461.20" font-family="Liberation Sans" font-weight="bold" stroke="#111" stroke-width="0.45" font-size="10.50" text-anchor="start" fill="#111" textLength="46.42" lengthAdjust="spacingAndGlyphs">Blast/IM</text>
<text id="lg1" x="405.00" y="472.22" font-family="Liberation Sans" font-weight="bold" stroke="#111" stroke-width="0.45" font-size="10.50" text-anchor="start" fill="#111" textLength="71.44" lengthAdjust="spacingAndGlyphs">Intermediate</text>
<text id="lg2" x="403.40" y="483.24" font-family="Liberation Sans" font-weight="bold" stroke="#111" stroke-width="0.45" font-size="10.50" text-anchor="start" fill="#111" textLength="59.75" lengthAdjust="spacingAndGlyphs">neutrophil</text>
<text id="lg3" x="403.50" y="494.26" font-family="Liberation Sans" font-weight="bold" stroke="#111" stroke-width="0.45" font-size="10.50" text-anchor="start" fill="#111" textLength="64.99" lengthAdjust="spacingAndGlyphs">monocytes</text>
<text id="lg4" x="403.40" y="505.28" font-family="Liberation Sans" font-weight="bold" stroke="#111" stroke-width="0.45" font-size="10.50" text-anchor="start" fill="#111" textLength="36.05" lengthAdjust="spacingAndGlyphs">lymph</text>
<text id="lg5" x="403.40" y="516.30" font-family="Liberation Sans" font-weight="bold" stroke="#111" stroke-width="0.45" font-size="10.50" text-anchor="start" fill="#111" textLength="60.37" lengthAdjust="spacingAndGlyphs">eosinophil</text>
<text id="lD" x="0.20" y="659.60" font-family="Liberation Sans" font-weight="bold" stroke="#111" stroke-width="0.45" font-size="26.66" text-anchor="start" fill="#111" textLength="17.10" lengthAdjust="spacingAndGlyphs">D</text>
<text id="bm" x="14.60" y="681.60" font-family="Liberation Serif" font-weight="bold" stroke="#111" stroke-width="0.25" font-size="11.82" text-anchor="start" fill="#111" textLength="83.77" lengthAdjust="spacingAndGlyphs">BONE MARROW</text>
<text id="spl" x="155.80" y="680.60" font-family="Liberation Serif" font-weight="bold" stroke="#111" stroke-width="0.25" font-size="11.76" text-anchor="start" fill="#111" textLength="41.31" lengthAdjust="spacingAndGlyphs">SPLEEN</text>
<text id="lE" x="255.00" y="659.60" font-family="Liberation Sans" font-weight="bold" stroke="#111" stroke-width="0.45" font-size="25.41" text-anchor="start" fill="#111" textLength="15.42" lengthAdjust="spacingAndGlyphs">E</text>
<text id="mac" transform="translate(268.15,735.95) rotate(-90)" font-family="Liberation Serif" font-weight="bold" stroke="#111" stroke-width="0.25" font-size="15.77" text-anchor="middle" fill="#111" textLength="34.09" lengthAdjust="spacingAndGlyphs">Mac1</text>
<text id="gr1" x="338.00" y="812.80" font-family="Liberation Serif" font-weight="bold" stroke="#111" stroke-width="0.25" font-size="13.86" text-anchor="start" fill="#111" textLength="24.28" lengthAdjust="spacingAndGlyphs">Gr1</text>
<text id="gr2" x="438.00" y="812.80" font-family="Liberation Serif" font-weight="bold" stroke="#111" stroke-width="0.25" font-size="13.86" text-anchor="start" fill="#111" textLength="24.28" lengthAdjust="spacingAndGlyphs">Gr1</text>
<text id="e41" x="282.00" y="687.20" font-family="Liberation Sans" stroke="#cc5a88" stroke-width="0.15" font-size="11.14" text-anchor="start" fill="#cc5a88" textLength="17.62" lengthAdjust="spacingAndGlyphs">4.1</text>
<text id="e225" x="370.30" y="686.80" font-family="Liberation Sans" stroke="#cc5a88" stroke-width="0.15" font-size="13.58" text-anchor="start" fill="#cc5a88" textLength="26.28" lengthAdjust="spacingAndGlyphs">22.5</text>
<text id="e717" x="281.00" y="789.00" font-family="Liberation Sans" stroke="#cc5a88" stroke-width="0.15" font-size="12.38" text-anchor="start" fill="#cc5a88" textLength="27.20" lengthAdjust="spacingAndGlyphs">71.7</text>
<text id="e172" x="369.00" y="790.60" font-family="Liberation Sans" stroke="#cc5a88" stroke-width="0.15" font-size="13.37" text-anchor="start" fill="#cc5a88" textLength="26.08" lengthAdjust="spacingAndGlyphs">1.72</text>
<text id="e966" x="401.00" y="686.80" font-family="Liberation Sans" stroke="#cc5a88" stroke-width="0.15" font-size="13.64" text-anchor="start" fill="#cc5a88" textLength="26.34" lengthAdjust="spacingAndGlyphs">9.66</text>
<text id="e511" x="491.00" y="687.20" font-family="Liberation Sans" stroke="#cc5a88" stroke-width="0.15" font-size="13.64" text-anchor="start" fill="#cc5a88" textLength="23.84" lengthAdjust="spacingAndGlyphs">51.1</text>
<text id="e381" x="399.40" y="790.60" font-family="Liberation Sans" stroke="#cc5a88" stroke-width="0.15" font-size="13.37" text-anchor="start" fill="#cc5a88" textLength="26.24" lengthAdjust="spacingAndGlyphs">38.1</text>
<text id="e114" x="487.60" y="790.60" font-family="Liberation Sans" stroke="#cc5a88" stroke-width="0.15" font-size="13.37" text-anchor="start" fill="#cc5a88" textLength="26.26" lengthAdjust="spacingAndGlyphs">1.14</text>
</svg>
</body></html>
